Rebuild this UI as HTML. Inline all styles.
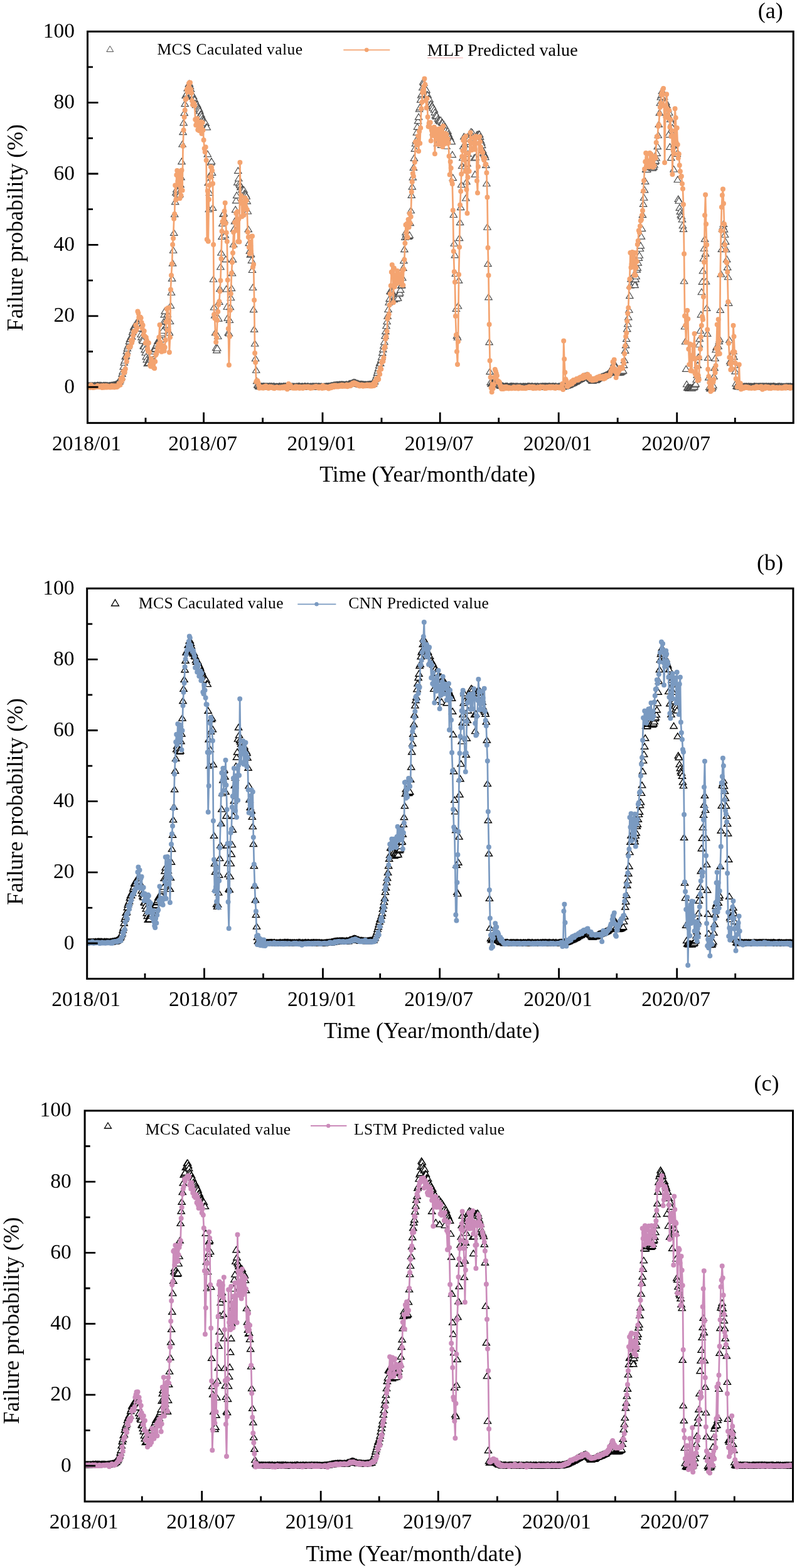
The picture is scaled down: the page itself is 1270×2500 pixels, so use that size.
<!DOCTYPE html>
<html><head><meta charset="utf-8"><title>Failure probability prediction</title>
<style>
html,body{margin:0;padding:0;background:#fff}
svg{display:block}
text{font-family:"Liberation Serif","Times New Roman",serif;fill:#000}
.tl{font-size:33.5px}
.at{font-size:35.8px}
.lg{font-size:25.5px}
.pl{font-size:36px}
</style></head><body>
<svg width="1270" height="2500" viewBox="0 0 1270 2500">
<rect width="1270" height="2500" fill="#fff"/>
<clipPath id="cpa"><rect x="139.5" y="50.25" width="1124.7" height="624.15"/></clipPath>
<g clip-path="url(#cpa)">
<marker id="ma" markerUnits="userSpaceOnUse" markerWidth="20" markerHeight="20" refX="10" refY="10" viewBox="0 0 20 20" overflow="visible"><path d="M10 4.8L15.7 14.2H4.3Z" fill="#fff" stroke="#484848" stroke-width="1.15"/></marker>
<polyline points="137.9,615.3 138.9,615.4 140,614.9 141,615.5 142,615 143.1,615.2 144.1,615.5 145.1,615 146.2,615.5 147.2,615.1 148.2,615.4 149.2,615.4 150.3,615.1 151.3,614.7 152.3,615.3 153.4,615.2 154.4,614.9 155.4,614.6 156.5,614.9 157.5,615 158.5,614.5 159.6,615.3 160.6,614.6 161.6,615.1 162.7,615.2 163.7,615.3 164.7,615.1 165.8,614.6 166.8,615.2 167.8,614.8 168.8,614.7 169.9,615 170.9,614.8 171.9,615.2 173,615.2 174,615.1 175,614.7 176.1,614.8 177.1,614.7 178.1,614.4 179.2,614.4 180.2,614.4 181.2,613.8 182.3,613.7 183.3,613.7 184.3,613.1 185.4,612.8 186.4,611.7 187.4,611.1 188.4,610.8 189.5,608.6 190.5,607.9 191.5,605.8 192.6,602.9 193.6,600.8 194.6,595.9 195.7,592.1 196.7,584.7 197.7,578.1 198.8,574.8 199.8,568.4 200.8,567 201.9,559.7 202.9,555.4 203.9,552.3 205,549.8 206,544.2 207,540.5 208,540.4 209.1,536.2 210.1,536.8 211.1,529.6 212.2,526.7 213.2,521.7 214.2,519.9 215.3,521 216.3,518.1 217.3,514.7 218.4,517 219.4,513.7 220.4,517.5 221.5,519.8 222.5,524.1 223.5,523.7 224.6,533 225.6,537.7 226.6,541.6 227.6,543.4 228.7,551.5 229.7,552.3 230.7,557.4 231.8,562.1 232.8,568.7 233.8,573.5 234.9,579.5 235.9,578.3 236.9,578.4 238,573.1 239,570.5 240,572.9 241.1,570.1 242.1,567.1 243.1,564.4 244.2,560.2 245.2,556.9 246.2,556.3 247.2,555.9 248.3,551.7 249.3,550.4 250.3,547.6 251.4,543.8 252.4,544 253.4,543.7 254.5,541.6 255.5,539.2 256.5,541 257.6,533.6 258.6,531 259.6,527 260.7,513.3 261.7,501.6 262.7,495.9 263.8,511.9 264.8,520 265.8,517.9 266.9,500.8 267.9,511.3 268.9,528.6 269.9,530.3 271,512.3 272,487.1 273,466.3 274.1,443.9 275.1,419.6 276.1,399 277.2,371.1 278.2,341.5 279.2,321.7 280.3,306.9 281.3,301.8 282.3,309 283.4,304.9 284.4,308.8 285.4,310.8 286.5,309.5 287.5,294.1 288.5,282.4 289.5,257.4 290.6,229.8 291.6,210.4 292.6,195.6 293.7,179.9 294.7,165.4 295.7,152.3 296.8,150.4 297.8,148.8 298.8,140.7 299.9,139.3 300.9,133.9 301.9,133.4 303,137.5 304,142 305,148.1 306.1,150.3 307.1,154.3 308.1,153.4 309.1,157.7 310.2,159 311.2,164.7 312.2,167.5 313.3,165.9 314.3,167 315.3,169.9 316.4,172.3 317.4,174.4 318.4,177 319.5,182.3 320.5,182.5 321.5,185.5 322.6,189.5 323.6,191.5 324.6,192.4 325.7,195 326.7,194.7 327.7,196.2 328.7,202.5 329.8,202.8 330.8,245.6 331.8,291.2 332.9,333.4 333.9,307.1 334.9,278.7 336,259 337,257.3 338,275.1 339.1,331.2 340.1,445 341.1,489.8 342.2,502.8 343.2,530.3 344.2,554.6 345.3,558.4 346.3,555.1 347.3,536.1 348.3,507.9 349.4,481.3 350.4,460.4 351.4,425.5 352.5,402.8 353.5,377.2 354.5,356.3 355.6,341.2 356.6,340 357.6,350.8 358.7,374.8 359.7,413.4 360.7,460.8 361.8,489 362.8,506.9 363.8,530.2 364.9,531.5 365.9,510.3 366.9,489.5 367.9,474.5 369,459.4 370,435.5 371,413.7 372.1,389.5 373.1,364.8 374.1,352.6 375.2,334.1 376.2,319.7 377.2,311.4 378.3,290.6 379.3,272.1 380.3,284.5 381.4,292.7 382.4,295.3 383.4,298.5 384.5,298.3 385.5,302.3 386.5,302.8 387.5,306.1 388.6,302.8 389.6,308.2 390.6,309.4 391.7,310.5 392.7,313 393.7,320.6 394.8,336.8 395.8,365.4 396.8,387.4 397.9,399.9 398.9,405.9 399.9,404.9 401,415.1 402,430.3 403,458.3 404.1,493.4 405.1,524.9 406.1,547.8 407.1,571.5 408.2,590.1 409.2,607.5 410.2,613.5 411.3,614.4 412.3,616.1 413.3,615.9 414.4,616.3 415.4,616.4 416.4,616.1 417.5,616.3 418.5,616.3 419.5,616.1 420.6,616 421.6,616.4 422.6,616.2 423.7,616.3 424.7,616.3 425.7,616.2 426.7,616.4 427.8,616.3 428.8,616.4 429.8,615.9 430.9,616.2 431.9,616 432.9,615.9 434,616.6 435,616.3 436,615.9 437.1,616 438.1,616.7 439.1,616.7 440.2,616.4 441.2,616.7 442.2,616.6 443.3,616.7 444.3,616.2 445.3,616.1 446.3,616 447.4,616.7 448.4,616.2 449.4,616.2 450.5,616.7 451.5,616 452.5,615.9 453.6,616.6 454.6,615.9 455.6,616.4 456.7,616.4 457.7,615.9 458.7,616 459.8,616.7 460.8,616.4 461.8,616.3 462.9,616.5 463.9,616.6 464.9,616.5 465.9,616.1 467,616.8 468,616.3 469,616.4 470.1,616.8 471.1,616.5 472.1,616.2 473.2,616.3 474.2,616.7 475.2,615.9 476.3,616.1 477.3,615.9 478.3,616.7 479.4,616.6 480.4,616.8 481.4,616.1 482.5,616.6 483.5,616.7 484.5,616.4 485.5,616 486.6,616.1 487.6,616.6 488.6,616.7 489.7,616 490.7,616.3 491.7,616.2 492.8,616.7 493.8,616.8 494.8,616.2 495.9,616.4 496.9,616.7 497.9,616 499,616.2 500,616.1 501,616.7 502.1,616 503.1,616.7 504.1,616 505.1,616.4 506.2,616.5 507.2,616.3 508.2,616 509.3,616.6 510.3,616.7 511.3,616.3 512.4,616.6 513.4,616.7 514.4,616.7 515.5,616.8 516.5,616.6 517.5,616.5 518.6,616.5 519.6,616.1 520.6,616.4 521.7,616.1 522.7,616.2 523.7,615.9 524.8,616.1 525.8,615.7 526.8,615.8 527.8,615 528.9,615 529.9,615.1 530.9,614.7 532,614.1 533,614.7 534,613.9 535.1,614 536.1,613.8 537.1,613.5 538.2,613.8 539.2,613.7 540.2,613.5 541.3,613.2 542.3,613.8 543.3,613.3 544.4,613.4 545.4,613.4 546.4,613.6 547.4,613.6 548.5,613.8 549.5,613.7 550.5,613.7 551.6,613.1 552.6,613.5 553.6,613.6 554.7,613.6 555.7,612.5 556.7,612.1 557.8,611.9 558.8,611.8 559.8,611.5 560.9,611 561.9,610.4 562.9,610.3 564,609.6 565,610.2 566,610 567,610.4 568.1,611.2 569.1,611.8 570.1,611.4 571.2,612.3 572.2,612.5 573.2,613.1 574.3,612.8 575.3,612.8 576.3,612.8 577.4,613.2 578.4,612.9 579.4,613.5 580.5,613.3 581.5,613.5 582.5,613.3 583.6,613.6 584.6,613.6 585.6,613.3 586.6,613.4 587.7,613 588.7,613 589.7,612.8 590.8,612.8 591.8,612.8 592.8,612.2 593.9,612.3 594.9,612 595.9,609.4 597,607.9 598,604.4 599,601.6 600.1,598.5 601.1,594.2 602.1,590.8 603.2,586.9 604.2,582.6 605.2,578.4 606.2,579.2 607.3,573.4 608.3,569 609.3,562.4 610.4,556.9 611.4,551.1 612.4,545 613.5,535.4 614.5,528.2 615.5,519.6 616.6,512.6 617.6,503.9 618.6,493.3 619.7,482 620.7,476.2 621.7,464.3 622.8,464.9 623.8,463.3 624.8,466.2 625.8,468.7 626.9,472.1 627.9,477.4 628.9,473 630,473.9 631,476 632,474.7 633.1,472.8 634.1,475.3 635.1,468.3 636.2,468.5 637.2,466.8 638.2,461.9 639.3,455.3 640.3,454.6 641.3,442.8 642.4,427.1 643.4,415.4 644.4,397.4 645.4,378.1 646.5,370.5 647.5,373.1 648.5,377.2 649.6,375.3 650.6,377.2 651.6,376.2 652.7,374.9 653.7,355.4 654.7,335.5 655.8,311.2 656.8,297.6 657.8,282.6 658.9,267.1 659.9,252.1 660.9,237.2 662,228.8 663,223.9 664,211.1 665,202.1 666.1,192.7 667.1,186.4 668.1,173.6 669.2,171.1 670.2,158.9 671.2,151.8 672.3,149.6 673.3,139.5 674.3,130.4 675.4,132.3 676.4,138.4 677.4,142.2 678.5,145.3 679.5,143.4 680.5,150.7 681.6,151.5 682.6,157.3 683.6,158.1 684.6,158.5 685.7,166.7 686.7,165.6 687.7,169.4 688.8,168.9 689.8,172 690.8,210.6 691.9,174.7 692.9,179.1 693.9,183.9 695,185.8 696,184.6 697,228.5 698.1,189.2 699.1,191.6 700.1,191.8 701.2,193.4 702.2,191.5 703.2,231.3 704.2,194.9 705.3,195.9 706.3,201.9 707.3,198.4 708.4,201.6 709.4,202.3 710.4,208 711.5,233 712.5,210.8 713.5,208.9 714.6,213.4 715.6,216.7 716.6,218.3 717.7,221.1 718.7,224.3 719.7,225.6 720.8,246.6 721.8,283.4 722.8,342.3 723.8,388 724.9,406.6 725.9,436.3 726.9,492.1 728,535.2 729,537.8 730,487.8 731.1,446.9 732.1,379.4 733.1,354.4 734.2,330.4 735.2,294.3 736.2,264.3 737.3,251.5 738.3,233 739.3,217.8 740.4,230.1 741.4,264.8 742.4,315.8 743.4,289.5 744.5,260.7 745.5,245.3 746.5,226.1 747.6,220.7 748.6,214.8 749.6,211.7 750.7,210 751.7,214.1 752.7,211.4 753.8,217.6 754.8,219.9 755.8,251.6 756.9,277.9 757.9,250.8 758.9,222.1 760,214.9 761,214.6 762,217.2 763,213.8 764.1,214.1 765.1,218.3 766.1,223.9 767.2,227.1 768.2,231.4 769.2,239.4 770.3,243.5 771.3,245 772.3,247.3 773.4,250.5 774.4,263.2 775.4,292.5 776.5,362 777.5,420.4 778.5,473.6 779.6,545.4 780.6,592.4 781.6,609.4 782.6,612 783.7,610.8 784.7,611 785.7,610.1 786.8,609.6 787.8,609 788.8,609.2 789.9,609.9 790.9,610.7 791.9,611.3 793,612 794,612.3 795,613.1 796.1,613.7 797.1,614.8 798.1,615.2 799.2,614.9 800.2,615 801.2,615.7 802.3,615.9 803.3,616.8 804.3,616.4 805.3,616 806.4,616.1 807.4,616 808.4,615.9 809.5,616.6 810.5,616.7 811.5,616.7 812.6,616.3 813.6,616.2 814.6,615.9 815.7,616.1 816.7,616.2 817.7,616.1 818.8,616.4 819.8,616.3 820.8,616.8 821.9,616.1 822.9,616.6 823.9,616 824.9,616.2 826,616.5 827,616.7 828,616.6 829.1,616.2 830.1,616.2 831.1,616.7 832.2,616.7 833.2,616.3 834.2,616.3 835.3,616.5 836.3,616.6 837.3,616.3 838.4,616.8 839.4,616.5 840.4,616.4 841.5,615.9 842.5,616.2 843.5,616 844.5,616.4 845.6,616.6 846.6,616.6 847.6,615.9 848.7,616.2 849.7,616.5 850.7,616.8 851.8,616.4 852.8,616.2 853.8,616.4 854.9,616.6 855.9,616.2 856.9,616 858,616.6 859,616.8 860,616.5 861.1,616.4 862.1,616.2 863.1,616.6 864.1,616.1 865.2,616.1 866.2,616.3 867.2,616.6 868.3,615.9 869.3,616.5 870.3,616.1 871.4,616.6 872.4,616.6 873.4,616.1 874.5,616.5 875.5,615.9 876.5,616.4 877.6,616.6 878.6,616.6 879.6,616.4 880.7,616.2 881.7,615.9 882.7,616.7 883.7,616.4 884.8,616.6 885.8,615.9 886.8,616.7 887.9,616.8 888.9,616.7 889.9,616.4 891,616 892,616 893,616.1 894.1,615.9 895.1,616 896.1,616.5 897.2,616.4 898.2,615.5 899.2,615.4 900.3,615.8 901.3,615 902.3,615 903.3,614.8 904.4,614.3 905.4,614 906.4,613.7 907.5,613 908.5,612.5 909.5,611.5 910.6,611.8 911.6,610.6 912.6,610.8 913.7,610.2 914.7,609.3 915.7,608.8 916.8,608.6 917.8,608.3 918.8,607.3 919.9,606.7 920.9,605.6 921.9,605.6 922.9,604.9 924,603.9 925,604.2 926,603.3 927.1,602.4 928.1,601.9 929.1,602 930.2,601.4 931.2,601.1 932.2,599.9 933.3,600.2 934.3,599.4 935.3,598.9 936.4,599 937.4,600.1 938.4,600.6 939.5,602 940.5,603.4 941.5,604.2 942.5,605.8 943.6,607 944.6,607.1 945.6,606.3 946.7,606 947.7,606.1 948.7,605.7 949.8,605.9 950.8,605.1 951.8,604.3 952.9,603.3 953.9,602.7 954.9,602.6 956,602.3 957,601.8 958,601.4 959.1,600.6 960.1,601 961.1,600 962.1,599.7 963.2,599.3 964.2,598.8 965.2,598.3 966.3,598 967.3,597.4 968.3,596.8 969.4,595.2 970.4,594.7 971.4,593.7 972.5,591.6 973.5,590.6 974.5,591.6 975.6,589.5 976.6,584 977.6,584.3 978.7,579.1 979.7,582.5 980.7,584.7 981.7,590.8 982.8,593.8 983.8,594.3 984.8,594.5 985.9,594 986.9,594 987.9,593.9 989,593.5 990,592.7 991,592.1 992.1,591.5 993.1,590.8 994.1,582.2 995.2,574.2 996.2,558.9 997.2,550.4 998.3,540.2 999.3,524.4 1000.3,516.5 1001.3,505.7 1002.4,494 1003.4,471.4 1004.4,454.9 1005.5,444.7 1006.5,443.8 1007.5,442.5 1008.6,444.9 1009.6,444 1010.6,449.9 1011.7,454.4 1012.7,445.2 1013.7,440.5 1014.8,429.9 1015.8,426.9 1016.8,418.9 1017.9,411.1 1018.9,407 1019.9,396.3 1020.9,391.6 1022,376.9 1023,364.4 1024,342.4 1025.1,325.1 1026.1,315 1027.1,302.7 1028.2,289.1 1029.2,269.6 1030.2,270.5 1031.3,270 1032.3,265.3 1033.3,262.9 1034.4,266.7 1035.4,262.2 1036.4,262.8 1037.5,266 1038.5,265.8 1039.5,267.9 1040.6,266.8 1041.6,265.7 1042.6,262.8 1043.6,257.9 1044.7,256.2 1045.7,251.7 1046.7,244.1 1047.8,233.4 1048.8,215.5 1049.8,198.2 1050.9,179.6 1051.9,164 1052.9,154.8 1054,151.6 1055,145.1 1056,147.2 1057.1,150.5 1058.1,154.2 1059.1,160.8 1060.2,163.4 1061.2,162.8 1062.2,167.2 1063.2,170.6 1064.3,173.3 1065.3,214.6 1066.3,179.5 1067.4,234.1 1068.4,190 1069.4,251.4 1070.5,196.5 1071.5,203.6 1072.5,215.5 1073.6,269.8 1074.6,230.2 1075.6,237.7 1076.7,243.2 1077.7,239.9 1078.7,245.2 1079.8,286.3 1080.8,317.3 1081.8,320 1082.8,331.1 1083.9,337.2 1084.9,342.4 1085.9,344.7 1087,349.8 1088,359.5 1089,365.2 1090.1,448 1091.1,520.5 1092.1,544.6 1093.2,588.2 1094.2,612.6 1095.2,618 1096.3,617.9 1097.3,619 1098.3,618.6 1099.4,618.3 1100.4,618.2 1101.4,618.9 1102.4,619 1103.5,617.8 1104.5,617.4 1105.5,617.5 1106.6,616 1107.6,613.3 1108.6,611.9 1109.7,605 1110.7,598 1111.7,582.3 1112.8,569.4 1113.8,549.1 1114.8,540.1 1115.9,527.1 1116.9,501.6 1117.9,465.5 1119,449.1 1120,431.8 1121,412 1122,396 1123.1,380.9 1124.1,404.1 1125.1,448.7 1126.2,491.1 1127.2,531.9 1128.2,570.2 1129.3,601.7 1130.3,617.2 1131.3,619.6 1132.4,618.9 1133.4,619.5 1134.4,619.1 1135.5,616.9 1136.5,614.5 1137.5,600.1 1138.6,586.5 1139.6,571.3 1140.6,557.6 1141.6,553.6 1142.7,552.3 1143.7,551 1144.7,552.1 1145.8,544.2 1146.8,540.7 1147.8,494.1 1148.9,437 1149.9,397.2 1150.9,364.6 1152,361.2 1153,357.1 1154,365.6 1155.1,374 1156.1,385.2 1157.1,397.5 1158.2,413.4 1159.2,426.1 1160.2,441.5 1161.2,483.1 1162.3,542.1 1163.3,576.1 1164.3,578.6 1165.4,574.6 1166.4,571.8 1167.4,564.2 1168.5,560.1 1169.5,569 1170.5,582 1171.6,591.9 1172.6,611.4 1173.6,615.6 1174.7,615.8 1175.7,616.6 1176.7,615.9 1177.8,616.4 1178.8,615.9 1179.8,616 1180.8,616.7 1181.9,616.1 1182.9,616 1183.9,616.7 1185,616.5 1186,616.1 1187,616.7 1188.1,616 1189.1,616.6 1190.1,616.1 1191.2,616.7 1192.2,616.3 1193.2,616 1194.3,616.6 1195.3,616.6 1196.3,616.3 1197.4,616.5 1198.4,616.8 1199.4,616.6 1200.4,616.7 1201.5,616 1202.5,616.2 1203.5,616 1204.6,616.7 1205.6,616.1 1206.6,616.7 1207.7,616.3 1208.7,616.2 1209.7,616.5 1210.8,616 1211.8,616.3 1212.8,616.3 1213.9,616 1214.9,616.7 1215.9,615.9 1217,616.2 1218,616.4 1219,616.1 1220,616.6 1221.1,615.9 1222.1,616.3 1223.1,616.5 1224.2,616.1 1225.2,616.4 1226.2,616.6 1227.3,616.1 1228.3,616.8 1229.3,616.1 1230.4,616.6 1231.4,616.2 1232.4,615.9 1233.5,616.3 1234.5,616.2 1235.5,616.5 1236.6,616.8 1237.6,616.8 1238.6,616.7 1239.6,616.2 1240.7,616.4 1241.7,616.3 1242.7,616 1243.8,616.7 1244.8,616.6 1245.8,616.2 1246.9,616.8 1247.9,616.8 1248.9,616.5 1250,616.7 1251,616.5 1252,616.6 1253.1,616.3 1254.1,616.3 1255.1,616.6 1256.2,616.2 1257.2,616.4 1258.2,616.7 1259.2,616 1260.3,616.6 1261.3,616.7 1262.3,616.7 1263.4,616.2 1264.4,616 1265.4,616.1 1266.5,616.4 1267.5,616.6 1268.5,616.8 1269.6,616.2 1270.6,616.3 1271.6,616.5" fill="none" stroke="none" marker-start="url(#ma)" marker-mid="url(#ma)" marker-end="url(#ma)"/>
<path d="M137.9 616.8L138.9 615.4L140 616.6L141 617.5L142 616.2L143.1 617.8L144.1 617.8L145.1 613.9L146.2 615.3L147.2 616.2L148.2 617.9L149.2 617.8L150.3 617.8L151.3 616.7L152.3 616.5L153.4 616.5L154.4 616.6L155.4 615.1L156.5 615.5L157.5 617L158.5 617.1L159.6 615.7L160.6 615.5L161.6 615.2L162.7 617.9L163.7 615.3L164.7 615.1L165.8 617.7L166.8 615.6L167.8 617.6L168.8 615.1L169.9 617.5L170.9 617.5L171.9 615.6L173 616.2L174 617.3L175 617.4L176.1 617.5L177.1 617.2L178.1 615L179.2 616.9L180.2 617.2L181.2 615.3L182.3 617.5L183.3 617.2L184.3 615.2L185.4 616.5L186.4 617.1L187.4 616.2L188.4 614.9L189.5 611.2L190.5 612.3L191.5 613.8L192.6 603.8L193.6 608.2L194.6 601.4L195.7 604.6L196.7 592.3L197.7 594.5L198.8 593.3L199.8 588.3L200.8 570.1L201.9 576.3L202.9 564.5L203.9 566.1L205 553.3L206 553.3L207 553.5L208 551.6L209.1 542.6L210.1 546.6L211.1 541.9L212.2 535.1L213.2 528.7L214.2 528.1L215.3 528.7L216.3 518.6L217.3 525.7L218.4 522.3L219.4 496.4L220.4 499.2L221.5 505.9L222.5 506.8L223.5 505.6L224.6 506.9L225.6 514.2L226.6 523.2L227.6 518.6L228.7 533.8L229.7 527.8L230.7 535.9L231.8 547.1L232.8 538L233.8 542.4L234.9 556L235.9 560.1L236.9 546.7L238 561.6L239 581.6L240 584L241.1 572.1L242.1 575L243.1 582.4L244.2 577.6L245.2 586.6L246.2 587.3L247.2 576.4L248.3 565.9L249.3 564.1L250.3 560.5L251.4 554.8L252.4 548.7L253.4 537.8L254.5 517.9L255.5 545.5L256.5 550.5L257.6 560.8L258.6 555.4L259.6 551L260.7 555.8L261.7 559.5L262.7 553.7L263.8 542.3L264.8 513.3L265.8 492.4L266.9 513.2L267.9 490.9L268.9 526.6L269.9 561.7L271 537.8L272 461.8L273 439.1L274.1 420.8L275.1 389.9L276.1 380.1L277.2 348.7L278.2 341.2L279.2 295.4L280.3 318.7L281.3 279.1L282.3 271.9L283.4 288.9L284.4 284.7L285.4 295L286.5 316.2L287.5 277.7L288.5 311.8L289.5 271.5L290.6 303.6L291.6 233.1L292.6 207.5L293.7 186.8L294.7 175.8L295.7 158.4L296.8 157.4L297.8 143L298.8 146.5L299.9 139.5L300.9 133.3L301.9 131.8L303 131.8L304 142.6L305 148.2L306.1 160.6L307.1 167L308.1 165.3L309.1 164.8L310.2 168.4L311.2 190.5L312.2 199.5L313.3 193.4L314.3 189L315.3 207.1L316.4 202.7L317.4 208.2L318.4 196.9L319.5 207.9L320.5 194.5L321.5 213L322.6 195.5L323.6 207.5L324.6 223.3L325.7 236.8L326.7 242.2L327.7 234.6L328.7 255.4L329.8 381.7L330.8 304.3L331.8 384.7L332.9 318.1L333.9 295.4L334.9 282.4L336 266.1L337 266.7L338 272.1L339.1 292.8L340.1 390L341.1 501.4L342.2 507.6L343.2 532.9L344.2 545.5L345.3 538.4L346.3 510.6L347.3 497L348.3 485.8L349.4 480.7L350.4 464.5L351.4 447.3L352.5 412.4L353.5 368.7L354.5 353.2L355.6 355.4L356.6 348.4L357.6 336.7L358.7 323.4L359.7 356.1L360.7 370.9L361.8 384.9L362.8 446.4L363.8 523.9L364.9 582L365.9 536.5L366.9 494.6L367.9 468.2L369 435.5L370 418.3L371 403.3L372.1 370.2L373.1 393.1L374.1 354.4L375.2 354.3L376.2 339.9L377.2 367.3L378.3 337.5L379.3 385.2L380.3 349.4L381.4 385.5L382.4 258.9L383.4 320.3L384.5 312.3L385.5 345.2L386.5 325L387.5 322.3L388.6 343L389.6 331.4L390.6 315.6L391.7 330.4L392.7 319.8L393.7 334.3L394.8 370L395.8 378.1L396.8 394.2L397.9 404.4L398.9 386.1L399.9 400.7L401 376.8L402 376.4L403 426.1L404.1 421.7L405.1 478.6L406.1 562.9L407.1 577.8L408.2 608.8L409.2 606.9L410.2 606.9L411.3 609.8L412.3 613.9L413.3 618.8L414.4 618.2L415.4 617.3L416.4 616.9L417.5 618.5L418.5 616.9L419.5 618.7L420.6 616.6L421.6 617.7L422.6 617.8L423.7 615.5L424.7 617.8L425.7 617L426.7 617.9L427.8 619.1L428.8 618.1L429.8 616.6L430.9 617.9L431.9 618L432.9 616.7L434 618.3L435 617.5L436 618.9L437.1 619.2L438.1 618.6L439.1 618.3L440.2 617.4L441.2 617.1L442.2 617.7L443.3 618.6L444.3 617.9L445.3 618L446.3 618.7L447.4 617.4L448.4 617.6L449.4 617.4L450.5 618.5L451.5 616.8L452.5 618.2L453.6 616.5L454.6 616.3L455.6 618.7L456.7 617L457.7 620.6L458.7 618.2L459.8 611.9L460.8 613.3L461.8 616.3L462.9 614.6L463.9 617.6L464.9 617.6L465.9 618.5L467 618.8L468 617.6L469 618.7L470.1 618.5L471.1 616.3L472.1 618.8L473.2 616.4L474.2 616.9L475.2 617.7L476.3 617.9L477.3 619L478.3 616.7L479.4 617.8L480.4 617.9L481.4 618.6L482.5 619L483.5 616.8L484.5 616.6L485.5 617.9L486.6 617.6L487.6 616.8L488.6 616.5L489.7 616.9L490.7 617.9L491.7 616.6L492.8 616.9L493.8 617.9L494.8 618.9L495.9 618.8L496.9 617.3L497.9 618.4L499 617.2L500 617.2L501 617.6L502.1 616.2L503.1 617.1L504.1 616L505.1 617L506.2 617.9L507.2 618.5L508.2 618.8L509.3 616.5L510.3 617.6L511.3 617.5L512.4 617.3L513.4 618.9L514.4 615L515.5 618.6L516.5 618.6L517.5 617.3L518.6 616.4L519.6 617.6L520.6 618L521.7 617L522.7 618L523.7 619.4L524.8 618.5L525.8 616.2L526.8 615.7L527.8 618.2L528.9 615.2L529.9 615.1L530.9 616.3L532 616.9L533 614.5L534 615.8L535.1 614.5L536.1 616.6L537.1 615.5L538.2 616.6L539.2 616.4L540.2 614.8L541.3 615.9L542.3 615.4L543.3 615.1L544.4 613.8L545.4 615.9L546.4 613.9L547.4 614.7L548.5 615.7L549.5 614.8L550.5 614.6L551.6 615.8L552.6 613.5L553.6 616.2L554.7 615.6L555.7 614L556.7 613.9L557.8 615.2L558.8 613L559.8 613.3L560.9 613.5L561.9 611L562.9 613L564 610.3L565 610.6L566 612.3L567 611.2L568.1 612.3L569.1 613.8L570.1 612.5L571.2 613.9L572.2 615.3L573.2 615.6L574.3 614.1L575.3 613.8L576.3 613.6L577.4 615.3L578.4 615.8L579.4 613.9L580.5 615.3L581.5 615.1L582.5 615.2L583.6 614.2L584.6 613.6L585.6 613.6L586.6 614L587.7 615.3L588.7 613.6L589.7 615.5L590.8 615.2L591.8 615.2L592.8 615.5L593.9 612.8L594.9 611.9L595.9 614.9L597 609L598 613L599 607.7L600.1 603.5L601.1 603.3L602.1 602.5L603.2 604.8L604.2 592.6L605.2 596.8L606.2 586.4L607.3 588.5L608.3 578L609.3 575.9L610.4 575.9L611.4 570.3L612.4 555.7L613.5 552.8L614.5 540.2L615.5 536.5L616.6 528.3L617.6 508.2L618.6 505.5L619.7 501.1L620.7 486.2L621.7 468.8L622.8 455.4L623.8 433.7L624.8 422.2L625.8 437.2L626.9 482.3L627.9 427.4L628.9 457.3L630 438.4L631 444.1L632 452.2L633.1 432L634.1 449.2L635.1 449.8L636.2 437L637.2 448.3L638.2 447.6L639.3 439.2L640.3 454.3L641.3 431.1L642.4 454.8L643.4 429.3L644.4 414L645.4 387.8L646.5 358.5L647.5 371.2L648.5 356.7L649.6 378.5L650.6 350L651.6 362.2L652.7 340.5L653.7 356L654.7 345.5L655.8 306L656.8 289.9L657.8 276.6L658.9 281L659.9 268.6L660.9 258.4L662 226.6L663 225.8L664 229.1L665 230.9L666.1 216.9L667.1 241.1L668.1 209.5L669.2 228.6L670.2 204L671.2 173.2L672.3 162.9L673.3 147.6L674.3 144.1L675.4 137.7L676.4 125.6L677.4 134.8L678.5 160.3L679.5 172L680.5 156.9L681.6 186.5L682.6 201.7L683.6 196.5L684.6 202.3L685.7 195.2L686.7 224.6L687.7 207.5L688.8 204.3L689.8 216.2L690.8 211.7L691.9 202.7L692.9 245.2L693.9 216.6L695 206.3L696 221.9L697 206.2L698.1 230.1L699.1 230.4L700.1 205.5L701.2 228.5L702.2 209.4L703.2 225L704.2 203.9L705.3 234L706.3 201.1L707.3 224.9L708.4 229.3L709.4 212.7L710.4 226L711.5 214.5L712.5 228.5L713.5 221.2L714.6 227.7L715.6 249L716.6 278.6L717.7 257.7L718.7 268.1L719.7 288.6L720.8 293.2L721.8 335.3L722.8 400.7L723.8 433.3L724.9 449.8L725.9 503.9L726.9 534.1L728 560.6L729 580.9L730 544.4L731.1 437.8L732.1 394.1L733.1 326.8L734.2 305L735.2 277.5L736.2 249.4L737.3 240.1L738.3 223.7L739.3 220.3L740.4 255.2L741.4 272.9L742.4 217.1L743.4 302.2L744.5 340L745.5 282.8L746.5 244.5L747.6 273L748.6 224.8L749.6 211.5L750.7 227.5L751.7 239.2L752.7 236.9L753.8 237.3L754.8 219.2L755.8 229L756.9 238.3L757.9 217.2L758.9 219.7L760 288.3L761 307.6L762 265.7L763 228.5L764.1 218.1L765.1 226.1L766.1 234.5L767.2 239.7L768.2 242.7L769.2 243.2L770.3 251.3L771.3 255.2L772.3 252.3L773.4 262.5L774.4 261.9L775.4 275.5L776.5 314.5L777.5 395.1L778.5 438.9L779.6 517.2L780.6 574.9L781.6 601.5L782.6 618.4L783.7 625.1L784.7 613.3L785.7 619.2L786.8 613.1L787.8 601.4L788.8 589.1L789.9 592.1L790.9 595.5L791.9 599L793 607.1L794 609.5L795 608.4L796.1 609.7L797.1 614.3L798.1 617.2L799.2 620.1L800.2 619.3L801.2 618L802.3 620L803.3 617.1L804.3 618.7L805.3 619.3L806.4 616.8L807.4 617.6L808.4 619.1L809.5 617.8L810.5 619.4L811.5 618L812.6 618.7L813.6 618.6L814.6 619.2L815.7 619.2L816.7 618L817.7 618L818.8 617L819.8 617.2L820.8 619.2L821.9 618.7L822.9 618.8L823.9 617.2L824.9 618L826 619.4L827 616.7L828 617.6L829.1 617.6L830.1 618.4L831.1 619L832.2 618.1L833.2 618.4L834.2 619L835.3 618.7L836.3 618.5L837.3 619.3L838.4 619L839.4 617.7L840.4 618.3L841.5 617.5L842.5 617.3L843.5 616.6L844.5 617L845.6 618.2L846.6 616.8L847.6 617.9L848.7 616.8L849.7 619.2L850.7 616.8L851.8 617.6L852.8 618.5L853.8 619.1L854.9 618.1L855.9 618.2L856.9 617.3L858 618.6L859 618.2L860 619.1L861.1 616.5L862.1 616.8L863.1 617L864.1 617.1L865.2 616.7L866.2 617L867.2 617.7L868.3 619.2L869.3 618.4L870.3 619.1L871.4 616.9L872.4 618.2L873.4 617.3L874.5 618.3L875.5 616.5L876.5 617.9L877.6 618.4L878.6 616.6L879.6 616.8L880.7 617.8L881.7 616.7L882.7 618.6L883.7 618.6L884.8 619L885.8 617.1L886.8 616.6L887.9 617.1L888.9 617.1L889.9 617.8L891 618.5L892 617.1L893 618.6L894.1 617.2L895.1 618.1L896.1 612L897.2 621.1L898.2 543.5L899.2 572.5L900.3 593.8L901.3 604.8L902.3 607.1L903.3 615.2L904.4 616.3L905.4 614.9L906.4 611.7L907.5 613.5L908.5 612.9L909.5 610.7L910.6 608.3L911.6 611.7L912.6 607.6L913.7 606.1L914.7 608.9L915.7 606.4L916.8 605.9L917.8 606L918.8 604.1L919.9 605L920.9 605.9L921.9 605.4L922.9 604.7L924 602.1L925 601.6L926 602.4L927.1 601.6L928.1 603.3L929.1 599.2L930.2 598.2L931.2 601.9L932.2 599.3L933.3 599.6L934.3 600L935.3 598L936.4 596.9L937.4 601.3L938.4 603L939.5 599.9L940.5 603.6L941.5 605.4L942.5 605.7L943.6 606.5L944.6 604L945.6 606.3L946.7 605.3L947.7 603.5L948.7 603.7L949.8 605.5L950.8 604.3L951.8 601.6L952.9 603.2L953.9 602.5L954.9 603.3L956 600.1L957 602.9L958 602L959.1 602.5L960.1 602.9L961.1 600.1L962.1 604.1L963.2 602.4L964.2 602.9L965.2 599.2L966.3 598.5L967.3 600.1L968.3 599.7L969.4 599.5L970.4 598.8L971.4 598L972.5 595.8L973.5 591.8L974.5 591.3L975.6 586.6L976.6 577L977.6 578.8L978.7 573.4L979.7 588.6L980.7 592.6L981.7 601.9L982.8 595.6L983.8 596.3L984.8 593.8L985.9 591.9L986.9 590L987.9 585.9L989 586L990 587.5L991 586.2L992.1 587.3L993.1 574.7L994.1 579.6L995.2 564L996.2 551.5L997.2 536.4L998.3 530.7L999.3 512.1L1000.3 499.8L1001.3 490.7L1002.4 458.5L1003.4 445.1L1004.4 403L1005.5 426.4L1006.5 421.2L1007.5 402L1008.6 424.8L1009.6 409.4L1010.6 438.8L1011.7 403.1L1012.7 438.9L1013.7 426.7L1014.8 416.8L1015.8 389.8L1016.8 383.9L1017.9 367.5L1018.9 370.7L1019.9 360.4L1020.9 351.9L1022 350.2L1023 343.2L1024 335.8L1025.1 304.5L1026.1 288L1027.1 269.6L1028.2 257.8L1029.2 244.1L1030.2 265.4L1031.3 245.3L1032.3 258.9L1033.3 256.7L1034.4 266L1035.4 244L1036.4 261.6L1037.5 246.1L1038.5 260.8L1039.5 248.9L1040.6 266.4L1041.6 252.2L1042.6 264L1043.6 249L1044.7 252.1L1045.7 227.2L1046.7 217.7L1047.8 218L1048.8 201.3L1049.8 199.1L1050.9 181.7L1051.9 170.9L1052.9 164.4L1054 151.1L1055 147.8L1056 143.2L1057.1 140.9L1058.1 168.6L1059.1 259.2L1060.2 186.5L1061.2 168.5L1062.2 150.3L1063.2 173.1L1064.3 183.8L1065.3 188.6L1066.3 175.9L1067.4 202.8L1068.4 190.7L1069.4 217.3L1070.5 208.2L1071.5 278L1072.5 238.7L1073.6 216.2L1074.6 245L1075.6 173.3L1076.7 187.7L1077.7 226.9L1078.7 203.9L1079.8 230.4L1080.8 251.9L1081.8 245.6L1082.8 263.6L1083.9 273.3L1084.9 282.1L1085.9 280.9L1087 293L1088 300.9L1089 326.1L1090.1 404.7L1091.1 503.7L1092.1 519.1L1093.2 545.7L1094.2 510.4L1095.2 495.1L1096.3 508.6L1097.3 556.5L1098.3 581.3L1099.4 548.4L1100.4 591.1L1101.4 566.7L1102.4 591.4L1103.5 550.3L1104.5 571.9L1105.5 550.9L1106.6 531.9L1107.6 595.7L1108.6 571.5L1109.7 600.1L1110.7 585.2L1111.7 606.7L1112.8 598.8L1113.8 605.2L1114.8 570.1L1115.9 556.5L1116.9 537.2L1117.9 519L1119 504.8L1120 509.6L1121 473.2L1122 418L1123.1 343.2L1124.1 310.5L1125.1 357.2L1126.2 390.3L1127.2 525.5L1128.2 588.8L1129.3 600.2L1130.3 609.9L1131.3 617.2L1132.4 623.9L1133.4 615.6L1134.4 606L1135.5 621.4L1136.5 609.2L1137.5 604.9L1138.6 589.1L1139.6 594.3L1140.6 583L1141.6 555.6L1142.7 517.5L1143.7 564.6L1144.7 509.3L1145.8 543.5L1146.8 564L1147.8 438.6L1148.9 368L1149.9 330.2L1150.9 311.3L1152 301.4L1153 324.4L1154 357.2L1155.1 390.3L1156.1 399.1L1157.1 417.5L1158.2 419L1159.2 433.7L1160.2 481.3L1161.2 547.2L1162.3 569.8L1163.3 579.4L1164.3 589.5L1165.4 572.7L1166.4 587.9L1167.4 561.7L1168.5 518.9L1169.5 536.6L1170.5 561.3L1171.6 578.7L1172.6 603.9L1173.6 604.4L1174.7 616.9L1175.7 609.5L1176.7 614.4L1177.8 581.2L1178.8 611.2L1179.8 611.3L1180.8 620.6L1181.9 620.1L1182.9 617L1183.9 618.7L1185 619L1186 617.7L1187 618.2L1188.1 616.7L1189.1 618L1190.1 616.9L1191.2 618L1192.2 617.6L1193.2 618.7L1194.3 618.8L1195.3 618.4L1196.3 618.8L1197.4 619.1L1198.4 618.7L1199.4 618.4L1200.4 617.8L1201.5 618.4L1202.5 619L1203.5 618.3L1204.6 618.6L1205.6 616.3L1206.6 616.7L1207.7 618L1208.7 618L1209.7 617.6L1210.8 617.4L1211.8 616.5L1212.8 616.3L1213.9 616.8L1214.9 620.7L1215.9 618.8L1217 618.2L1218 618.3L1219 619.2L1220 616.6L1221.1 616.9L1222.1 617.1L1223.1 616.9L1224.2 617L1225.2 618.9L1226.2 618.1L1227.3 618.5L1228.3 619.2L1229.3 618.6L1230.4 618.2L1231.4 616.9L1232.4 617.4L1233.5 618.4L1234.5 618.3L1235.5 618.3L1236.6 618.6L1237.6 617.7L1238.6 618.8L1239.6 618.9L1240.7 618.3L1241.7 618.1L1242.7 617.7L1243.8 618.7L1244.8 618.4L1245.8 619L1246.9 618.1L1247.9 618.7L1248.9 617.3L1250 618.5L1251 616.6L1252 618.8L1253.1 616.5L1254.1 617.5L1255.1 617.5L1256.2 617.6L1257.2 616.9L1258.2 617.9L1259.2 619L1260.3 617.4L1261.3 617.4L1262.3 618.2L1263.4 617.6L1264.4 617.5L1265.4 618.1L1266.5 617.6L1267.5 618.9L1268.5 616.5L1269.6 618.5L1270.6 616.5L1271.6 616.9" fill="none" stroke="#F4A470" stroke-width="2.7" stroke-linejoin="round"/>
<path d="M137.9 616.8h0M138.9 615.4h0M140 616.6h0M141 617.5h0M142 616.2h0M143.1 617.8h0M144.1 617.8h0M145.1 613.9h0M146.2 615.3h0M147.2 616.2h0M148.2 617.9h0M149.2 617.8h0M150.3 617.8h0M151.3 616.7h0M152.3 616.5h0M153.4 616.5h0M154.4 616.6h0M155.4 615.1h0M156.5 615.5h0M157.5 617h0M158.5 617.1h0M159.6 615.7h0M160.6 615.5h0M161.6 615.2h0M162.7 617.9h0M163.7 615.3h0M164.7 615.1h0M165.8 617.7h0M166.8 615.6h0M167.8 617.6h0M168.8 615.1h0M169.9 617.5h0M170.9 617.5h0M171.9 615.6h0M173 616.2h0M174 617.3h0M175 617.4h0M176.1 617.5h0M177.1 617.2h0M178.1 615h0M179.2 616.9h0M180.2 617.2h0M181.2 615.3h0M182.3 617.5h0M183.3 617.2h0M184.3 615.2h0M185.4 616.5h0M186.4 617.1h0M187.4 616.2h0M188.4 614.9h0M189.5 611.2h0M190.5 612.3h0M191.5 613.8h0M192.6 603.8h0M193.6 608.2h0M194.6 601.4h0M195.7 604.6h0M196.7 592.3h0M197.7 594.5h0M198.8 593.3h0M199.8 588.3h0M200.8 570.1h0M201.9 576.3h0M202.9 564.5h0M203.9 566.1h0M205 553.3h0M206 553.3h0M207 553.5h0M208 551.6h0M209.1 542.6h0M210.1 546.6h0M211.1 541.9h0M212.2 535.1h0M213.2 528.7h0M214.2 528.1h0M215.3 528.7h0M216.3 518.6h0M217.3 525.7h0M218.4 522.3h0M219.4 496.4h0M220.4 499.2h0M221.5 505.9h0M222.5 506.8h0M223.5 505.6h0M224.6 506.9h0M225.6 514.2h0M226.6 523.2h0M227.6 518.6h0M228.7 533.8h0M229.7 527.8h0M230.7 535.9h0M231.8 547.1h0M232.8 538h0M233.8 542.4h0M234.9 556h0M235.9 560.1h0M236.9 546.7h0M238 561.6h0M239 581.6h0M240 584h0M241.1 572.1h0M242.1 575h0M243.1 582.4h0M244.2 577.6h0M245.2 586.6h0M246.2 587.3h0M247.2 576.4h0M248.3 565.9h0M249.3 564.1h0M250.3 560.5h0M251.4 554.8h0M252.4 548.7h0M253.4 537.8h0M254.5 517.9h0M255.5 545.5h0M256.5 550.5h0M257.6 560.8h0M258.6 555.4h0M259.6 551h0M260.7 555.8h0M261.7 559.5h0M262.7 553.7h0M263.8 542.3h0M264.8 513.3h0M265.8 492.4h0M266.9 513.2h0M267.9 490.9h0M268.9 526.6h0M269.9 561.7h0M271 537.8h0M272 461.8h0M273 439.1h0M274.1 420.8h0M275.1 389.9h0M276.1 380.1h0M277.2 348.7h0M278.2 341.2h0M279.2 295.4h0M280.3 318.7h0M281.3 279.1h0M282.3 271.9h0M283.4 288.9h0M284.4 284.7h0M285.4 295h0M286.5 316.2h0M287.5 277.7h0M288.5 311.8h0M289.5 271.5h0M290.6 303.6h0M291.6 233.1h0M292.6 207.5h0M293.7 186.8h0M294.7 175.8h0M295.7 158.4h0M296.8 157.4h0M297.8 143h0M298.8 146.5h0M299.9 139.5h0M300.9 133.3h0M301.9 131.8h0M303 131.8h0M304 142.6h0M305 148.2h0M306.1 160.6h0M307.1 167h0M308.1 165.3h0M309.1 164.8h0M310.2 168.4h0M311.2 190.5h0M312.2 199.5h0M313.3 193.4h0M314.3 189h0M315.3 207.1h0M316.4 202.7h0M317.4 208.2h0M318.4 196.9h0M319.5 207.9h0M320.5 194.5h0M321.5 213h0M322.6 195.5h0M323.6 207.5h0M324.6 223.3h0M325.7 236.8h0M326.7 242.2h0M327.7 234.6h0M328.7 255.4h0M329.8 381.7h0M330.8 304.3h0M331.8 384.7h0M332.9 318.1h0M333.9 295.4h0M334.9 282.4h0M336 266.1h0M337 266.7h0M338 272.1h0M339.1 292.8h0M340.1 390h0M341.1 501.4h0M342.2 507.6h0M343.2 532.9h0M344.2 545.5h0M345.3 538.4h0M346.3 510.6h0M347.3 497h0M348.3 485.8h0M349.4 480.7h0M350.4 464.5h0M351.4 447.3h0M352.5 412.4h0M353.5 368.7h0M354.5 353.2h0M355.6 355.4h0M356.6 348.4h0M357.6 336.7h0M358.7 323.4h0M359.7 356.1h0M360.7 370.9h0M361.8 384.9h0M362.8 446.4h0M363.8 523.9h0M364.9 582h0M365.9 536.5h0M366.9 494.6h0M367.9 468.2h0M369 435.5h0M370 418.3h0M371 403.3h0M372.1 370.2h0M373.1 393.1h0M374.1 354.4h0M375.2 354.3h0M376.2 339.9h0M377.2 367.3h0M378.3 337.5h0M379.3 385.2h0M380.3 349.4h0M381.4 385.5h0M382.4 258.9h0M383.4 320.3h0M384.5 312.3h0M385.5 345.2h0M386.5 325h0M387.5 322.3h0M388.6 343h0M389.6 331.4h0M390.6 315.6h0M391.7 330.4h0M392.7 319.8h0M393.7 334.3h0M394.8 370h0M395.8 378.1h0M396.8 394.2h0M397.9 404.4h0M398.9 386.1h0M399.9 400.7h0M401 376.8h0M402 376.4h0M403 426.1h0M404.1 421.7h0M405.1 478.6h0M406.1 562.9h0M407.1 577.8h0M408.2 608.8h0M409.2 606.9h0M410.2 606.9h0M411.3 609.8h0M412.3 613.9h0M413.3 618.8h0M414.4 618.2h0M415.4 617.3h0M416.4 616.9h0M417.5 618.5h0M418.5 616.9h0M419.5 618.7h0M420.6 616.6h0M421.6 617.7h0M422.6 617.8h0M423.7 615.5h0M424.7 617.8h0M425.7 617h0M426.7 617.9h0M427.8 619.1h0M428.8 618.1h0M429.8 616.6h0M430.9 617.9h0M431.9 618h0M432.9 616.7h0M434 618.3h0M435 617.5h0M436 618.9h0M437.1 619.2h0M438.1 618.6h0M439.1 618.3h0M440.2 617.4h0M441.2 617.1h0M442.2 617.7h0M443.3 618.6h0M444.3 617.9h0M445.3 618h0M446.3 618.7h0M447.4 617.4h0M448.4 617.6h0M449.4 617.4h0M450.5 618.5h0M451.5 616.8h0M452.5 618.2h0M453.6 616.5h0M454.6 616.3h0M455.6 618.7h0M456.7 617h0M457.7 620.6h0M458.7 618.2h0M459.8 611.9h0M460.8 613.3h0M461.8 616.3h0M462.9 614.6h0M463.9 617.6h0M464.9 617.6h0M465.9 618.5h0M467 618.8h0M468 617.6h0M469 618.7h0M470.1 618.5h0M471.1 616.3h0M472.1 618.8h0M473.2 616.4h0M474.2 616.9h0M475.2 617.7h0M476.3 617.9h0M477.3 619h0M478.3 616.7h0M479.4 617.8h0M480.4 617.9h0M481.4 618.6h0M482.5 619h0M483.5 616.8h0M484.5 616.6h0M485.5 617.9h0M486.6 617.6h0M487.6 616.8h0M488.6 616.5h0M489.7 616.9h0M490.7 617.9h0M491.7 616.6h0M492.8 616.9h0M493.8 617.9h0M494.8 618.9h0M495.9 618.8h0M496.9 617.3h0M497.9 618.4h0M499 617.2h0M500 617.2h0M501 617.6h0M502.1 616.2h0M503.1 617.1h0M504.1 616h0M505.1 617h0M506.2 617.9h0M507.2 618.5h0M508.2 618.8h0M509.3 616.5h0M510.3 617.6h0M511.3 617.5h0M512.4 617.3h0M513.4 618.9h0M514.4 615h0M515.5 618.6h0M516.5 618.6h0M517.5 617.3h0M518.6 616.4h0M519.6 617.6h0M520.6 618h0M521.7 617h0M522.7 618h0M523.7 619.4h0M524.8 618.5h0M525.8 616.2h0M526.8 615.7h0M527.8 618.2h0M528.9 615.2h0M529.9 615.1h0M530.9 616.3h0M532 616.9h0M533 614.5h0M534 615.8h0M535.1 614.5h0M536.1 616.6h0M537.1 615.5h0M538.2 616.6h0M539.2 616.4h0M540.2 614.8h0M541.3 615.9h0M542.3 615.4h0M543.3 615.1h0M544.4 613.8h0M545.4 615.9h0M546.4 613.9h0M547.4 614.7h0M548.5 615.7h0M549.5 614.8h0M550.5 614.6h0M551.6 615.8h0M552.6 613.5h0M553.6 616.2h0M554.7 615.6h0M555.7 614h0M556.7 613.9h0M557.8 615.2h0M558.8 613h0M559.8 613.3h0M560.9 613.5h0M561.9 611h0M562.9 613h0M564 610.3h0M565 610.6h0M566 612.3h0M567 611.2h0M568.1 612.3h0M569.1 613.8h0M570.1 612.5h0M571.2 613.9h0M572.2 615.3h0M573.2 615.6h0M574.3 614.1h0M575.3 613.8h0M576.3 613.6h0M577.4 615.3h0M578.4 615.8h0M579.4 613.9h0M580.5 615.3h0M581.5 615.1h0M582.5 615.2h0M583.6 614.2h0M584.6 613.6h0M585.6 613.6h0M586.6 614h0M587.7 615.3h0M588.7 613.6h0M589.7 615.5h0M590.8 615.2h0M591.8 615.2h0M592.8 615.5h0M593.9 612.8h0M594.9 611.9h0M595.9 614.9h0M597 609h0M598 613h0M599 607.7h0M600.1 603.5h0M601.1 603.3h0M602.1 602.5h0M603.2 604.8h0M604.2 592.6h0M605.2 596.8h0M606.2 586.4h0M607.3 588.5h0M608.3 578h0M609.3 575.9h0M610.4 575.9h0M611.4 570.3h0M612.4 555.7h0M613.5 552.8h0M614.5 540.2h0M615.5 536.5h0M616.6 528.3h0M617.6 508.2h0M618.6 505.5h0M619.7 501.1h0M620.7 486.2h0M621.7 468.8h0M622.8 455.4h0M623.8 433.7h0M624.8 422.2h0M625.8 437.2h0M626.9 482.3h0M627.9 427.4h0M628.9 457.3h0M630 438.4h0M631 444.1h0M632 452.2h0M633.1 432h0M634.1 449.2h0M635.1 449.8h0M636.2 437h0M637.2 448.3h0M638.2 447.6h0M639.3 439.2h0M640.3 454.3h0M641.3 431.1h0M642.4 454.8h0M643.4 429.3h0M644.4 414h0M645.4 387.8h0M646.5 358.5h0M647.5 371.2h0M648.5 356.7h0M649.6 378.5h0M650.6 350h0M651.6 362.2h0M652.7 340.5h0M653.7 356h0M654.7 345.5h0M655.8 306h0M656.8 289.9h0M657.8 276.6h0M658.9 281h0M659.9 268.6h0M660.9 258.4h0M662 226.6h0M663 225.8h0M664 229.1h0M665 230.9h0M666.1 216.9h0M667.1 241.1h0M668.1 209.5h0M669.2 228.6h0M670.2 204h0M671.2 173.2h0M672.3 162.9h0M673.3 147.6h0M674.3 144.1h0M675.4 137.7h0M676.4 125.6h0M677.4 134.8h0M678.5 160.3h0M679.5 172h0M680.5 156.9h0M681.6 186.5h0M682.6 201.7h0M683.6 196.5h0M684.6 202.3h0M685.7 195.2h0M686.7 224.6h0M687.7 207.5h0M688.8 204.3h0M689.8 216.2h0M690.8 211.7h0M691.9 202.7h0M692.9 245.2h0M693.9 216.6h0M695 206.3h0M696 221.9h0M697 206.2h0M698.1 230.1h0M699.1 230.4h0M700.1 205.5h0M701.2 228.5h0M702.2 209.4h0M703.2 225h0M704.2 203.9h0M705.3 234h0M706.3 201.1h0M707.3 224.9h0M708.4 229.3h0M709.4 212.7h0M710.4 226h0M711.5 214.5h0M712.5 228.5h0M713.5 221.2h0M714.6 227.7h0M715.6 249h0M716.6 278.6h0M717.7 257.7h0M718.7 268.1h0M719.7 288.6h0M720.8 293.2h0M721.8 335.3h0M722.8 400.7h0M723.8 433.3h0M724.9 449.8h0M725.9 503.9h0M726.9 534.1h0M728 560.6h0M729 580.9h0M730 544.4h0M731.1 437.8h0M732.1 394.1h0M733.1 326.8h0M734.2 305h0M735.2 277.5h0M736.2 249.4h0M737.3 240.1h0M738.3 223.7h0M739.3 220.3h0M740.4 255.2h0M741.4 272.9h0M742.4 217.1h0M743.4 302.2h0M744.5 340h0M745.5 282.8h0M746.5 244.5h0M747.6 273h0M748.6 224.8h0M749.6 211.5h0M750.7 227.5h0M751.7 239.2h0M752.7 236.9h0M753.8 237.3h0M754.8 219.2h0M755.8 229h0M756.9 238.3h0M757.9 217.2h0M758.9 219.7h0M760 288.3h0M761 307.6h0M762 265.7h0M763 228.5h0M764.1 218.1h0M765.1 226.1h0M766.1 234.5h0M767.2 239.7h0M768.2 242.7h0M769.2 243.2h0M770.3 251.3h0M771.3 255.2h0M772.3 252.3h0M773.4 262.5h0M774.4 261.9h0M775.4 275.5h0M776.5 314.5h0M777.5 395.1h0M778.5 438.9h0M779.6 517.2h0M780.6 574.9h0M781.6 601.5h0M782.6 618.4h0M783.7 625.1h0M784.7 613.3h0M785.7 619.2h0M786.8 613.1h0M787.8 601.4h0M788.8 589.1h0M789.9 592.1h0M790.9 595.5h0M791.9 599h0M793 607.1h0M794 609.5h0M795 608.4h0M796.1 609.7h0M797.1 614.3h0M798.1 617.2h0M799.2 620.1h0M800.2 619.3h0M801.2 618h0M802.3 620h0M803.3 617.1h0M804.3 618.7h0M805.3 619.3h0M806.4 616.8h0M807.4 617.6h0M808.4 619.1h0M809.5 617.8h0M810.5 619.4h0M811.5 618h0M812.6 618.7h0M813.6 618.6h0M814.6 619.2h0M815.7 619.2h0M816.7 618h0M817.7 618h0M818.8 617h0M819.8 617.2h0M820.8 619.2h0M821.9 618.7h0M822.9 618.8h0M823.9 617.2h0M824.9 618h0M826 619.4h0M827 616.7h0M828 617.6h0M829.1 617.6h0M830.1 618.4h0M831.1 619h0M832.2 618.1h0M833.2 618.4h0M834.2 619h0M835.3 618.7h0M836.3 618.5h0M837.3 619.3h0M838.4 619h0M839.4 617.7h0M840.4 618.3h0M841.5 617.5h0M842.5 617.3h0M843.5 616.6h0M844.5 617h0M845.6 618.2h0M846.6 616.8h0M847.6 617.9h0M848.7 616.8h0M849.7 619.2h0M850.7 616.8h0M851.8 617.6h0M852.8 618.5h0M853.8 619.1h0M854.9 618.1h0M855.9 618.2h0M856.9 617.3h0M858 618.6h0M859 618.2h0M860 619.1h0M861.1 616.5h0M862.1 616.8h0M863.1 617h0M864.1 617.1h0M865.2 616.7h0M866.2 617h0M867.2 617.7h0M868.3 619.2h0M869.3 618.4h0M870.3 619.1h0M871.4 616.9h0M872.4 618.2h0M873.4 617.3h0M874.5 618.3h0M875.5 616.5h0M876.5 617.9h0M877.6 618.4h0M878.6 616.6h0M879.6 616.8h0M880.7 617.8h0M881.7 616.7h0M882.7 618.6h0M883.7 618.6h0M884.8 619h0M885.8 617.1h0M886.8 616.6h0M887.9 617.1h0M888.9 617.1h0M889.9 617.8h0M891 618.5h0M892 617.1h0M893 618.6h0M894.1 617.2h0M895.1 618.1h0M896.1 612h0M897.2 621.1h0M898.2 543.5h0M899.2 572.5h0M900.3 593.8h0M901.3 604.8h0M902.3 607.1h0M903.3 615.2h0M904.4 616.3h0M905.4 614.9h0M906.4 611.7h0M907.5 613.5h0M908.5 612.9h0M909.5 610.7h0M910.6 608.3h0M911.6 611.7h0M912.6 607.6h0M913.7 606.1h0M914.7 608.9h0M915.7 606.4h0M916.8 605.9h0M917.8 606h0M918.8 604.1h0M919.9 605h0M920.9 605.9h0M921.9 605.4h0M922.9 604.7h0M924 602.1h0M925 601.6h0M926 602.4h0M927.1 601.6h0M928.1 603.3h0M929.1 599.2h0M930.2 598.2h0M931.2 601.9h0M932.2 599.3h0M933.3 599.6h0M934.3 600h0M935.3 598h0M936.4 596.9h0M937.4 601.3h0M938.4 603h0M939.5 599.9h0M940.5 603.6h0M941.5 605.4h0M942.5 605.7h0M943.6 606.5h0M944.6 604h0M945.6 606.3h0M946.7 605.3h0M947.7 603.5h0M948.7 603.7h0M949.8 605.5h0M950.8 604.3h0M951.8 601.6h0M952.9 603.2h0M953.9 602.5h0M954.9 603.3h0M956 600.1h0M957 602.9h0M958 602h0M959.1 602.5h0M960.1 602.9h0M961.1 600.1h0M962.1 604.1h0M963.2 602.4h0M964.2 602.9h0M965.2 599.2h0M966.3 598.5h0M967.3 600.1h0M968.3 599.7h0M969.4 599.5h0M970.4 598.8h0M971.4 598h0M972.5 595.8h0M973.5 591.8h0M974.5 591.3h0M975.6 586.6h0M976.6 577h0M977.6 578.8h0M978.7 573.4h0M979.7 588.6h0M980.7 592.6h0M981.7 601.9h0M982.8 595.6h0M983.8 596.3h0M984.8 593.8h0M985.9 591.9h0M986.9 590h0M987.9 585.9h0M989 586h0M990 587.5h0M991 586.2h0M992.1 587.3h0M993.1 574.7h0M994.1 579.6h0M995.2 564h0M996.2 551.5h0M997.2 536.4h0M998.3 530.7h0M999.3 512.1h0M1000.3 499.8h0M1001.3 490.7h0M1002.4 458.5h0M1003.4 445.1h0M1004.4 403h0M1005.5 426.4h0M1006.5 421.2h0M1007.5 402h0M1008.6 424.8h0M1009.6 409.4h0M1010.6 438.8h0M1011.7 403.1h0M1012.7 438.9h0M1013.7 426.7h0M1014.8 416.8h0M1015.8 389.8h0M1016.8 383.9h0M1017.9 367.5h0M1018.9 370.7h0M1019.9 360.4h0M1020.9 351.9h0M1022 350.2h0M1023 343.2h0M1024 335.8h0M1025.1 304.5h0M1026.1 288h0M1027.1 269.6h0M1028.2 257.8h0M1029.2 244.1h0M1030.2 265.4h0M1031.3 245.3h0M1032.3 258.9h0M1033.3 256.7h0M1034.4 266h0M1035.4 244h0M1036.4 261.6h0M1037.5 246.1h0M1038.5 260.8h0M1039.5 248.9h0M1040.6 266.4h0M1041.6 252.2h0M1042.6 264h0M1043.6 249h0M1044.7 252.1h0M1045.7 227.2h0M1046.7 217.7h0M1047.8 218h0M1048.8 201.3h0M1049.8 199.1h0M1050.9 181.7h0M1051.9 170.9h0M1052.9 164.4h0M1054 151.1h0M1055 147.8h0M1056 143.2h0M1057.1 140.9h0M1058.1 168.6h0M1059.1 259.2h0M1060.2 186.5h0M1061.2 168.5h0M1062.2 150.3h0M1063.2 173.1h0M1064.3 183.8h0M1065.3 188.6h0M1066.3 175.9h0M1067.4 202.8h0M1068.4 190.7h0M1069.4 217.3h0M1070.5 208.2h0M1071.5 278h0M1072.5 238.7h0M1073.6 216.2h0M1074.6 245h0M1075.6 173.3h0M1076.7 187.7h0M1077.7 226.9h0M1078.7 203.9h0M1079.8 230.4h0M1080.8 251.9h0M1081.8 245.6h0M1082.8 263.6h0M1083.9 273.3h0M1084.9 282.1h0M1085.9 280.9h0M1087 293h0M1088 300.9h0M1089 326.1h0M1090.1 404.7h0M1091.1 503.7h0M1092.1 519.1h0M1093.2 545.7h0M1094.2 510.4h0M1095.2 495.1h0M1096.3 508.6h0M1097.3 556.5h0M1098.3 581.3h0M1099.4 548.4h0M1100.4 591.1h0M1101.4 566.7h0M1102.4 591.4h0M1103.5 550.3h0M1104.5 571.9h0M1105.5 550.9h0M1106.6 531.9h0M1107.6 595.7h0M1108.6 571.5h0M1109.7 600.1h0M1110.7 585.2h0M1111.7 606.7h0M1112.8 598.8h0M1113.8 605.2h0M1114.8 570.1h0M1115.9 556.5h0M1116.9 537.2h0M1117.9 519h0M1119 504.8h0M1120 509.6h0M1121 473.2h0M1122 418h0M1123.1 343.2h0M1124.1 310.5h0M1125.1 357.2h0M1126.2 390.3h0M1127.2 525.5h0M1128.2 588.8h0M1129.3 600.2h0M1130.3 609.9h0M1131.3 617.2h0M1132.4 623.9h0M1133.4 615.6h0M1134.4 606h0M1135.5 621.4h0M1136.5 609.2h0M1137.5 604.9h0M1138.6 589.1h0M1139.6 594.3h0M1140.6 583h0M1141.6 555.6h0M1142.7 517.5h0M1143.7 564.6h0M1144.7 509.3h0M1145.8 543.5h0M1146.8 564h0M1147.8 438.6h0M1148.9 368h0M1149.9 330.2h0M1150.9 311.3h0M1152 301.4h0M1153 324.4h0M1154 357.2h0M1155.1 390.3h0M1156.1 399.1h0M1157.1 417.5h0M1158.2 419h0M1159.2 433.7h0M1160.2 481.3h0M1161.2 547.2h0M1162.3 569.8h0M1163.3 579.4h0M1164.3 589.5h0M1165.4 572.7h0M1166.4 587.9h0M1167.4 561.7h0M1168.5 518.9h0M1169.5 536.6h0M1170.5 561.3h0M1171.6 578.7h0M1172.6 603.9h0M1173.6 604.4h0M1174.7 616.9h0M1175.7 609.5h0M1176.7 614.4h0M1177.8 581.2h0M1178.8 611.2h0M1179.8 611.3h0M1180.8 620.6h0M1181.9 620.1h0M1182.9 617h0M1183.9 618.7h0M1185 619h0M1186 617.7h0M1187 618.2h0M1188.1 616.7h0M1189.1 618h0M1190.1 616.9h0M1191.2 618h0M1192.2 617.6h0M1193.2 618.7h0M1194.3 618.8h0M1195.3 618.4h0M1196.3 618.8h0M1197.4 619.1h0M1198.4 618.7h0M1199.4 618.4h0M1200.4 617.8h0M1201.5 618.4h0M1202.5 619h0M1203.5 618.3h0M1204.6 618.6h0M1205.6 616.3h0M1206.6 616.7h0M1207.7 618h0M1208.7 618h0M1209.7 617.6h0M1210.8 617.4h0M1211.8 616.5h0M1212.8 616.3h0M1213.9 616.8h0M1214.9 620.7h0M1215.9 618.8h0M1217 618.2h0M1218 618.3h0M1219 619.2h0M1220 616.6h0M1221.1 616.9h0M1222.1 617.1h0M1223.1 616.9h0M1224.2 617h0M1225.2 618.9h0M1226.2 618.1h0M1227.3 618.5h0M1228.3 619.2h0M1229.3 618.6h0M1230.4 618.2h0M1231.4 616.9h0M1232.4 617.4h0M1233.5 618.4h0M1234.5 618.3h0M1235.5 618.3h0M1236.6 618.6h0M1237.6 617.7h0M1238.6 618.8h0M1239.6 618.9h0M1240.7 618.3h0M1241.7 618.1h0M1242.7 617.7h0M1243.8 618.7h0M1244.8 618.4h0M1245.8 619h0M1246.9 618.1h0M1247.9 618.7h0M1248.9 617.3h0M1250 618.5h0M1251 616.6h0M1252 618.8h0M1253.1 616.5h0M1254.1 617.5h0M1255.1 617.5h0M1256.2 617.6h0M1257.2 616.9h0M1258.2 617.9h0M1259.2 619h0M1260.3 617.4h0M1261.3 617.4h0M1262.3 618.2h0M1263.4 617.6h0M1264.4 617.5h0M1265.4 618.1h0M1266.5 617.6h0M1267.5 618.9h0M1268.5 616.5h0M1269.6 618.5h0M1270.6 616.5h0M1271.6 616.9h0" fill="none" stroke="#F4A470" stroke-width="8.0" stroke-linecap="round"/>
</g>
<rect x="139.5" y="50.25" width="1124.7" height="624.1" fill="none" stroke="#000" stroke-width="3"/>
<path d="M324.6 674.4v-17M514 674.4v-17M701.2 674.4v-17M890.2 674.4v-17M1078.7 674.4v-17M232 674.4v-8.5M418.6 674.4v-8.5M608 674.4v-8.5M794.7 674.4v-8.5M984.2 674.4v-8.5M1171.3 674.4v-8.5M139.5 617.2h17M139.5 560.5h8.5M139.5 503.8h17M139.5 447.1h8.5M139.5 390.4h17M139.5 333.7h8.5M139.5 277h17M139.5 220.3h8.5M139.5 163.6h17M139.5 106.9h8.5" fill="none" stroke="#000" stroke-width="2.8"/>
<text x="119" y="626.7" text-anchor="end" class="tl">0</text>
<text x="119" y="513.3" text-anchor="end" class="tl">20</text>
<text x="119" y="399.9" text-anchor="end" class="tl">40</text>
<text x="119" y="286.5" text-anchor="end" class="tl">60</text>
<text x="119" y="173.1" text-anchor="end" class="tl">80</text>
<text x="119" y="59.7" text-anchor="end" class="tl">100</text>
<text x="138" y="717.8" text-anchor="middle" class="tl">2018/01</text>
<text x="323.1" y="717.8" text-anchor="middle" class="tl">2018/07</text>
<text x="512.5" y="717.8" text-anchor="middle" class="tl">2019/01</text>
<text x="699.7" y="717.8" text-anchor="middle" class="tl">2019/07</text>
<text x="888.7" y="717.8" text-anchor="middle" class="tl">2020/01</text>
<text x="1077.2" y="717.8" text-anchor="middle" class="tl">2020/07</text>
<text x="681.2" y="767.6" text-anchor="middle" class="at">Time (Year/month/date)</text>
<text transform="translate(36.4 363) rotate(-90)" text-anchor="middle" class="at">Failure probability (%)</text>
<clipPath id="cpb"><rect x="138.7" y="938.2" width="1125.2" height="622.3"/></clipPath>
<g clip-path="url(#cpb)">
<marker id="mb" markerUnits="userSpaceOnUse" markerWidth="20" markerHeight="20" refX="10" refY="10" viewBox="0 0 20 20" overflow="visible"><path d="M10 5L15.6 14.1H4.4Z" fill="#fff" stroke="#000" stroke-width="1.4"/></marker>
<polyline points="139,1502.1 140,1502.2 141.1,1501.8 142.1,1502.3 143.1,1501.8 144.2,1502 145.2,1502.3 146.2,1501.8 147.2,1502.3 148.3,1501.9 149.3,1502.2 150.3,1502.2 151.4,1501.9 152.4,1501.5 153.4,1502.1 154.5,1502 155.5,1501.7 156.5,1501.4 157.5,1501.7 158.6,1501.9 159.6,1501.3 160.6,1502.2 161.7,1501.4 162.7,1501.9 163.7,1502 164.8,1502.1 165.8,1501.9 166.8,1501.4 167.9,1502 168.9,1501.6 169.9,1501.5 170.9,1501.8 172,1501.6 173,1502 174,1502 175.1,1501.9 176.1,1501.5 177.1,1501.6 178.2,1501.5 179.2,1501.2 180.2,1501.2 181.2,1501.2 182.3,1500.6 183.3,1500.5 184.3,1500.6 185.4,1499.9 186.4,1499.6 187.4,1498.5 188.5,1497.9 189.5,1497.6 190.5,1495.4 191.6,1494.7 192.6,1492.6 193.6,1489.7 194.6,1487.6 195.7,1482.7 196.7,1479 197.7,1471.6 198.8,1465 199.8,1461.7 200.8,1455.3 201.9,1453.9 202.9,1446.6 203.9,1442.3 204.9,1439.2 206,1436.8 207,1431.2 208,1427.5 209.1,1427.4 210.1,1423.2 211.1,1423.8 212.2,1416.6 213.2,1413.7 214.2,1408.7 215.2,1406.9 216.3,1408 217.3,1405.1 218.3,1401.7 219.4,1404 220.4,1400.7 221.4,1404.5 222.5,1406.8 223.5,1411.1 224.5,1410.7 225.6,1420 226.6,1424.7 227.6,1428.6 228.6,1430.4 229.7,1438.4 230.7,1439.2 231.7,1444.3 232.8,1449 233.8,1455.6 234.8,1460.4 235.9,1466.3 236.9,1465.2 237.9,1465.3 238.9,1460 240,1457.4 241,1459.8 242,1457 243.1,1454 244.1,1451.3 245.1,1447.1 246.2,1443.8 247.2,1443.2 248.2,1442.8 249.3,1438.6 250.3,1437.4 251.3,1434.6 252.3,1430.7 253.4,1431 254.4,1430.6 255.4,1428.6 256.5,1426.1 257.5,1427.9 258.5,1420.6 259.6,1418 260.6,1414 261.6,1400.3 262.6,1388.7 263.7,1383 264.7,1399 265.7,1407 266.8,1404.9 267.8,1387.9 268.8,1398.3 269.9,1415.6 270.9,1417.3 271.9,1399.3 273,1374.1 274,1353.4 275,1331.1 276,1306.8 277.1,1286.3 278.1,1258.4 279.1,1228.9 280.2,1209.1 281.2,1194.4 282.2,1189.2 283.3,1196.5 284.3,1192.3 285.3,1196.3 286.3,1198.2 287.4,1197 288.4,1181.6 289.4,1169.9 290.5,1144.9 291.5,1117.4 292.5,1098.1 293.6,1083.3 294.6,1067.6 295.6,1053.2 296.7,1040.1 297.7,1038.2 298.7,1036.6 299.7,1028.5 300.8,1027.1 301.8,1021.8 302.8,1021.2 303.9,1025.3 304.9,1029.8 305.9,1035.9 307,1038 308,1042.1 309,1041.2 310,1045.5 311.1,1046.8 312.1,1052.4 313.1,1055.2 314.2,1053.7 315.2,1054.7 316.2,1057.7 317.3,1060.1 318.3,1062.1 319.3,1064.7 320.4,1070 321.4,1070.2 322.4,1073.2 323.4,1077.2 324.5,1079.2 325.5,1080.1 326.5,1082.7 327.6,1082.4 328.6,1083.9 329.6,1090.2 330.7,1090.5 331.7,1133.2 332.7,1178.7 333.7,1220.8 334.8,1194.5 335.8,1166.2 336.8,1146.6 337.9,1144.9 338.9,1162.6 339.9,1218.6 341,1332.1 342,1376.8 343,1389.9 344,1417.3 345.1,1441.5 346.1,1445.3 347.1,1442 348.2,1423 349.2,1394.9 350.2,1368.3 351.3,1347.6 352.3,1312.7 353.3,1290 354.4,1264.5 355.4,1243.6 356.4,1228.5 357.4,1227.4 358.5,1238.1 359.5,1262.1 360.5,1300.7 361.6,1347.9 362.6,1376 363.6,1394 364.7,1417.2 365.7,1418.5 366.7,1397.3 367.7,1376.5 368.8,1361.6 369.8,1346.5 370.8,1322.6 371.9,1300.9 372.9,1276.7 373.9,1252.1 375,1240 376,1221.5 377,1207.1 378.1,1198.9 379.1,1178 380.1,1159.7 381.1,1172 382.2,1180.2 383.2,1182.8 384.2,1185.9 385.3,1185.8 386.3,1189.8 387.3,1190.3 388.4,1193.6 389.4,1190.3 390.4,1195.6 391.4,1196.8 392.5,1197.9 393.5,1200.5 394.5,1208 395.6,1224.2 396.6,1252.8 397.6,1274.7 398.7,1287.2 399.7,1293.1 400.7,1292.2 401.8,1302.3 402.8,1317.5 403.8,1345.4 404.8,1380.4 405.9,1411.9 406.9,1434.7 407.9,1458.4 409,1477 410,1494.3 411,1500.3 412.1,1501.2 413.1,1502.9 414.1,1502.7 415.1,1503.1 416.2,1503.2 417.2,1502.9 418.2,1503.1 419.3,1503.1 420.3,1502.9 421.3,1502.8 422.4,1503.2 423.4,1503 424.4,1503.1 425.5,1503.1 426.5,1503 427.5,1503.2 428.5,1503.1 429.6,1503.2 430.6,1502.8 431.6,1503 432.7,1502.8 433.7,1502.8 434.7,1503.4 435.8,1503.1 436.8,1502.8 437.8,1502.8 438.8,1503.5 439.9,1503.5 440.9,1503.2 441.9,1503.5 443,1503.4 444,1503.5 445,1503 446.1,1502.9 447.1,1502.8 448.1,1503.5 449.2,1503 450.2,1503 451.2,1503.5 452.2,1502.8 453.3,1502.7 454.3,1503.4 455.3,1502.7 456.4,1503.2 457.4,1503.2 458.4,1502.7 459.5,1502.9 460.5,1503.5 461.5,1503.2 462.5,1503.1 463.6,1503.3 464.6,1503.4 465.6,1503.3 466.7,1503 467.7,1503.6 468.7,1503.1 469.8,1503.2 470.8,1503.6 471.8,1503.3 472.8,1503 473.9,1503.1 474.9,1503.5 475.9,1502.7 477,1502.9 478,1502.7 479,1503.5 480.1,1503.4 481.1,1503.6 482.1,1502.9 483.2,1503.4 484.2,1503.5 485.2,1503.2 486.2,1502.8 487.3,1502.9 488.3,1503.4 489.3,1503.5 490.4,1502.8 491.4,1503.1 492.4,1503 493.5,1503.5 494.5,1503.6 495.5,1503 496.5,1503.2 497.6,1503.5 498.6,1502.8 499.6,1503 500.7,1502.9 501.7,1503.5 502.7,1502.8 503.8,1503.5 504.8,1502.8 505.8,1503.2 506.9,1503.3 507.9,1503.1 508.9,1502.8 509.9,1503.4 511,1503.5 512,1503.1 513,1503.4 514.1,1503.5 515.1,1503.5 516.1,1503.6 517.2,1503.4 518.2,1503.3 519.2,1503.3 520.2,1502.9 521.3,1503.2 522.3,1502.9 523.3,1503 524.4,1502.7 525.4,1502.9 526.4,1502.5 527.5,1502.6 528.5,1501.8 529.5,1501.8 530.6,1501.9 531.6,1501.5 532.6,1500.9 533.6,1501.5 534.7,1500.7 535.7,1500.8 536.7,1500.6 537.8,1500.3 538.8,1500.6 539.8,1500.5 540.9,1500.3 541.9,1500 542.9,1500.6 543.9,1500.1 545,1500.2 546,1500.2 547,1500.4 548.1,1500.4 549.1,1500.6 550.1,1500.5 551.2,1500.6 552.2,1499.9 553.2,1500.3 554.3,1500.4 555.3,1500.4 556.3,1499.3 557.3,1498.9 558.4,1498.7 559.4,1498.7 560.4,1498.3 561.5,1497.8 562.5,1497.2 563.5,1497.1 564.6,1496.4 565.6,1497 566.6,1496.8 567.6,1497.2 568.7,1498 569.7,1498.6 570.7,1498.2 571.8,1499.1 572.8,1499.3 573.8,1499.9 574.9,1499.6 575.9,1499.6 576.9,1499.6 578,1500 579,1499.8 580,1500.3 581,1500.1 582.1,1500.3 583.1,1500.1 584.1,1500.5 585.2,1500.4 586.2,1500.1 587.2,1500.2 588.3,1499.8 589.3,1499.8 590.3,1499.6 591.3,1499.6 592.4,1499.6 593.4,1499 594.4,1499.1 595.5,1498.8 596.5,1496.2 597.5,1494.7 598.6,1491.3 599.6,1488.5 600.6,1485.4 601.6,1481.1 602.7,1477.6 603.7,1473.8 604.7,1469.4 605.8,1465.3 606.8,1466.1 607.8,1460.3 608.9,1455.9 609.9,1449.3 610.9,1443.8 612,1438 613,1431.9 614,1422.3 615,1415.2 616.1,1406.6 617.1,1399.6 618.1,1390.9 619.2,1380.4 620.2,1369.1 621.2,1363.3 622.3,1351.4 623.3,1352 624.3,1350.4 625.3,1353.3 626.4,1355.8 627.4,1359.2 628.4,1364.5 629.5,1360.1 630.5,1361 631.5,1363.1 632.6,1361.8 633.6,1359.9 634.6,1362.4 635.7,1355.4 636.7,1355.6 637.7,1353.9 638.7,1349 639.8,1342.5 640.8,1341.8 641.8,1329.9 642.9,1314.3 643.9,1302.6 644.9,1284.6 646,1265.4 647,1257.9 648,1260.5 649,1264.5 650.1,1262.6 651.1,1264.5 652.1,1263.5 653.2,1262.2 654.2,1242.8 655.2,1222.9 656.3,1198.6 657.3,1185.1 658.3,1170.1 659.4,1154.6 660.4,1139.7 661.4,1124.8 662.4,1116.5 663.5,1111.5 664.5,1098.8 665.5,1089.8 666.6,1080.4 667.6,1074.1 668.6,1061.4 669.7,1058.9 670.7,1046.7 671.7,1039.6 672.7,1037.4 673.8,1027.3 674.8,1018.3 675.8,1020.2 676.9,1026.2 677.9,1030 678.9,1033.1 680,1031.2 681,1038.4 682,1039.3 683.1,1045.1 684.1,1045.8 685.1,1046.3 686.1,1054.5 687.2,1053.3 688.2,1057.2 689.2,1056.7 690.3,1059.7 691.3,1098.3 692.3,1062.5 693.4,1066.9 694.4,1071.6 695.4,1073.5 696.4,1072.3 697.5,1116.2 698.5,1076.9 699.5,1079.3 700.6,1079.5 701.6,1081.1 702.6,1079.2 703.7,1119 704.7,1082.6 705.7,1083.6 706.8,1089.6 707.8,1086 708.8,1089.3 709.8,1090 710.9,1095.7 711.9,1120.6 712.9,1098.4 714,1096.6 715,1101 716,1104.4 717.1,1105.9 718.1,1108.8 719.1,1111.9 720.1,1113.2 721.2,1134.1 722.2,1170.9 723.2,1229.7 724.3,1275.3 725.3,1293.8 726.3,1323.4 727.4,1379.2 728.4,1422.2 729.4,1424.8 730.4,1374.9 731.5,1334 732.5,1266.7 733.5,1241.7 734.6,1217.8 735.6,1181.8 736.6,1151.8 737.7,1139 738.7,1120.6 739.7,1105.4 740.8,1117.7 741.8,1152.3 742.8,1203.2 743.8,1176.9 744.9,1148.3 745.9,1132.9 746.9,1113.8 748,1108.3 749,1102.4 750,1099.4 751.1,1097.6 752.1,1101.8 753.1,1099 754.1,1105.2 755.2,1107.6 756.2,1139.2 757.2,1165.5 758.3,1138.3 759.3,1109.8 760.3,1102.6 761.4,1102.3 762.4,1104.9 763.4,1101.5 764.5,1101.7 765.5,1106 766.5,1111.5 767.5,1114.8 768.6,1119 769.6,1127 770.6,1131 771.7,1132.6 772.7,1134.9 773.7,1138.1 774.8,1150.8 775.8,1179.9 776.8,1249.4 777.8,1307.6 778.9,1360.7 779.9,1432.3 780.9,1479.3 782,1496.2 783,1498.8 784,1497.6 785.1,1497.8 786.1,1496.9 787.1,1496.4 788.2,1495.8 789.2,1496.1 790.2,1496.8 791.2,1497.5 792.3,1498.1 793.3,1498.8 794.3,1499.1 795.4,1499.9 796.4,1500.6 797.4,1501.6 798.5,1502 799.5,1501.7 800.5,1501.8 801.5,1502.5 802.6,1502.7 803.6,1503.6 804.6,1503.2 805.7,1502.8 806.7,1502.9 807.7,1502.8 808.8,1502.7 809.8,1503.4 810.8,1503.5 811.9,1503.5 812.9,1503.1 813.9,1503 814.9,1502.8 816,1503 817,1503 818,1502.9 819.1,1503.2 820.1,1503.1 821.1,1503.6 822.2,1502.9 823.2,1503.4 824.2,1502.8 825.2,1503 826.3,1503.3 827.3,1503.5 828.3,1503.4 829.4,1503 830.4,1503 831.4,1503.5 832.5,1503.5 833.5,1503.1 834.5,1503.1 835.6,1503.3 836.6,1503.4 837.6,1503.1 838.6,1503.6 839.7,1503.3 840.7,1503.2 841.7,1502.7 842.8,1503 843.8,1502.8 844.8,1503.2 845.9,1503.4 846.9,1503.4 847.9,1502.7 848.9,1503 850,1503.3 851,1503.6 852,1503.2 853.1,1503 854.1,1503.2 855.1,1503.4 856.2,1503 857.2,1502.8 858.2,1503.4 859.2,1503.6 860.3,1503.3 861.3,1503.2 862.3,1503 863.4,1503.4 864.4,1502.9 865.4,1502.9 866.5,1503.1 867.5,1503.4 868.5,1502.7 869.6,1503.3 870.6,1502.9 871.6,1503.4 872.6,1503.4 873.7,1502.9 874.7,1503.3 875.7,1502.7 876.8,1503.2 877.8,1503.4 878.8,1503.4 879.9,1503.2 880.9,1503 881.9,1502.7 882.9,1503.5 884,1503.2 885,1503.4 886,1502.7 887.1,1503.5 888.1,1503.6 889.1,1503.5 890.2,1503.2 891.2,1502.8 892.2,1502.8 893.3,1502.9 894.3,1502.7 895.3,1502.8 896.3,1503.3 897.4,1503.2 898.4,1502.3 899.4,1502.2 900.5,1502.6 901.5,1501.8 902.5,1501.8 903.6,1501.6 904.6,1501.2 905.6,1500.8 906.6,1500.5 907.7,1499.8 908.7,1499.3 909.7,1498.3 910.8,1498.6 911.8,1497.4 912.8,1497.6 913.9,1497.1 914.9,1496.1 915.9,1495.6 917,1495.4 918,1495.1 919,1494.1 920,1493.6 921.1,1492.4 922.1,1492.5 923.1,1491.8 924.2,1490.7 925.2,1491 926.2,1490.1 927.3,1489.2 928.3,1488.7 929.3,1488.8 930.3,1488.3 931.4,1487.9 932.4,1486.8 933.4,1487 934.5,1486.2 935.5,1485.7 936.5,1485.8 937.6,1487 938.6,1487.4 939.6,1488.8 940.7,1490.2 941.7,1491 942.7,1492.6 943.7,1493.8 944.8,1493.9 945.8,1493.1 946.8,1492.8 947.9,1492.9 948.9,1492.5 949.9,1492.7 951,1491.9 952,1491.1 953,1490.1 954,1489.5 955.1,1489.4 956.1,1489.2 957.1,1488.6 958.2,1488.2 959.2,1487.5 960.2,1487.8 961.3,1486.9 962.3,1486.6 963.3,1486.1 964.4,1485.6 965.4,1485.2 966.4,1484.8 967.4,1484.3 968.5,1483.7 969.5,1482.1 970.5,1481.6 971.6,1480.5 972.6,1478.5 973.6,1477.4 974.7,1478.4 975.7,1476.3 976.7,1470.9 977.7,1471.1 978.8,1465.9 979.8,1469.4 980.8,1471.5 981.9,1477.6 982.9,1480.6 983.9,1481.2 985,1481.4 986,1480.9 987,1480.9 988,1480.8 989.1,1480.3 990.1,1479.6 991.1,1478.9 992.2,1478.3 993.2,1477.7 994.2,1469 995.3,1461.1 996.3,1445.9 997.3,1437.4 998.4,1427.2 999.4,1411.4 1000.4,1403.5 1001.4,1392.7 1002.5,1381.1 1003.5,1358.5 1004.5,1342.1 1005.6,1331.9 1006.6,1330.9 1007.6,1329.7 1008.7,1332.1 1009.7,1331.2 1010.7,1337 1011.7,1341.6 1012.8,1332.3 1013.8,1327.6 1014.8,1317.1 1015.9,1314.1 1016.9,1306.1 1017.9,1298.3 1019,1294.2 1020,1283.6 1021,1278.8 1022.1,1264.3 1023.1,1251.8 1024.1,1229.8 1025.1,1212.5 1026.2,1202.5 1027.2,1190.1 1028.2,1176.6 1029.3,1157.1 1030.3,1158 1031.3,1157.5 1032.4,1152.9 1033.4,1150.4 1034.4,1154.2 1035.4,1149.8 1036.5,1150.3 1037.5,1153.5 1038.5,1153.3 1039.6,1155.4 1040.6,1154.3 1041.6,1153.2 1042.7,1150.3 1043.7,1145.5 1044.7,1143.7 1045.8,1139.3 1046.8,1131.6 1047.8,1121 1048.8,1103.1 1049.9,1085.9 1050.9,1067.4 1051.9,1051.8 1053,1042.6 1054,1039.4 1055,1032.9 1056.1,1035 1057.1,1038.3 1058.1,1042 1059.1,1048.5 1060.2,1051.2 1061.2,1050.5 1062.2,1054.9 1063.3,1058.4 1064.3,1061 1065.3,1102.3 1066.4,1067.2 1067.4,1121.7 1068.4,1077.7 1069.5,1139 1070.5,1084.2 1071.5,1091.3 1072.5,1103.1 1073.6,1157.4 1074.6,1117.8 1075.6,1125.3 1076.7,1130.8 1077.7,1127.5 1078.7,1132.7 1079.8,1173.8 1080.8,1204.7 1081.8,1207.4 1082.8,1218.5 1083.9,1224.6 1084.9,1229.8 1085.9,1232.1 1087,1237.2 1088,1246.8 1089,1252.5 1090.1,1335.2 1091.1,1407.5 1092.1,1431.5 1093.2,1475.1 1094.2,1499.4 1095.2,1504.8 1096.2,1504.7 1097.3,1505.8 1098.3,1505.4 1099.3,1505.1 1100.4,1505 1101.4,1505.7 1102.4,1505.8 1103.5,1504.6 1104.5,1504.2 1105.5,1504.3 1106.5,1502.8 1107.6,1500.1 1108.6,1498.7 1109.6,1491.8 1110.7,1484.9 1111.7,1469.2 1112.7,1456.3 1113.8,1436 1114.8,1427.1 1115.8,1414.1 1116.8,1388.7 1117.9,1352.6 1118.9,1336.2 1119.9,1319 1121,1299.2 1122,1283.2 1123,1268.2 1124.1,1291.3 1125.1,1335.8 1126.1,1378.1 1127.2,1418.9 1128.2,1457.1 1129.2,1488.5 1130.2,1504 1131.3,1506.4 1132.3,1505.7 1133.3,1506.3 1134.4,1505.9 1135.4,1503.7 1136.4,1501.3 1137.5,1487 1138.5,1473.4 1139.5,1458.2 1140.5,1444.5 1141.6,1440.5 1142.6,1439.3 1143.6,1437.9 1144.7,1439.1 1145.7,1431.1 1146.7,1427.7 1147.8,1381.2 1148.8,1324.1 1149.8,1284.4 1150.9,1251.9 1151.9,1248.6 1152.9,1244.5 1153.9,1253 1155,1261.3 1156,1272.5 1157,1284.7 1158.1,1300.7 1159.1,1313.3 1160.1,1328.6 1161.2,1370.2 1162.2,1429.1 1163.2,1462.9 1164.2,1465.5 1165.3,1461.5 1166.3,1458.7 1167.3,1451.1 1168.4,1447 1169.4,1455.9 1170.4,1468.9 1171.5,1478.8 1172.5,1498.2 1173.5,1502.4 1174.6,1502.6 1175.6,1503.4 1176.6,1502.7 1177.6,1503.2 1178.7,1502.7 1179.7,1502.8 1180.7,1503.5 1181.8,1502.9 1182.8,1502.8 1183.8,1503.5 1184.9,1503.3 1185.9,1502.9 1186.9,1503.5 1187.9,1502.8 1189,1503.4 1190,1502.9 1191,1503.5 1192.1,1503.1 1193.1,1502.8 1194.1,1503.4 1195.2,1503.4 1196.2,1503.1 1197.2,1503.3 1198.3,1503.6 1199.3,1503.4 1200.3,1503.5 1201.3,1502.8 1202.4,1503 1203.4,1502.8 1204.4,1503.5 1205.5,1502.9 1206.5,1503.5 1207.5,1503.1 1208.6,1503 1209.6,1503.3 1210.6,1502.8 1211.6,1503.1 1212.7,1503.1 1213.7,1502.8 1214.7,1503.5 1215.8,1502.7 1216.8,1503 1217.8,1503.2 1218.9,1502.9 1219.9,1503.4 1220.9,1502.7 1222,1503.1 1223,1503.3 1224,1502.9 1225,1503.2 1226.1,1503.4 1227.1,1502.9 1228.1,1503.6 1229.2,1502.9 1230.2,1503.4 1231.2,1503 1232.3,1502.7 1233.3,1503.1 1234.3,1503 1235.3,1503.3 1236.4,1503.6 1237.4,1503.6 1238.4,1503.5 1239.5,1503 1240.5,1503.2 1241.5,1503.1 1242.6,1502.8 1243.6,1503.5 1244.6,1503.4 1245.6,1503 1246.7,1503.6 1247.7,1503.6 1248.7,1503.3 1249.8,1503.5 1250.8,1503.3 1251.8,1503.4 1252.9,1503.1 1253.9,1503.1 1254.9,1503.4 1256,1503 1257,1503.2 1258,1503.5 1259,1502.8 1260.1,1503.4 1261.1,1503.5 1262.1,1503.5 1263.2,1503 1264.2,1502.8 1265.2,1502.9 1266.3,1503.2 1267.3,1503.4 1268.3,1503.6 1269.3,1503 1270.4,1503.1 1271.4,1503.3" fill="none" stroke="none" marker-start="url(#mb)" marker-mid="url(#mb)" marker-end="url(#mb)"/>
<path d="M139 1502.8L140 1504.1L141.1 1503.9L142.1 1503.2L143.1 1502.8L144.2 1502.7L145.2 1503.2L146.2 1503.1L147.2 1501.4L148.3 1503.2L149.3 1503.8L150.3 1503.2L151.4 1502.9L152.4 1503.2L153.4 1503.2L154.5 1502.6L155.5 1502.9L156.5 1503.1L157.5 1502.8L158.6 1503.9L159.6 1504L160.6 1503.3L161.7 1503.4L162.7 1502.6L163.7 1503.4L164.8 1503.6L165.8 1503.2L166.8 1503L167.9 1503.8L168.9 1503.4L169.9 1503.4L170.9 1502.5L172 1503.3L173 1502.6L174 1503.1L175.1 1503.4L176.1 1503.7L177.1 1502.6L178.2 1503.7L179.2 1503.8L180.2 1501.5L181.2 1502.1L182.3 1501.6L183.3 1501L184.3 1501.6L185.4 1501.5L186.4 1501.8L187.4 1500.3L188.5 1499.8L189.5 1499.6L190.5 1500.6L191.6 1498.9L192.6 1499.8L193.6 1494.7L194.6 1494.3L195.7 1486.9L196.7 1489.7L197.7 1484L198.8 1481.9L199.8 1470.3L200.8 1461.5L201.9 1458.4L202.9 1465.1L203.9 1455.5L204.9 1444.4L206 1449.6L207 1444.1L208 1437.7L209.1 1435.5L210.1 1429L211.1 1426.3L212.2 1425.7L213.2 1424.6L214.2 1421.5L215.2 1417.9L216.3 1416.7L217.3 1407.6L218.3 1412.8L219.4 1390.4L220.4 1382.4L221.4 1397.2L222.5 1387.3L223.5 1416.2L224.5 1400.4L225.6 1397.8L226.6 1416.7L227.6 1426.2L228.6 1415L229.7 1436.3L230.7 1425L231.7 1433.2L232.8 1429.3L233.8 1430.1L234.8 1454.7L235.9 1426.8L236.9 1428.2L237.9 1437.7L238.9 1448L240 1440.3L241 1455.2L242 1463.2L243.1 1455.5L244.1 1451.9L245.1 1469.3L246.2 1476.1L247.2 1479.1L248.2 1464.2L249.3 1471.8L250.3 1458.9L251.3 1452.4L252.3 1450.9L253.4 1435.8L254.4 1413.3L255.4 1441.2L256.5 1432L257.5 1437.1L258.5 1440.6L259.6 1442.7L260.6 1433.7L261.6 1432.1L262.6 1405.5L263.7 1366.4L264.7 1432.8L265.7 1395.2L266.8 1365.9L267.8 1393.8L268.8 1409.2L269.9 1373.1L270.9 1438.9L271.9 1400L273 1345.9L274 1329.4L275 1316.9L276 1289L277.1 1287.5L278.1 1234.3L279.1 1212.7L280.2 1182.9L281.2 1170.9L282.2 1187.6L283.3 1154.3L284.3 1182.4L285.3 1170L286.3 1155.4L287.4 1175.9L288.4 1158.7L289.4 1195.4L290.5 1164.8L291.5 1125.1L292.5 1103.8L293.6 1089L294.6 1063.3L295.6 1051.1L296.7 1044.1L297.7 1037.8L298.7 1035.6L299.7 1029.1L300.8 1022.8L301.8 1014.6L302.8 1016.9L303.9 1028.8L304.9 1035.7L305.9 1036L307 1039L308 1037.6L309 1041.8L310 1046.7L311.1 1064.4L312.1 1055.5L313.1 1054.1L314.2 1071.5L315.2 1062.7L316.2 1059.4L317.3 1078.1L318.3 1070.4L319.3 1069.8L320.4 1085.1L321.4 1073.5L322.4 1082.4L323.4 1103.6L324.5 1106.3L325.5 1092.3L326.5 1100.5L327.6 1112.4L328.6 1123.1L329.6 1123.3L330.7 1199.4L331.7 1294.7L332.7 1253.1L333.7 1199.7L334.8 1153.1L335.8 1143.7L336.8 1147.1L337.9 1166.3L338.9 1181.1L339.9 1308.7L341 1370.5L342 1420.8L343 1376.6L344 1414.3L345.1 1437.4L346.1 1383.4L347.1 1446L348.2 1446.9L349.2 1404.2L350.2 1351.7L351.3 1315L352.3 1267.1L353.3 1232.2L354.4 1244.6L355.4 1225L356.4 1260.4L357.4 1234.4L358.5 1250.7L359.5 1212.1L360.5 1251.8L361.6 1290.8L362.6 1344.9L363.6 1437.9L364.7 1480.2L365.7 1421.5L366.7 1344.8L367.7 1327.8L368.8 1322.1L369.8 1287.1L370.8 1269.5L371.9 1240.8L372.9 1224.9L373.9 1268.1L375 1292.7L376 1236.9L377 1303L378.1 1225.2L379.1 1276L380.1 1220.5L381.1 1236.2L382.2 1114.2L383.2 1192L384.2 1215.9L385.3 1198.8L386.3 1201.7L387.3 1181.5L388.4 1218.6L389.4 1184.7L390.4 1212.7L391.4 1184L392.5 1201.6L393.5 1222.4L394.5 1207.8L395.6 1259.3L396.6 1295.8L397.6 1276.8L398.7 1284.4L399.7 1268.7L400.7 1259.6L401.8 1299.2L402.8 1262.6L403.8 1334.9L404.8 1377.9L405.9 1411.6L406.9 1437.5L407.9 1453.1L409 1492.5L410 1505.9L411 1491.3L412.1 1506.3L413.1 1495.7L414.1 1506.3L415.1 1507.3L416.2 1497.9L417.2 1503.7L418.2 1501.8L419.3 1507.8L420.3 1498.6L421.3 1506.1L422.4 1507.9L423.4 1504.8L424.4 1505.7L425.5 1504.4L426.5 1503.9L427.5 1504.4L428.5 1504.2L429.6 1505L430.6 1503.8L431.6 1504.6L432.7 1504.3L433.7 1504.6L434.7 1504.3L435.8 1504.9L436.8 1502.9L437.8 1504.7L438.8 1504.5L439.9 1505.2L440.9 1504.8L441.9 1504L443 1504.7L444 1504.1L445 1505.1L446.1 1504.9L447.1 1504.6L448.1 1503.9L449.2 1503.9L450.2 1505.2L451.2 1504L452.2 1503.9L453.3 1505.2L454.3 1504.7L455.3 1504L456.4 1504.7L457.4 1504.9L458.4 1504.6L459.5 1504.2L460.5 1503.9L461.5 1504.6L462.5 1504.7L463.6 1505L464.6 1504.8L465.6 1504.7L466.7 1504.8L467.7 1504.7L468.7 1503.8L469.8 1504.9L470.8 1504.8L471.8 1503.8L472.8 1505.1L473.9 1504.3L474.9 1504.6L475.9 1505.2L477 1504.2L478 1504.5L479 1504.4L480.1 1504.4L481.1 1506.7L482.1 1505.1L483.2 1504.8L484.2 1504.4L485.2 1505L486.2 1504.2L487.3 1504.4L488.3 1505.2L489.3 1504L490.4 1505L491.4 1504L492.4 1505L493.5 1503.9L494.5 1504.8L495.5 1505L496.5 1504.3L497.6 1503.9L498.6 1504.8L499.6 1505L500.7 1504.1L501.7 1504.8L502.7 1504.1L503.8 1504L504.8 1504.1L505.8 1504.1L506.9 1503.7L507.9 1504.8L508.9 1505.1L509.9 1504L511 1504.4L512 1505.1L513 1504.5L514.1 1504.2L515.1 1504L516.1 1504.2L517.2 1503.7L518.2 1504.3L519.2 1504.6L520.2 1504.7L521.3 1503.9L522.3 1503.8L523.3 1503.7L524.4 1503.4L525.4 1502.6L526.4 1504L527.5 1502.8L528.5 1503.4L529.5 1503.8L530.6 1503.5L531.6 1503.7L532.6 1503.4L533.6 1501.5L534.7 1502.2L535.7 1501.6L536.7 1502.6L537.8 1501.3L538.8 1501.3L539.8 1501.1L540.9 1501.2L541.9 1501.3L542.9 1501.7L543.9 1501.3L545 1501.5L546 1502.1L547 1501.1L548.1 1501.8L549.1 1501.7L550.1 1501.9L551.2 1501.9L552.2 1501.2L553.2 1501.2L554.3 1501.1L555.3 1501.5L556.3 1500.4L557.3 1501.6L558.4 1499.8L559.4 1499.9L560.4 1500.5L561.5 1498.3L562.5 1498.5L563.5 1498L564.6 1499.5L565.6 1497.3L566.6 1497.3L567.6 1498.7L568.7 1499.2L569.7 1500L570.7 1499L571.8 1500.5L572.8 1501.3L573.8 1500.2L574.9 1500.5L575.9 1501.2L576.9 1500.2L578 1501.5L579 1500.8L580 1500.8L581 1500.4L582.1 1499.1L583.1 1501.9L584.1 1501.2L585.2 1501.8L586.2 1501.7L587.2 1501L588.3 1501.4L589.3 1501.3L590.3 1500.8L591.3 1501.9L592.4 1502.1L593.4 1501.2L594.4 1500.7L595.5 1501.6L596.5 1500.2L597.5 1500.4L598.6 1497.2L599.6 1497.3L600.6 1493L601.6 1490.9L602.7 1486.2L603.7 1490.4L604.7 1477.1L605.8 1477.5L606.8 1466.3L607.8 1463.1L608.9 1468.3L609.9 1453.4L610.9 1444.8L612 1447.9L613 1435.1L614 1418.1L615 1411.7L616.1 1402.8L617.1 1403.1L618.1 1394.3L619.2 1379.2L620.2 1368.2L621.2 1345.9L622.3 1353.3L623.3 1344.8L624.3 1337.8L625.3 1352.2L626.4 1338.7L627.4 1346.7L628.4 1337.8L629.5 1337.9L630.5 1344.1L631.5 1350.9L632.6 1334.1L633.6 1318L634.6 1337.6L635.7 1322.5L636.7 1339.4L637.7 1323.5L638.7 1327.1L639.8 1322.8L640.8 1335.8L641.8 1353.5L642.9 1327.8L643.9 1311.9L644.9 1247.5L646 1247L647 1272.6L648 1267.2L649 1270.8L650.1 1257.8L651.1 1241.1L652.1 1252.4L653.2 1253.8L654.2 1244.2L655.2 1190.6L656.3 1177.7L657.3 1166.5L658.3 1161L659.4 1159.4L660.4 1144L661.4 1134.3L662.4 1111.5L663.5 1109.7L664.5 1116.2L665.5 1093.8L666.6 1105.6L667.6 1097.2L668.6 1095.8L669.7 1060.3L670.7 1060.1L671.7 1053L672.7 1040.3L673.8 1021.9L674.8 1015.1L675.8 992L676.9 1034.8L677.9 1027.3L678.9 1046.4L680 1027.7L681 1046.9L682 1032L683.1 1059.4L684.1 1032.1L685.1 1059.6L686.1 1056.4L687.2 1080.8L688.2 1060.6L689.2 1090.1L690.3 1072.4L691.3 1092.4L692.3 1120.4L693.4 1083.4L694.4 1095.2L695.4 1101.7L696.4 1078.9L697.5 1095.1L698.5 1068.9L699.5 1098.9L700.6 1130L701.6 1093.9L702.6 1108.4L703.7 1102.8L704.7 1086.9L705.7 1078.8L706.8 1106.3L707.8 1093.7L708.8 1096.6L709.8 1097.6L710.9 1091L711.9 1115.9L712.9 1092.3L714 1109.9L715 1089.9L716 1163.8L717.1 1100.6L718.1 1113.4L719.1 1148L720.1 1200.1L721.2 1228.7L722.2 1290.5L723.2 1318.8L724.3 1323.4L725.3 1382L726.3 1458.4L727.4 1467.8L728.4 1406.9L729.4 1362.7L730.4 1325.9L731.5 1244.3L732.5 1200.9L733.5 1174.1L734.6 1160.2L735.6 1133.2L736.6 1106.3L737.7 1100.8L738.7 1135.1L739.7 1177.4L740.8 1201.4L741.8 1230.6L742.8 1200.5L743.8 1150.2L744.9 1120.6L745.9 1111L746.9 1118L748 1106.9L749 1113.3L750 1131.1L751.1 1109.5L752.1 1106.7L753.1 1130.2L754.1 1105.9L755.2 1098.2L756.2 1113.5L757.2 1153.2L758.3 1172.4L759.3 1171.3L760.3 1141.9L761.4 1116.8L762.4 1083L763.4 1103.3L764.5 1131.6L765.5 1122L766.5 1130.1L767.5 1102.1L768.6 1115.4L769.6 1112.8L770.6 1131.8L771.7 1097.8L772.7 1134.1L773.7 1148.7L774.8 1157.2L775.8 1187.9L776.8 1213.3L777.8 1294L778.9 1350.4L779.9 1419L780.9 1464L782 1491.1L783 1511.7L784 1509.5L785.1 1509.6L786.1 1495.5L787.1 1488.4L788.2 1481.3L789.2 1472.2L790.2 1478L791.2 1477.9L792.3 1486.1L793.3 1486.9L794.3 1489.4L795.4 1493.3L796.4 1497.1L797.4 1494.6L798.5 1500.1L799.5 1497.6L800.5 1500.4L801.5 1502L802.6 1504L803.6 1504.1L804.6 1505.2L805.7 1504.6L806.7 1505.1L807.7 1505L808.8 1502.9L809.8 1503.9L810.8 1504.3L811.9 1503.8L812.9 1504.1L813.9 1504.7L814.9 1504.3L816 1504.5L817 1505.1L818 1503.8L819.1 1505.1L820.1 1504L821.1 1505.1L822.2 1504.2L823.2 1504L824.2 1504L825.2 1504.7L826.3 1504.2L827.3 1503.8L828.3 1505.2L829.4 1504.2L830.4 1504.7L831.4 1504.3L832.5 1504.4L833.5 1503.9L834.5 1503.9L835.6 1505L836.6 1504L837.6 1503.9L838.6 1504.6L839.7 1504.2L840.7 1504L841.7 1504.1L842.8 1504.1L843.8 1504L844.8 1504.2L845.9 1504.7L846.9 1504.8L847.9 1504.7L848.9 1503.9L850 1505.2L851 1504.3L852 1504.1L853.1 1504.8L854.1 1505L855.1 1504.7L856.2 1503.8L857.2 1504.4L858.2 1504.2L859.2 1505L860.3 1503.8L861.3 1505L862.3 1505L863.4 1504.6L864.4 1505.2L865.4 1503.8L866.5 1504.6L867.5 1504.8L868.5 1504.9L869.6 1503.8L870.6 1503.9L871.6 1504.3L872.6 1504.6L873.7 1504.3L874.7 1504.7L875.7 1504.4L876.8 1504.8L877.8 1503.7L878.8 1503.9L879.9 1505L880.9 1504.1L881.9 1504.4L882.9 1504.3L884 1505.1L885 1505.1L886 1505.1L887.1 1504.2L888.1 1504.1L889.1 1504L890.2 1503.9L891.2 1504.6L892.2 1504.2L893.3 1503.9L894.3 1502.5L895.3 1506.4L896.3 1509L897.4 1503.5L898.4 1452.7L899.4 1441.8L900.5 1471.1L901.5 1505.3L902.5 1508.5L903.6 1498.9L904.6 1501.4L905.6 1499.3L906.6 1500.4L907.7 1499.4L908.7 1496.1L909.7 1498.9L910.8 1495.4L911.8 1493.5L912.8 1495L913.9 1492.5L914.9 1494.8L915.9 1493.2L917 1491.1L918 1491.7L919 1490.9L920 1489.9L921.1 1489.6L922.1 1488.3L923.1 1490.1L924.2 1488.2L925.2 1485.9L926.2 1488.4L927.3 1488.5L928.3 1484.6L929.3 1484.2L930.3 1482.9L931.4 1485L932.4 1483.7L933.4 1482.5L934.5 1483.6L935.5 1481.1L936.5 1480.4L937.6 1484.1L938.6 1485.7L939.6 1486.2L940.7 1486.2L941.7 1485.9L942.7 1490.8L943.7 1489.3L944.8 1489.6L945.8 1490.3L946.8 1490.3L947.9 1490.7L948.9 1491.4L949.9 1490.9L951 1489.9L952 1489.7L953 1490.7L954 1489.9L955.1 1489.9L956.1 1489.6L957.1 1491.4L958.2 1489.5L959.2 1501.2L960.2 1490L961.3 1484.1L962.3 1488.9L963.3 1484.8L964.4 1486.8L965.4 1488.4L966.4 1486.7L967.4 1483.9L968.5 1483.9L969.5 1482.6L970.5 1481.3L971.6 1479.9L972.6 1476.2L973.6 1473.2L974.7 1472.9L975.7 1466L976.7 1460.6L977.7 1459.3L978.8 1455.5L979.8 1473.1L980.8 1491L981.9 1492.8L982.9 1480.1L983.9 1483L985 1477.8L986 1476.5L987 1473.3L988 1468.3L989.1 1471.1L990.1 1464.9L991.1 1464.2L992.2 1464.4L993.2 1460L994.2 1459.6L995.3 1437L996.3 1427.3L997.3 1427.4L998.4 1409.4L999.4 1410.9L1000.4 1391.9L1001.4 1364.8L1002.5 1353.7L1003.5 1303.2L1004.5 1318.7L1005.6 1297.2L1006.6 1340.4L1007.6 1306.1L1008.7 1330.2L1009.7 1304.9L1010.7 1331.7L1011.7 1298.1L1012.8 1349.5L1013.8 1314.2L1014.8 1313.5L1015.9 1306.6L1016.9 1282.3L1017.9 1279.8L1019 1263.6L1020 1262.3L1021 1237L1022.1 1218.6L1023.1 1208L1024.1 1180.2L1025.1 1144.4L1026.2 1145.2L1027.2 1133.6L1028.2 1152.5L1029.3 1134.3L1030.3 1152.8L1031.3 1135.7L1032.4 1142L1033.4 1130.5L1034.4 1145.6L1035.4 1129.9L1036.5 1135.9L1037.5 1120.8L1038.5 1140.3L1039.6 1146L1040.6 1134.3L1041.6 1141.7L1042.7 1119.5L1043.7 1109.3L1044.7 1098.9L1045.8 1098.2L1046.8 1084L1047.8 1089.8L1048.8 1085.2L1049.9 1074.9L1050.9 1055.2L1051.9 1040.5L1053 1039.9L1054 1023.6L1055 1034.4L1056.1 1026.3L1057.1 1056.3L1058.1 1092.3L1059.1 1063L1060.2 1043.9L1061.2 1037.4L1062.2 1042.8L1063.3 1054.8L1064.3 1058.3L1065.3 1079.5L1066.4 1111.6L1067.4 1137.4L1068.4 1145.2L1069.5 1078.8L1070.5 1111.7L1071.5 1074.1L1072.5 1114.2L1073.6 1080.5L1074.6 1089.6L1075.6 1083.1L1076.7 1080.8L1077.7 1121.1L1078.7 1071.7L1079.8 1113.5L1080.8 1095.2L1081.8 1139.1L1082.8 1090.8L1083.9 1079.7L1084.9 1151.6L1085.9 1168.3L1087 1179L1088 1195.1L1089 1199L1090.1 1298.8L1091.1 1406.3L1092.1 1421.4L1093.2 1449.9L1094.2 1475.2L1095.2 1430.5L1096.2 1539.1L1097.3 1479.9L1098.3 1448.1L1099.3 1491.9L1100.4 1442.8L1101.4 1471.9L1102.4 1437L1103.5 1469.3L1104.5 1437.4L1105.5 1460.5L1106.5 1484.5L1107.6 1469.4L1108.6 1495.4L1109.6 1469.8L1110.7 1500.7L1111.7 1480.8L1112.7 1493.5L1113.8 1475.1L1114.8 1445.8L1115.8 1425.9L1116.8 1404.4L1117.9 1390.3L1118.9 1397.1L1119.9 1390.2L1121 1306.9L1122 1255L1123 1213.7L1124.1 1288.2L1125.1 1364.3L1126.1 1472.3L1127.2 1508L1128.2 1497.7L1129.2 1511.2L1130.2 1503.1L1131.3 1523.9L1132.3 1506.6L1133.3 1497.3L1134.4 1505.6L1135.4 1492.9L1136.4 1480.7L1137.5 1475.9L1138.5 1452.6L1139.5 1464.4L1140.5 1439L1141.6 1407.6L1142.6 1390.7L1143.6 1454L1144.7 1407.6L1145.7 1447.7L1146.7 1420.6L1147.8 1381.9L1148.8 1349.7L1149.8 1248.3L1150.9 1237.9L1151.9 1208.7L1152.9 1220.9L1153.9 1261.9L1155 1275.5L1156 1292.4L1157 1298.1L1158.1 1310.5L1159.1 1392.3L1160.1 1454.6L1161.2 1492.8L1162.2 1479.5L1163.2 1498.7L1164.2 1480.9L1165.3 1495.4L1166.3 1462.9L1167.3 1446L1168.4 1436.4L1169.4 1464.2L1170.4 1481.1L1171.5 1495.1L1172.5 1515.7L1173.5 1501.4L1174.6 1490L1175.6 1476.7L1176.6 1471.6L1177.6 1460.7L1178.7 1484.5L1179.7 1504.5L1180.7 1505.3L1181.8 1503.5L1182.8 1504.6L1183.8 1506.5L1184.9 1504.5L1185.9 1504.3L1186.9 1504.1L1187.9 1504.5L1189 1503.8L1190 1504L1191 1505L1192.1 1503.9L1193.1 1504.4L1194.1 1505.1L1195.2 1504.1L1196.2 1503.9L1197.2 1504L1198.3 1504.5L1199.3 1504.9L1200.3 1502L1201.3 1504.9L1202.4 1504.4L1203.4 1504.9L1204.4 1504L1205.5 1504.7L1206.5 1505.2L1207.5 1504.5L1208.6 1504.1L1209.6 1504.9L1210.6 1504.6L1211.6 1503.7L1212.7 1504.5L1213.7 1504.2L1214.7 1505.1L1215.8 1505L1216.8 1504.6L1217.8 1502.6L1218.9 1504.2L1219.9 1502.9L1220.9 1503.9L1222 1503.9L1223 1504.9L1224 1505.1L1225 1503.8L1226.1 1504.6L1227.1 1505.1L1228.1 1504.9L1229.2 1504.2L1230.2 1505L1231.2 1504.6L1232.3 1504.3L1233.3 1504.2L1234.3 1504.2L1235.3 1505.1L1236.4 1504.2L1237.4 1503.7L1238.4 1504L1239.5 1504.3L1240.5 1505.1L1241.5 1504.2L1242.6 1504L1243.6 1504.4L1244.6 1504.6L1245.6 1504L1246.7 1505.1L1247.7 1504L1248.7 1504.2L1249.8 1503.9L1250.8 1504.9L1251.8 1504L1252.9 1505.1L1253.9 1505L1254.9 1503.8L1256 1503.9L1257 1503.9L1258 1504.7L1259 1504.1L1260.1 1507.1L1261.1 1504.8L1262.1 1504.9L1263.2 1504.2L1264.2 1504.3L1265.2 1504.8L1266.3 1504.2L1267.3 1504.2L1268.3 1503.9L1269.3 1504.3L1270.4 1504L1271.4 1504" fill="none" stroke="#7A9AC1" stroke-width="2.7" stroke-linejoin="round"/>
<path d="M139 1502.8h0M140 1504.1h0M141.1 1503.9h0M142.1 1503.2h0M143.1 1502.8h0M144.2 1502.7h0M145.2 1503.2h0M146.2 1503.1h0M147.2 1501.4h0M148.3 1503.2h0M149.3 1503.8h0M150.3 1503.2h0M151.4 1502.9h0M152.4 1503.2h0M153.4 1503.2h0M154.5 1502.6h0M155.5 1502.9h0M156.5 1503.1h0M157.5 1502.8h0M158.6 1503.9h0M159.6 1504h0M160.6 1503.3h0M161.7 1503.4h0M162.7 1502.6h0M163.7 1503.4h0M164.8 1503.6h0M165.8 1503.2h0M166.8 1503h0M167.9 1503.8h0M168.9 1503.4h0M169.9 1503.4h0M170.9 1502.5h0M172 1503.3h0M173 1502.6h0M174 1503.1h0M175.1 1503.4h0M176.1 1503.7h0M177.1 1502.6h0M178.2 1503.7h0M179.2 1503.8h0M180.2 1501.5h0M181.2 1502.1h0M182.3 1501.6h0M183.3 1501h0M184.3 1501.6h0M185.4 1501.5h0M186.4 1501.8h0M187.4 1500.3h0M188.5 1499.8h0M189.5 1499.6h0M190.5 1500.6h0M191.6 1498.9h0M192.6 1499.8h0M193.6 1494.7h0M194.6 1494.3h0M195.7 1486.9h0M196.7 1489.7h0M197.7 1484h0M198.8 1481.9h0M199.8 1470.3h0M200.8 1461.5h0M201.9 1458.4h0M202.9 1465.1h0M203.9 1455.5h0M204.9 1444.4h0M206 1449.6h0M207 1444.1h0M208 1437.7h0M209.1 1435.5h0M210.1 1429h0M211.1 1426.3h0M212.2 1425.7h0M213.2 1424.6h0M214.2 1421.5h0M215.2 1417.9h0M216.3 1416.7h0M217.3 1407.6h0M218.3 1412.8h0M219.4 1390.4h0M220.4 1382.4h0M221.4 1397.2h0M222.5 1387.3h0M223.5 1416.2h0M224.5 1400.4h0M225.6 1397.8h0M226.6 1416.7h0M227.6 1426.2h0M228.6 1415h0M229.7 1436.3h0M230.7 1425h0M231.7 1433.2h0M232.8 1429.3h0M233.8 1430.1h0M234.8 1454.7h0M235.9 1426.8h0M236.9 1428.2h0M237.9 1437.7h0M238.9 1448h0M240 1440.3h0M241 1455.2h0M242 1463.2h0M243.1 1455.5h0M244.1 1451.9h0M245.1 1469.3h0M246.2 1476.1h0M247.2 1479.1h0M248.2 1464.2h0M249.3 1471.8h0M250.3 1458.9h0M251.3 1452.4h0M252.3 1450.9h0M253.4 1435.8h0M254.4 1413.3h0M255.4 1441.2h0M256.5 1432h0M257.5 1437.1h0M258.5 1440.6h0M259.6 1442.7h0M260.6 1433.7h0M261.6 1432.1h0M262.6 1405.5h0M263.7 1366.4h0M264.7 1432.8h0M265.7 1395.2h0M266.8 1365.9h0M267.8 1393.8h0M268.8 1409.2h0M269.9 1373.1h0M270.9 1438.9h0M271.9 1400h0M273 1345.9h0M274 1329.4h0M275 1316.9h0M276 1289h0M277.1 1287.5h0M278.1 1234.3h0M279.1 1212.7h0M280.2 1182.9h0M281.2 1170.9h0M282.2 1187.6h0M283.3 1154.3h0M284.3 1182.4h0M285.3 1170h0M286.3 1155.4h0M287.4 1175.9h0M288.4 1158.7h0M289.4 1195.4h0M290.5 1164.8h0M291.5 1125.1h0M292.5 1103.8h0M293.6 1089h0M294.6 1063.3h0M295.6 1051.1h0M296.7 1044.1h0M297.7 1037.8h0M298.7 1035.6h0M299.7 1029.1h0M300.8 1022.8h0M301.8 1014.6h0M302.8 1016.9h0M303.9 1028.8h0M304.9 1035.7h0M305.9 1036h0M307 1039h0M308 1037.6h0M309 1041.8h0M310 1046.7h0M311.1 1064.4h0M312.1 1055.5h0M313.1 1054.1h0M314.2 1071.5h0M315.2 1062.7h0M316.2 1059.4h0M317.3 1078.1h0M318.3 1070.4h0M319.3 1069.8h0M320.4 1085.1h0M321.4 1073.5h0M322.4 1082.4h0M323.4 1103.6h0M324.5 1106.3h0M325.5 1092.3h0M326.5 1100.5h0M327.6 1112.4h0M328.6 1123.1h0M329.6 1123.3h0M330.7 1199.4h0M331.7 1294.7h0M332.7 1253.1h0M333.7 1199.7h0M334.8 1153.1h0M335.8 1143.7h0M336.8 1147.1h0M337.9 1166.3h0M338.9 1181.1h0M339.9 1308.7h0M341 1370.5h0M342 1420.8h0M343 1376.6h0M344 1414.3h0M345.1 1437.4h0M346.1 1383.4h0M347.1 1446h0M348.2 1446.9h0M349.2 1404.2h0M350.2 1351.7h0M351.3 1315h0M352.3 1267.1h0M353.3 1232.2h0M354.4 1244.6h0M355.4 1225h0M356.4 1260.4h0M357.4 1234.4h0M358.5 1250.7h0M359.5 1212.1h0M360.5 1251.8h0M361.6 1290.8h0M362.6 1344.9h0M363.6 1437.9h0M364.7 1480.2h0M365.7 1421.5h0M366.7 1344.8h0M367.7 1327.8h0M368.8 1322.1h0M369.8 1287.1h0M370.8 1269.5h0M371.9 1240.8h0M372.9 1224.9h0M373.9 1268.1h0M375 1292.7h0M376 1236.9h0M377 1303h0M378.1 1225.2h0M379.1 1276h0M380.1 1220.5h0M381.1 1236.2h0M382.2 1114.2h0M383.2 1192h0M384.2 1215.9h0M385.3 1198.8h0M386.3 1201.7h0M387.3 1181.5h0M388.4 1218.6h0M389.4 1184.7h0M390.4 1212.7h0M391.4 1184h0M392.5 1201.6h0M393.5 1222.4h0M394.5 1207.8h0M395.6 1259.3h0M396.6 1295.8h0M397.6 1276.8h0M398.7 1284.4h0M399.7 1268.7h0M400.7 1259.6h0M401.8 1299.2h0M402.8 1262.6h0M403.8 1334.9h0M404.8 1377.9h0M405.9 1411.6h0M406.9 1437.5h0M407.9 1453.1h0M409 1492.5h0M410 1505.9h0M411 1491.3h0M412.1 1506.3h0M413.1 1495.7h0M414.1 1506.3h0M415.1 1507.3h0M416.2 1497.9h0M417.2 1503.7h0M418.2 1501.8h0M419.3 1507.8h0M420.3 1498.6h0M421.3 1506.1h0M422.4 1507.9h0M423.4 1504.8h0M424.4 1505.7h0M425.5 1504.4h0M426.5 1503.9h0M427.5 1504.4h0M428.5 1504.2h0M429.6 1505h0M430.6 1503.8h0M431.6 1504.6h0M432.7 1504.3h0M433.7 1504.6h0M434.7 1504.3h0M435.8 1504.9h0M436.8 1502.9h0M437.8 1504.7h0M438.8 1504.5h0M439.9 1505.2h0M440.9 1504.8h0M441.9 1504h0M443 1504.7h0M444 1504.1h0M445 1505.1h0M446.1 1504.9h0M447.1 1504.6h0M448.1 1503.9h0M449.2 1503.9h0M450.2 1505.2h0M451.2 1504h0M452.2 1503.9h0M453.3 1505.2h0M454.3 1504.7h0M455.3 1504h0M456.4 1504.7h0M457.4 1504.9h0M458.4 1504.6h0M459.5 1504.2h0M460.5 1503.9h0M461.5 1504.6h0M462.5 1504.7h0M463.6 1505h0M464.6 1504.8h0M465.6 1504.7h0M466.7 1504.8h0M467.7 1504.7h0M468.7 1503.8h0M469.8 1504.9h0M470.8 1504.8h0M471.8 1503.8h0M472.8 1505.1h0M473.9 1504.3h0M474.9 1504.6h0M475.9 1505.2h0M477 1504.2h0M478 1504.5h0M479 1504.4h0M480.1 1504.4h0M481.1 1506.7h0M482.1 1505.1h0M483.2 1504.8h0M484.2 1504.4h0M485.2 1505h0M486.2 1504.2h0M487.3 1504.4h0M488.3 1505.2h0M489.3 1504h0M490.4 1505h0M491.4 1504h0M492.4 1505h0M493.5 1503.9h0M494.5 1504.8h0M495.5 1505h0M496.5 1504.3h0M497.6 1503.9h0M498.6 1504.8h0M499.6 1505h0M500.7 1504.1h0M501.7 1504.8h0M502.7 1504.1h0M503.8 1504h0M504.8 1504.1h0M505.8 1504.1h0M506.9 1503.7h0M507.9 1504.8h0M508.9 1505.1h0M509.9 1504h0M511 1504.4h0M512 1505.1h0M513 1504.5h0M514.1 1504.2h0M515.1 1504h0M516.1 1504.2h0M517.2 1503.7h0M518.2 1504.3h0M519.2 1504.6h0M520.2 1504.7h0M521.3 1503.9h0M522.3 1503.8h0M523.3 1503.7h0M524.4 1503.4h0M525.4 1502.6h0M526.4 1504h0M527.5 1502.8h0M528.5 1503.4h0M529.5 1503.8h0M530.6 1503.5h0M531.6 1503.7h0M532.6 1503.4h0M533.6 1501.5h0M534.7 1502.2h0M535.7 1501.6h0M536.7 1502.6h0M537.8 1501.3h0M538.8 1501.3h0M539.8 1501.1h0M540.9 1501.2h0M541.9 1501.3h0M542.9 1501.7h0M543.9 1501.3h0M545 1501.5h0M546 1502.1h0M547 1501.1h0M548.1 1501.8h0M549.1 1501.7h0M550.1 1501.9h0M551.2 1501.9h0M552.2 1501.2h0M553.2 1501.2h0M554.3 1501.1h0M555.3 1501.5h0M556.3 1500.4h0M557.3 1501.6h0M558.4 1499.8h0M559.4 1499.9h0M560.4 1500.5h0M561.5 1498.3h0M562.5 1498.5h0M563.5 1498h0M564.6 1499.5h0M565.6 1497.3h0M566.6 1497.3h0M567.6 1498.7h0M568.7 1499.2h0M569.7 1500h0M570.7 1499h0M571.8 1500.5h0M572.8 1501.3h0M573.8 1500.2h0M574.9 1500.5h0M575.9 1501.2h0M576.9 1500.2h0M578 1501.5h0M579 1500.8h0M580 1500.8h0M581 1500.4h0M582.1 1499.1h0M583.1 1501.9h0M584.1 1501.2h0M585.2 1501.8h0M586.2 1501.7h0M587.2 1501h0M588.3 1501.4h0M589.3 1501.3h0M590.3 1500.8h0M591.3 1501.9h0M592.4 1502.1h0M593.4 1501.2h0M594.4 1500.7h0M595.5 1501.6h0M596.5 1500.2h0M597.5 1500.4h0M598.6 1497.2h0M599.6 1497.3h0M600.6 1493h0M601.6 1490.9h0M602.7 1486.2h0M603.7 1490.4h0M604.7 1477.1h0M605.8 1477.5h0M606.8 1466.3h0M607.8 1463.1h0M608.9 1468.3h0M609.9 1453.4h0M610.9 1444.8h0M612 1447.9h0M613 1435.1h0M614 1418.1h0M615 1411.7h0M616.1 1402.8h0M617.1 1403.1h0M618.1 1394.3h0M619.2 1379.2h0M620.2 1368.2h0M621.2 1345.9h0M622.3 1353.3h0M623.3 1344.8h0M624.3 1337.8h0M625.3 1352.2h0M626.4 1338.7h0M627.4 1346.7h0M628.4 1337.8h0M629.5 1337.9h0M630.5 1344.1h0M631.5 1350.9h0M632.6 1334.1h0M633.6 1318h0M634.6 1337.6h0M635.7 1322.5h0M636.7 1339.4h0M637.7 1323.5h0M638.7 1327.1h0M639.8 1322.8h0M640.8 1335.8h0M641.8 1353.5h0M642.9 1327.8h0M643.9 1311.9h0M644.9 1247.5h0M646 1247h0M647 1272.6h0M648 1267.2h0M649 1270.8h0M650.1 1257.8h0M651.1 1241.1h0M652.1 1252.4h0M653.2 1253.8h0M654.2 1244.2h0M655.2 1190.6h0M656.3 1177.7h0M657.3 1166.5h0M658.3 1161h0M659.4 1159.4h0M660.4 1144h0M661.4 1134.3h0M662.4 1111.5h0M663.5 1109.7h0M664.5 1116.2h0M665.5 1093.8h0M666.6 1105.6h0M667.6 1097.2h0M668.6 1095.8h0M669.7 1060.3h0M670.7 1060.1h0M671.7 1053h0M672.7 1040.3h0M673.8 1021.9h0M674.8 1015.1h0M675.8 992h0M676.9 1034.8h0M677.9 1027.3h0M678.9 1046.4h0M680 1027.7h0M681 1046.9h0M682 1032h0M683.1 1059.4h0M684.1 1032.1h0M685.1 1059.6h0M686.1 1056.4h0M687.2 1080.8h0M688.2 1060.6h0M689.2 1090.1h0M690.3 1072.4h0M691.3 1092.4h0M692.3 1120.4h0M693.4 1083.4h0M694.4 1095.2h0M695.4 1101.7h0M696.4 1078.9h0M697.5 1095.1h0M698.5 1068.9h0M699.5 1098.9h0M700.6 1130h0M701.6 1093.9h0M702.6 1108.4h0M703.7 1102.8h0M704.7 1086.9h0M705.7 1078.8h0M706.8 1106.3h0M707.8 1093.7h0M708.8 1096.6h0M709.8 1097.6h0M710.9 1091h0M711.9 1115.9h0M712.9 1092.3h0M714 1109.9h0M715 1089.9h0M716 1163.8h0M717.1 1100.6h0M718.1 1113.4h0M719.1 1148h0M720.1 1200.1h0M721.2 1228.7h0M722.2 1290.5h0M723.2 1318.8h0M724.3 1323.4h0M725.3 1382h0M726.3 1458.4h0M727.4 1467.8h0M728.4 1406.9h0M729.4 1362.7h0M730.4 1325.9h0M731.5 1244.3h0M732.5 1200.9h0M733.5 1174.1h0M734.6 1160.2h0M735.6 1133.2h0M736.6 1106.3h0M737.7 1100.8h0M738.7 1135.1h0M739.7 1177.4h0M740.8 1201.4h0M741.8 1230.6h0M742.8 1200.5h0M743.8 1150.2h0M744.9 1120.6h0M745.9 1111h0M746.9 1118h0M748 1106.9h0M749 1113.3h0M750 1131.1h0M751.1 1109.5h0M752.1 1106.7h0M753.1 1130.2h0M754.1 1105.9h0M755.2 1098.2h0M756.2 1113.5h0M757.2 1153.2h0M758.3 1172.4h0M759.3 1171.3h0M760.3 1141.9h0M761.4 1116.8h0M762.4 1083h0M763.4 1103.3h0M764.5 1131.6h0M765.5 1122h0M766.5 1130.1h0M767.5 1102.1h0M768.6 1115.4h0M769.6 1112.8h0M770.6 1131.8h0M771.7 1097.8h0M772.7 1134.1h0M773.7 1148.7h0M774.8 1157.2h0M775.8 1187.9h0M776.8 1213.3h0M777.8 1294h0M778.9 1350.4h0M779.9 1419h0M780.9 1464h0M782 1491.1h0M783 1511.7h0M784 1509.5h0M785.1 1509.6h0M786.1 1495.5h0M787.1 1488.4h0M788.2 1481.3h0M789.2 1472.2h0M790.2 1478h0M791.2 1477.9h0M792.3 1486.1h0M793.3 1486.9h0M794.3 1489.4h0M795.4 1493.3h0M796.4 1497.1h0M797.4 1494.6h0M798.5 1500.1h0M799.5 1497.6h0M800.5 1500.4h0M801.5 1502h0M802.6 1504h0M803.6 1504.1h0M804.6 1505.2h0M805.7 1504.6h0M806.7 1505.1h0M807.7 1505h0M808.8 1502.9h0M809.8 1503.9h0M810.8 1504.3h0M811.9 1503.8h0M812.9 1504.1h0M813.9 1504.7h0M814.9 1504.3h0M816 1504.5h0M817 1505.1h0M818 1503.8h0M819.1 1505.1h0M820.1 1504h0M821.1 1505.1h0M822.2 1504.2h0M823.2 1504h0M824.2 1504h0M825.2 1504.7h0M826.3 1504.2h0M827.3 1503.8h0M828.3 1505.2h0M829.4 1504.2h0M830.4 1504.7h0M831.4 1504.3h0M832.5 1504.4h0M833.5 1503.9h0M834.5 1503.9h0M835.6 1505h0M836.6 1504h0M837.6 1503.9h0M838.6 1504.6h0M839.7 1504.2h0M840.7 1504h0M841.7 1504.1h0M842.8 1504.1h0M843.8 1504h0M844.8 1504.2h0M845.9 1504.7h0M846.9 1504.8h0M847.9 1504.7h0M848.9 1503.9h0M850 1505.2h0M851 1504.3h0M852 1504.1h0M853.1 1504.8h0M854.1 1505h0M855.1 1504.7h0M856.2 1503.8h0M857.2 1504.4h0M858.2 1504.2h0M859.2 1505h0M860.3 1503.8h0M861.3 1505h0M862.3 1505h0M863.4 1504.6h0M864.4 1505.2h0M865.4 1503.8h0M866.5 1504.6h0M867.5 1504.8h0M868.5 1504.9h0M869.6 1503.8h0M870.6 1503.9h0M871.6 1504.3h0M872.6 1504.6h0M873.7 1504.3h0M874.7 1504.7h0M875.7 1504.4h0M876.8 1504.8h0M877.8 1503.7h0M878.8 1503.9h0M879.9 1505h0M880.9 1504.1h0M881.9 1504.4h0M882.9 1504.3h0M884 1505.1h0M885 1505.1h0M886 1505.1h0M887.1 1504.2h0M888.1 1504.1h0M889.1 1504h0M890.2 1503.9h0M891.2 1504.6h0M892.2 1504.2h0M893.3 1503.9h0M894.3 1502.5h0M895.3 1506.4h0M896.3 1509h0M897.4 1503.5h0M898.4 1452.7h0M899.4 1441.8h0M900.5 1471.1h0M901.5 1505.3h0M902.5 1508.5h0M903.6 1498.9h0M904.6 1501.4h0M905.6 1499.3h0M906.6 1500.4h0M907.7 1499.4h0M908.7 1496.1h0M909.7 1498.9h0M910.8 1495.4h0M911.8 1493.5h0M912.8 1495h0M913.9 1492.5h0M914.9 1494.8h0M915.9 1493.2h0M917 1491.1h0M918 1491.7h0M919 1490.9h0M920 1489.9h0M921.1 1489.6h0M922.1 1488.3h0M923.1 1490.1h0M924.2 1488.2h0M925.2 1485.9h0M926.2 1488.4h0M927.3 1488.5h0M928.3 1484.6h0M929.3 1484.2h0M930.3 1482.9h0M931.4 1485h0M932.4 1483.7h0M933.4 1482.5h0M934.5 1483.6h0M935.5 1481.1h0M936.5 1480.4h0M937.6 1484.1h0M938.6 1485.7h0M939.6 1486.2h0M940.7 1486.2h0M941.7 1485.9h0M942.7 1490.8h0M943.7 1489.3h0M944.8 1489.6h0M945.8 1490.3h0M946.8 1490.3h0M947.9 1490.7h0M948.9 1491.4h0M949.9 1490.9h0M951 1489.9h0M952 1489.7h0M953 1490.7h0M954 1489.9h0M955.1 1489.9h0M956.1 1489.6h0M957.1 1491.4h0M958.2 1489.5h0M959.2 1501.2h0M960.2 1490h0M961.3 1484.1h0M962.3 1488.9h0M963.3 1484.8h0M964.4 1486.8h0M965.4 1488.4h0M966.4 1486.7h0M967.4 1483.9h0M968.5 1483.9h0M969.5 1482.6h0M970.5 1481.3h0M971.6 1479.9h0M972.6 1476.2h0M973.6 1473.2h0M974.7 1472.9h0M975.7 1466h0M976.7 1460.6h0M977.7 1459.3h0M978.8 1455.5h0M979.8 1473.1h0M980.8 1491h0M981.9 1492.8h0M982.9 1480.1h0M983.9 1483h0M985 1477.8h0M986 1476.5h0M987 1473.3h0M988 1468.3h0M989.1 1471.1h0M990.1 1464.9h0M991.1 1464.2h0M992.2 1464.4h0M993.2 1460h0M994.2 1459.6h0M995.3 1437h0M996.3 1427.3h0M997.3 1427.4h0M998.4 1409.4h0M999.4 1410.9h0M1000.4 1391.9h0M1001.4 1364.8h0M1002.5 1353.7h0M1003.5 1303.2h0M1004.5 1318.7h0M1005.6 1297.2h0M1006.6 1340.4h0M1007.6 1306.1h0M1008.7 1330.2h0M1009.7 1304.9h0M1010.7 1331.7h0M1011.7 1298.1h0M1012.8 1349.5h0M1013.8 1314.2h0M1014.8 1313.5h0M1015.9 1306.6h0M1016.9 1282.3h0M1017.9 1279.8h0M1019 1263.6h0M1020 1262.3h0M1021 1237h0M1022.1 1218.6h0M1023.1 1208h0M1024.1 1180.2h0M1025.1 1144.4h0M1026.2 1145.2h0M1027.2 1133.6h0M1028.2 1152.5h0M1029.3 1134.3h0M1030.3 1152.8h0M1031.3 1135.7h0M1032.4 1142h0M1033.4 1130.5h0M1034.4 1145.6h0M1035.4 1129.9h0M1036.5 1135.9h0M1037.5 1120.8h0M1038.5 1140.3h0M1039.6 1146h0M1040.6 1134.3h0M1041.6 1141.7h0M1042.7 1119.5h0M1043.7 1109.3h0M1044.7 1098.9h0M1045.8 1098.2h0M1046.8 1084h0M1047.8 1089.8h0M1048.8 1085.2h0M1049.9 1074.9h0M1050.9 1055.2h0M1051.9 1040.5h0M1053 1039.9h0M1054 1023.6h0M1055 1034.4h0M1056.1 1026.3h0M1057.1 1056.3h0M1058.1 1092.3h0M1059.1 1063h0M1060.2 1043.9h0M1061.2 1037.4h0M1062.2 1042.8h0M1063.3 1054.8h0M1064.3 1058.3h0M1065.3 1079.5h0M1066.4 1111.6h0M1067.4 1137.4h0M1068.4 1145.2h0M1069.5 1078.8h0M1070.5 1111.7h0M1071.5 1074.1h0M1072.5 1114.2h0M1073.6 1080.5h0M1074.6 1089.6h0M1075.6 1083.1h0M1076.7 1080.8h0M1077.7 1121.1h0M1078.7 1071.7h0M1079.8 1113.5h0M1080.8 1095.2h0M1081.8 1139.1h0M1082.8 1090.8h0M1083.9 1079.7h0M1084.9 1151.6h0M1085.9 1168.3h0M1087 1179h0M1088 1195.1h0M1089 1199h0M1090.1 1298.8h0M1091.1 1406.3h0M1092.1 1421.4h0M1093.2 1449.9h0M1094.2 1475.2h0M1095.2 1430.5h0M1096.2 1539.1h0M1097.3 1479.9h0M1098.3 1448.1h0M1099.3 1491.9h0M1100.4 1442.8h0M1101.4 1471.9h0M1102.4 1437h0M1103.5 1469.3h0M1104.5 1437.4h0M1105.5 1460.5h0M1106.5 1484.5h0M1107.6 1469.4h0M1108.6 1495.4h0M1109.6 1469.8h0M1110.7 1500.7h0M1111.7 1480.8h0M1112.7 1493.5h0M1113.8 1475.1h0M1114.8 1445.8h0M1115.8 1425.9h0M1116.8 1404.4h0M1117.9 1390.3h0M1118.9 1397.1h0M1119.9 1390.2h0M1121 1306.9h0M1122 1255h0M1123 1213.7h0M1124.1 1288.2h0M1125.1 1364.3h0M1126.1 1472.3h0M1127.2 1508h0M1128.2 1497.7h0M1129.2 1511.2h0M1130.2 1503.1h0M1131.3 1523.9h0M1132.3 1506.6h0M1133.3 1497.3h0M1134.4 1505.6h0M1135.4 1492.9h0M1136.4 1480.7h0M1137.5 1475.9h0M1138.5 1452.6h0M1139.5 1464.4h0M1140.5 1439h0M1141.6 1407.6h0M1142.6 1390.7h0M1143.6 1454h0M1144.7 1407.6h0M1145.7 1447.7h0M1146.7 1420.6h0M1147.8 1381.9h0M1148.8 1349.7h0M1149.8 1248.3h0M1150.9 1237.9h0M1151.9 1208.7h0M1152.9 1220.9h0M1153.9 1261.9h0M1155 1275.5h0M1156 1292.4h0M1157 1298.1h0M1158.1 1310.5h0M1159.1 1392.3h0M1160.1 1454.6h0M1161.2 1492.8h0M1162.2 1479.5h0M1163.2 1498.7h0M1164.2 1480.9h0M1165.3 1495.4h0M1166.3 1462.9h0M1167.3 1446h0M1168.4 1436.4h0M1169.4 1464.2h0M1170.4 1481.1h0M1171.5 1495.1h0M1172.5 1515.7h0M1173.5 1501.4h0M1174.6 1490h0M1175.6 1476.7h0M1176.6 1471.6h0M1177.6 1460.7h0M1178.7 1484.5h0M1179.7 1504.5h0M1180.7 1505.3h0M1181.8 1503.5h0M1182.8 1504.6h0M1183.8 1506.5h0M1184.9 1504.5h0M1185.9 1504.3h0M1186.9 1504.1h0M1187.9 1504.5h0M1189 1503.8h0M1190 1504h0M1191 1505h0M1192.1 1503.9h0M1193.1 1504.4h0M1194.1 1505.1h0M1195.2 1504.1h0M1196.2 1503.9h0M1197.2 1504h0M1198.3 1504.5h0M1199.3 1504.9h0M1200.3 1502h0M1201.3 1504.9h0M1202.4 1504.4h0M1203.4 1504.9h0M1204.4 1504h0M1205.5 1504.7h0M1206.5 1505.2h0M1207.5 1504.5h0M1208.6 1504.1h0M1209.6 1504.9h0M1210.6 1504.6h0M1211.6 1503.7h0M1212.7 1504.5h0M1213.7 1504.2h0M1214.7 1505.1h0M1215.8 1505h0M1216.8 1504.6h0M1217.8 1502.6h0M1218.9 1504.2h0M1219.9 1502.9h0M1220.9 1503.9h0M1222 1503.9h0M1223 1504.9h0M1224 1505.1h0M1225 1503.8h0M1226.1 1504.6h0M1227.1 1505.1h0M1228.1 1504.9h0M1229.2 1504.2h0M1230.2 1505h0M1231.2 1504.6h0M1232.3 1504.3h0M1233.3 1504.2h0M1234.3 1504.2h0M1235.3 1505.1h0M1236.4 1504.2h0M1237.4 1503.7h0M1238.4 1504h0M1239.5 1504.3h0M1240.5 1505.1h0M1241.5 1504.2h0M1242.6 1504h0M1243.6 1504.4h0M1244.6 1504.6h0M1245.6 1504h0M1246.7 1505.1h0M1247.7 1504h0M1248.7 1504.2h0M1249.8 1503.9h0M1250.8 1504.9h0M1251.8 1504h0M1252.9 1505.1h0M1253.9 1505h0M1254.9 1503.8h0M1256 1503.9h0M1257 1503.9h0M1258 1504.7h0M1259 1504.1h0M1260.1 1507.1h0M1261.1 1504.8h0M1262.1 1504.9h0M1263.2 1504.2h0M1264.2 1504.3h0M1265.2 1504.8h0M1266.3 1504.2h0M1267.3 1504.2h0M1268.3 1503.9h0M1269.3 1504.3h0M1270.4 1504h0M1271.4 1504h0" fill="none" stroke="#7A9AC1" stroke-width="8.0" stroke-linecap="round"/>
</g>
<rect x="138.7" y="938.2" width="1125.2" height="622.3" fill="none" stroke="#000" stroke-width="3"/>
<path d="M325.5 1560.5v-17M514.5 1560.5v-17M700.7 1560.5v-17M890.6 1560.5v-17M1078.7 1560.5v-17M231 1560.5v-8.5M419.5 1560.5v-8.5M605.7 1560.5v-8.5M794.3 1560.5v-8.5M982.8 1560.5v-8.5M1171.7 1560.5v-8.5M138.7 1504h17M138.7 1447.4h8.5M138.7 1390.8h17M138.7 1334.3h8.5M138.7 1277.7h17M138.7 1221.1h8.5M138.7 1164.5h17M138.7 1107.9h8.5M138.7 1051.4h17M138.7 994.8h8.5" fill="none" stroke="#000" stroke-width="2.8"/>
<text x="118.6" y="1513.5" text-anchor="end" class="tl">0</text>
<text x="118.6" y="1400.3" text-anchor="end" class="tl">20</text>
<text x="118.6" y="1287.2" text-anchor="end" class="tl">40</text>
<text x="118.6" y="1174" text-anchor="end" class="tl">60</text>
<text x="118.6" y="1060.9" text-anchor="end" class="tl">80</text>
<text x="118.6" y="947.7" text-anchor="end" class="tl">100</text>
<text x="137.2" y="1603.7" text-anchor="middle" class="tl">2018/01</text>
<text x="324" y="1603.7" text-anchor="middle" class="tl">2018/07</text>
<text x="513" y="1603.7" text-anchor="middle" class="tl">2019/01</text>
<text x="699.2" y="1603.7" text-anchor="middle" class="tl">2019/07</text>
<text x="889.1" y="1603.7" text-anchor="middle" class="tl">2020/01</text>
<text x="1077.2" y="1603.7" text-anchor="middle" class="tl">2020/07</text>
<text x="687.9" y="1654.8" text-anchor="middle" class="at">Time (Year/month/date)</text>
<text transform="translate(36.4 1278) rotate(-90)" text-anchor="middle" class="at">Failure probability (%)</text>
<clipPath id="cpc"><rect x="135.1" y="1770.9" width="1128.4" height="623.0999999999999"/></clipPath>
<g clip-path="url(#cpc)">
<marker id="mc" markerUnits="userSpaceOnUse" markerWidth="20" markerHeight="20" refX="10" refY="10" viewBox="0 0 20 20" overflow="visible"><path d="M10 5L15.6 14.1H4.4Z" fill="#fff" stroke="#000" stroke-width="1.4"/></marker>
<polyline points="134.9,2335.3 135.9,2335.4 137,2335 138,2335.5 139,2335 140.1,2335.2 141.1,2335.5 142.1,2335 143.2,2335.5 144.2,2335.1 145.2,2335.4 146.3,2335.4 147.3,2335.1 148.3,2334.7 149.4,2335.3 150.4,2335.2 151.4,2334.9 152.4,2334.6 153.5,2334.9 154.5,2335 155.5,2334.5 156.6,2335.4 157.6,2334.6 158.6,2335.1 159.7,2335.2 160.7,2335.3 161.7,2335.1 162.8,2334.6 163.8,2335.2 164.8,2334.8 165.9,2334.7 166.9,2335 167.9,2334.8 169,2335.2 170,2335.2 171,2335.1 172.1,2334.7 173.1,2334.8 174.1,2334.7 175.2,2334.4 176.2,2334.4 177.2,2334.4 178.3,2333.8 179.3,2333.7 180.3,2333.8 181.4,2333.1 182.4,2332.8 183.4,2331.7 184.5,2331.1 185.5,2330.8 186.5,2328.6 187.5,2327.9 188.6,2325.8 189.6,2322.9 190.6,2320.8 191.7,2315.9 192.7,2312.1 193.7,2304.7 194.8,2298.2 195.8,2294.8 196.8,2288.4 197.9,2287 198.9,2279.7 199.9,2275.5 201,2272.3 202,2269.9 203,2264.3 204.1,2260.6 205.1,2260.5 206.1,2256.3 207.2,2256.9 208.2,2249.7 209.2,2246.8 210.3,2241.8 211.3,2240.1 212.3,2241.1 213.4,2238.2 214.4,2234.8 215.4,2237.1 216.5,2233.8 217.5,2237.6 218.5,2239.9 219.5,2244.2 220.6,2243.8 221.6,2253.1 222.6,2257.8 223.7,2261.7 224.7,2263.5 225.7,2271.6 226.8,2272.4 227.8,2277.4 228.8,2282.1 229.9,2288.8 230.9,2293.6 231.9,2299.5 233,2298.4 234,2298.4 235,2293.2 236.1,2290.6 237.1,2292.9 238.1,2290.1 239.2,2287.1 240.2,2284.5 241.2,2280.3 242.3,2277 243.3,2276.4 244.3,2276 245.4,2271.8 246.4,2270.5 247.4,2267.7 248.5,2263.9 249.5,2264.1 250.5,2263.8 251.5,2261.7 252.6,2259.3 253.6,2261.1 254.6,2253.7 255.7,2251.1 256.7,2247.1 257.7,2233.4 258.8,2221.8 259.8,2216.1 260.8,2232.1 261.9,2240.1 262.9,2238 263.9,2221 265,2231.4 266,2248.7 267,2250.4 268.1,2232.4 269.1,2207.2 270.1,2186.5 271.2,2164.1 272.2,2139.8 273.2,2119.3 274.3,2091.4 275.3,2061.8 276.3,2042.1 277.4,2027.3 278.4,2022.2 279.4,2029.4 280.5,2025.3 281.5,2029.2 282.5,2031.2 283.6,2029.9 284.6,2014.5 285.6,2002.8 286.6,1977.8 287.7,1950.3 288.7,1930.9 289.7,1916.1 290.8,1900.4 291.8,1886 292.8,1872.9 293.9,1871 294.9,1869.4 295.9,1861.2 297,1859.9 298,1854.5 299,1854 300.1,1858.1 301.1,1862.6 302.1,1868.7 303.2,1870.8 304.2,1874.9 305.2,1874 306.3,1878.3 307.3,1879.6 308.3,1885.2 309.4,1888 310.4,1886.5 311.4,1887.5 312.5,1890.5 313.5,1892.9 314.5,1894.9 315.6,1897.5 316.6,1902.9 317.6,1903 318.6,1906 319.7,1910 320.7,1912 321.7,1912.9 322.8,1915.5 323.8,1915.2 324.8,1916.7 325.9,1923 326.9,1923.3 327.9,1966.1 329,2011.6 330,2053.8 331,2027.5 332.1,1999.1 333.1,1979.5 334.1,1977.7 335.2,1995.5 336.2,2051.6 337.2,2165.2 338.3,2209.9 339.3,2223 340.3,2250.4 341.4,2274.7 342.4,2278.4 343.4,2275.2 344.5,2256.2 345.5,2228 346.5,2201.4 347.6,2180.6 348.6,2145.7 349.6,2123 350.7,2097.5 351.7,2076.6 352.7,2061.5 353.7,2060.3 354.8,2071.1 355.8,2095.1 356.8,2133.7 357.9,2181 358.9,2209.1 359.9,2227.1 361,2250.3 362,2251.6 363,2230.4 364.1,2209.6 365.1,2194.6 366.1,2179.6 367.2,2155.7 368.2,2133.9 369.2,2109.7 370.3,2085.1 371.3,2072.9 372.3,2054.5 373.4,2040 374.4,2031.8 375.4,2011 376.5,1992.6 377.5,2004.9 378.5,2013.1 379.6,2015.7 380.6,2018.9 381.6,2018.7 382.7,2022.7 383.7,2023.2 384.7,2026.5 385.7,2023.2 386.8,2028.5 387.8,2029.8 388.8,2030.9 389.9,2033.4 390.9,2041 391.9,2057.1 393,2085.8 394,2107.7 395,2120.2 396.1,2126.1 397.1,2125.2 398.1,2135.3 399.2,2150.6 400.2,2178.5 401.2,2213.5 402.3,2245.1 403.3,2267.8 404.3,2291.5 405.4,2310.2 406.4,2327.5 407.4,2333.5 408.5,2334.4 409.5,2336.1 410.5,2335.9 411.6,2336.3 412.6,2336.4 413.6,2336.1 414.7,2336.3 415.7,2336.3 416.7,2336.1 417.8,2336 418.8,2336.4 419.8,2336.2 420.8,2336.3 421.9,2336.3 422.9,2336.2 423.9,2336.4 425,2336.3 426,2336.4 427,2336 428.1,2336.2 429.1,2336 430.1,2335.9 431.2,2336.6 432.2,2336.3 433.2,2335.9 434.3,2336 435.3,2336.7 436.3,2336.7 437.4,2336.4 438.4,2336.7 439.4,2336.6 440.5,2336.7 441.5,2336.2 442.5,2336.1 443.6,2336 444.6,2336.7 445.6,2336.2 446.7,2336.2 447.7,2336.7 448.7,2336 449.8,2335.9 450.8,2336.6 451.8,2335.9 452.8,2336.4 453.9,2336.4 454.9,2335.9 455.9,2336 457,2336.7 458,2336.4 459,2336.3 460.1,2336.5 461.1,2336.6 462.1,2336.5 463.2,2336.1 464.2,2336.8 465.2,2336.3 466.3,2336.4 467.3,2336.8 468.3,2336.5 469.4,2336.2 470.4,2336.3 471.4,2336.7 472.5,2335.9 473.5,2336.1 474.5,2335.9 475.6,2336.7 476.6,2336.6 477.6,2336.8 478.7,2336.1 479.7,2336.6 480.7,2336.7 481.8,2336.4 482.8,2336 483.8,2336.1 484.8,2336.6 485.9,2336.7 486.9,2336 487.9,2336.3 489,2336.2 490,2336.7 491,2336.8 492.1,2336.2 493.1,2336.4 494.1,2336.7 495.2,2336 496.2,2336.2 497.2,2336.1 498.3,2336.7 499.3,2336 500.3,2336.7 501.4,2336 502.4,2336.4 503.4,2336.5 504.5,2336.3 505.5,2336 506.5,2336.6 507.6,2336.7 508.6,2336.3 509.6,2336.6 510.7,2336.7 511.7,2336.7 512.7,2336.8 513.8,2336.6 514.8,2336.5 515.8,2336.5 516.9,2336.1 517.9,2336.4 518.9,2336.1 519.9,2336.2 521,2335.9 522,2336.1 523,2335.7 524.1,2335.8 525.1,2335 526.1,2335 527.2,2335.1 528.2,2334.7 529.2,2334.1 530.3,2334.7 531.3,2333.9 532.3,2334 533.4,2333.8 534.4,2333.5 535.4,2333.8 536.5,2333.7 537.5,2333.5 538.5,2333.2 539.6,2333.8 540.6,2333.3 541.6,2333.4 542.7,2333.4 543.7,2333.6 544.7,2333.6 545.8,2333.8 546.8,2333.7 547.8,2333.8 548.9,2333.1 549.9,2333.5 550.9,2333.6 551.9,2333.6 553,2332.5 554,2332.1 555,2331.9 556.1,2331.8 557.1,2331.5 558.1,2331 559.2,2330.4 560.2,2330.3 561.2,2329.6 562.3,2330.2 563.3,2330 564.3,2330.4 565.4,2331.2 566.4,2331.8 567.4,2331.4 568.5,2332.3 569.5,2332.5 570.5,2333.1 571.6,2332.8 572.6,2332.8 573.6,2332.8 574.7,2333.2 575.7,2332.9 576.7,2333.5 577.8,2333.3 578.8,2333.5 579.8,2333.3 580.9,2333.7 581.9,2333.6 582.9,2333.3 584,2333.4 585,2333 586,2333 587,2332.8 588.1,2332.8 589.1,2332.8 590.1,2332.2 591.2,2332.3 592.2,2332 593.2,2329.4 594.3,2327.9 595.3,2324.5 596.3,2321.6 597.4,2318.6 598.4,2314.2 599.4,2310.8 600.5,2307 601.5,2302.6 602.5,2298.4 603.6,2299.2 604.6,2293.4 605.6,2289 606.7,2282.4 607.7,2277 608.7,2271.2 609.8,2265 610.8,2255.5 611.8,2248.3 612.9,2239.7 613.9,2232.7 614.9,2224 616,2213.5 617,2202.2 618,2196.4 619,2184.5 620.1,2185.1 621.1,2183.5 622.1,2186.3 623.2,2188.8 624.2,2192.3 625.2,2197.6 626.3,2193.2 627.3,2194.1 628.3,2196.2 629.4,2194.8 630.4,2192.9 631.4,2195.5 632.5,2188.5 633.5,2188.7 634.5,2186.9 635.6,2182.1 636.6,2175.5 637.6,2174.8 638.7,2163 639.7,2147.4 640.7,2135.6 641.8,2117.6 642.8,2098.4 643.8,2090.8 644.9,2093.4 645.9,2097.5 646.9,2095.6 648,2097.5 649,2096.5 650,2095.2 651,2075.8 652.1,2055.8 653.1,2031.5 654.1,2018 655.2,2003 656.2,1987.5 657.2,1972.6 658.3,1957.7 659.3,1949.3 660.3,1944.4 661.4,1931.6 662.4,1922.6 663.4,1913.3 664.5,1906.9 665.5,1894.2 666.5,1891.7 667.6,1879.5 668.6,1872.4 669.6,1870.2 670.7,1860.1 671.7,1851 672.7,1852.9 673.8,1859 674.8,1862.8 675.8,1865.9 676.9,1864 677.9,1871.2 678.9,1872 680,1877.9 681,1878.6 682,1879.1 683.1,1887.3 684.1,1886.1 685.1,1890 686.1,1889.5 687.2,1892.5 688.2,1931.1 689.2,1895.3 690.3,1899.7 691.3,1904.4 692.3,1906.4 693.4,1905.2 694.4,1949 695.4,1909.7 696.5,1912.2 697.5,1912.3 698.5,1913.9 699.6,1912.1 700.6,1951.8 701.6,1915.4 702.7,1916.4 703.7,1922.4 704.7,1918.9 705.8,1922.1 706.8,1922.8 707.8,1928.5 708.9,1953.5 709.9,1931.3 710.9,1929.4 712,1933.9 713,1937.2 714,1938.7 715.1,1941.6 716.1,1944.7 717.1,1946.1 718.1,1967 719.2,2003.9 720.2,2062.7 721.2,2108.3 722.3,2126.9 723.3,2156.5 724.3,2212.3 725.4,2255.3 726.4,2257.9 727.4,2208 728.5,2167.1 729.5,2099.7 730.5,2074.7 731.6,2050.7 732.6,2014.7 733.6,1984.7 734.7,1971.9 735.7,1953.5 736.7,1938.3 737.8,1950.5 738.8,1985.2 739.8,2036.1 740.9,2009.9 741.9,1981.2 742.9,1965.8 744,1946.6 745,1941.2 746,1935.3 747.1,1932.2 748.1,1930.5 749.1,1934.6 750.2,1931.9 751.2,1938.1 752.2,1940.4 753.2,1972 754.3,1998.4 755.3,1971.2 756.3,1942.6 757.4,1935.4 758.4,1935.1 759.4,1937.7 760.5,1934.3 761.5,1934.6 762.5,1938.8 763.6,1944.4 764.6,1947.6 765.6,1951.8 766.7,1959.9 767.7,1963.9 768.7,1965.4 769.8,1967.8 770.8,1970.9 771.8,1983.7 772.9,2012.9 773.9,2082.3 774.9,2140.7 776,2193.8 777,2265.5 778,2312.4 779.1,2329.4 780.1,2332 781.1,2330.8 782.2,2331 783.2,2330.1 784.2,2329.6 785.2,2329 786.3,2329.2 787.3,2330 788.3,2330.7 789.4,2331.3 790.4,2332 791.4,2332.3 792.5,2333.1 793.5,2333.7 794.5,2334.8 795.6,2335.2 796.6,2334.9 797.6,2335 798.7,2335.7 799.7,2335.9 800.7,2336.8 801.8,2336.4 802.8,2336 803.8,2336.1 804.9,2336 805.9,2335.9 806.9,2336.6 808,2336.7 809,2336.7 810,2336.3 811.1,2336.2 812.1,2336 813.1,2336.1 814.2,2336.2 815.2,2336.1 816.2,2336.4 817.3,2336.3 818.3,2336.8 819.3,2336.1 820.3,2336.6 821.4,2336 822.4,2336.2 823.4,2336.5 824.5,2336.7 825.5,2336.6 826.5,2336.2 827.6,2336.2 828.6,2336.7 829.6,2336.7 830.7,2336.3 831.7,2336.3 832.7,2336.5 833.8,2336.6 834.8,2336.3 835.8,2336.8 836.9,2336.5 837.9,2336.4 838.9,2335.9 840,2336.2 841,2336 842,2336.4 843.1,2336.6 844.1,2336.6 845.1,2335.9 846.2,2336.2 847.2,2336.5 848.2,2336.8 849.3,2336.4 850.3,2336.2 851.3,2336.4 852.3,2336.6 853.4,2336.2 854.4,2336 855.4,2336.6 856.5,2336.8 857.5,2336.5 858.5,2336.4 859.6,2336.2 860.6,2336.6 861.6,2336.1 862.7,2336.1 863.7,2336.3 864.7,2336.6 865.8,2335.9 866.8,2336.5 867.8,2336.1 868.9,2336.6 869.9,2336.6 870.9,2336.1 872,2336.5 873,2335.9 874,2336.4 875.1,2336.6 876.1,2336.6 877.1,2336.4 878.2,2336.2 879.2,2335.9 880.2,2336.7 881.3,2336.4 882.3,2336.6 883.3,2335.9 884.3,2336.7 885.4,2336.8 886.4,2336.7 887.4,2336.4 888.5,2336 889.5,2336 890.5,2336.1 891.6,2335.9 892.6,2336 893.6,2336.5 894.7,2336.4 895.7,2335.5 896.7,2335.4 897.8,2335.8 898.8,2335 899.8,2335 900.9,2334.8 901.9,2334.4 902.9,2334 904,2333.7 905,2333 906,2332.5 907.1,2331.5 908.1,2331.8 909.1,2330.6 910.2,2330.8 911.2,2330.3 912.2,2329.3 913.3,2328.8 914.3,2328.6 915.3,2328.3 916.4,2327.3 917.4,2326.8 918.4,2325.6 919.4,2325.7 920.5,2325 921.5,2323.9 922.5,2324.2 923.6,2323.3 924.6,2322.4 925.6,2321.9 926.7,2322 927.7,2321.5 928.7,2321.1 929.8,2319.9 930.8,2320.2 931.8,2319.4 932.9,2318.9 933.9,2319 934.9,2320.2 936,2320.6 937,2322 938,2323.4 939.1,2324.2 940.1,2325.8 941.1,2327 942.2,2327.1 943.2,2326.3 944.2,2326 945.3,2326.1 946.3,2325.7 947.3,2325.9 948.4,2325.1 949.4,2324.3 950.4,2323.3 951.4,2322.7 952.5,2322.6 953.5,2322.4 954.5,2321.8 955.6,2321.4 956.6,2320.7 957.6,2321 958.7,2320.1 959.7,2319.7 960.7,2319.3 961.8,2318.8 962.8,2318.3 963.8,2318 964.9,2317.5 965.9,2316.8 966.9,2315.3 968,2314.7 969,2313.7 970,2311.7 971.1,2310.6 972.1,2311.6 973.1,2309.5 974.2,2304 975.2,2304.3 976.2,2299.1 977.3,2302.5 978.3,2304.7 979.3,2310.8 980.4,2313.8 981.4,2314.3 982.4,2314.5 983.5,2314.1 984.5,2314 985.5,2313.9 986.5,2313.5 987.6,2312.7 988.6,2312.1 989.6,2311.5 990.7,2310.8 991.7,2302.2 992.7,2294.3 993.8,2279 994.8,2270.5 995.8,2260.3 996.9,2244.6 997.9,2236.6 998.9,2225.8 1000,2214.2 1001,2191.5 1002,2175.1 1003.1,2164.9 1004.1,2164 1005.1,2162.7 1006.2,2165.1 1007.2,2164.2 1008.2,2170.1 1009.3,2174.6 1010.3,2165.4 1011.3,2160.7 1012.4,2150.1 1013.4,2147.1 1014.4,2139.2 1015.5,2131.3 1016.5,2127.2 1017.5,2116.6 1018.5,2111.8 1019.6,2097.2 1020.6,2084.7 1021.6,2062.8 1022.7,2045.4 1023.7,2035.4 1024.7,2023.1 1025.8,2009.5 1026.8,1990 1027.8,1990.9 1028.9,1990.4 1029.9,1985.8 1030.9,1983.3 1032,1987.1 1033,1982.7 1034,1983.2 1035.1,1986.4 1036.1,1986.2 1037.1,1988.3 1038.2,1987.2 1039.2,1986.1 1040.2,1983.2 1041.3,1978.4 1042.3,1976.6 1043.3,1972.1 1044.4,1964.5 1045.4,1953.8 1046.4,1936 1047.5,1918.7 1048.5,1900.2 1049.5,1884.6 1050.6,1875.4 1051.6,1872.2 1052.6,1865.7 1053.6,1867.8 1054.7,1871.1 1055.7,1874.8 1056.7,1881.3 1057.8,1884 1058.8,1883.3 1059.8,1887.7 1060.9,1891.2 1061.9,1893.9 1062.9,1935.1 1064,1900.1 1065,1954.5 1066,1910.5 1067.1,1971.9 1068.1,1917 1069.1,1924.1 1070.2,1936 1071.2,1990.2 1072.2,1950.7 1073.3,1958.2 1074.3,1963.7 1075.3,1960.4 1076.4,1965.6 1077.4,2006.8 1078.4,2037.6 1079.5,2040.3 1080.5,2051.5 1081.5,2057.6 1082.6,2062.7 1083.6,2065.1 1084.6,2070.2 1085.6,2079.8 1086.7,2085.5 1087.7,2168.2 1088.7,2240.6 1089.8,2264.7 1090.8,2308.3 1091.8,2332.6 1092.9,2338 1093.9,2337.9 1094.9,2339 1096,2338.6 1097,2338.3 1098,2338.2 1099.1,2338.9 1100.1,2339 1101.1,2337.8 1102.2,2337.4 1103.2,2337.5 1104.2,2336 1105.3,2333.3 1106.3,2331.9 1107.3,2325 1108.4,2318 1109.4,2302.3 1110.4,2289.5 1111.5,2269.2 1112.5,2260.2 1113.5,2247.2 1114.6,2221.8 1115.6,2185.6 1116.6,2169.3 1117.6,2152.1 1118.7,2132.3 1119.7,2116.2 1120.7,2101.2 1121.8,2124.4 1122.8,2168.9 1123.8,2211.2 1124.9,2252 1125.9,2290.2 1126.9,2321.7 1128,2337.2 1129,2339.6 1130,2338.9 1131.1,2339.5 1132.1,2339.1 1133.1,2336.9 1134.2,2334.5 1135.2,2320.1 1136.2,2306.6 1137.3,2291.4 1138.3,2277.6 1139.3,2273.6 1140.4,2272.4 1141.4,2271 1142.4,2272.2 1143.5,2264.3 1144.5,2260.8 1145.5,2214.3 1146.6,2157.2 1147.6,2117.4 1148.6,2084.9 1149.7,2081.5 1150.7,2077.4 1151.7,2085.9 1152.7,2094.3 1153.8,2105.4 1154.8,2117.8 1155.8,2133.7 1156.9,2146.3 1157.9,2161.7 1158.9,2203.3 1160,2262.2 1161,2296.1 1162,2298.7 1163.1,2294.7 1164.1,2291.8 1165.1,2284.2 1166.2,2280.2 1167.2,2289.1 1168.2,2302.1 1169.3,2312 1170.3,2331.4 1171.3,2335.6 1172.4,2335.8 1173.4,2336.6 1174.4,2335.9 1175.5,2336.4 1176.5,2335.9 1177.5,2336 1178.6,2336.7 1179.6,2336.1 1180.6,2336 1181.7,2336.7 1182.7,2336.5 1183.7,2336.1 1184.7,2336.7 1185.8,2336 1186.8,2336.6 1187.8,2336.1 1188.9,2336.7 1189.9,2336.3 1190.9,2336 1192,2336.6 1193,2336.6 1194,2336.3 1195.1,2336.5 1196.1,2336.8 1197.1,2336.6 1198.2,2336.7 1199.2,2336 1200.2,2336.2 1201.3,2336 1202.3,2336.7 1203.3,2336.1 1204.4,2336.7 1205.4,2336.3 1206.4,2336.2 1207.5,2336.5 1208.5,2336 1209.5,2336.3 1210.6,2336.3 1211.6,2336 1212.6,2336.7 1213.7,2335.9 1214.7,2336.2 1215.7,2336.4 1216.8,2336.1 1217.8,2336.6 1218.8,2335.9 1219.8,2336.3 1220.9,2336.5 1221.9,2336.1 1222.9,2336.4 1224,2336.6 1225,2336.1 1226,2336.8 1227.1,2336.1 1228.1,2336.6 1229.1,2336.2 1230.2,2335.9 1231.2,2336.3 1232.2,2336.2 1233.3,2336.5 1234.3,2336.8 1235.3,2336.8 1236.4,2336.7 1237.4,2336.2 1238.4,2336.4 1239.5,2336.3 1240.5,2336 1241.5,2336.7 1242.6,2336.6 1243.6,2336.2 1244.6,2336.8 1245.7,2336.8 1246.7,2336.5 1247.7,2336.7 1248.8,2336.5 1249.8,2336.6 1250.8,2336.3 1251.8,2336.3 1252.9,2336.6 1253.9,2336.2 1254.9,2336.4 1256,2336.7 1257,2336 1258,2336.6 1259.1,2336.7 1260.1,2336.7 1261.1,2336.2 1262.2,2336 1263.2,2336.1 1264.2,2336.4 1265.3,2336.6 1266.3,2336.8 1267.3,2336.2 1268.4,2336.3 1269.4,2336.5" fill="none" stroke="none" marker-start="url(#mc)" marker-mid="url(#mc)" marker-end="url(#mc)"/>
<path d="M134.9 2336.2L135.9 2335.9L137 2336.1L138 2335.7L139 2336.1L140.1 2336.3L141.1 2336.3L142.1 2335.6L143.2 2336.6L144.2 2336.3L145.2 2336.1L146.3 2336.4L147.3 2335.6L148.3 2336L149.4 2336.9L150.4 2336.6L151.4 2335.6L152.4 2336.8L153.5 2336.6L154.5 2336.9L155.5 2336.5L156.6 2336.7L157.6 2336.9L158.6 2335.8L159.7 2336.7L160.7 2336.7L161.7 2336.8L162.8 2336.6L163.8 2335.9L164.8 2336.2L165.9 2336.1L166.9 2336.4L167.9 2336.1L169 2335.7L170 2335.6L171 2336.2L172.1 2335.5L173.1 2336.7L174.1 2338.2L175.2 2335.5L176.2 2335.5L177.2 2335L178.3 2334.1L179.3 2335.2L180.3 2335.2L181.4 2336.3L182.4 2334.7L183.4 2335.4L184.5 2333.8L185.5 2332.7L186.5 2331.8L187.5 2330.2L188.6 2330.2L189.6 2324.9L190.6 2324.2L191.7 2326.9L192.7 2320.5L193.7 2321L194.8 2307L195.8 2313.8L196.8 2295.2L197.9 2293.1L198.9 2291.5L199.9 2280.6L201 2280.3L202 2283.7L203 2269.7L204.1 2272.2L205.1 2264.1L206.1 2262.1L207.2 2265.5L208.2 2263.5L209.2 2260.5L210.3 2249.9L211.3 2246.7L212.3 2249L213.4 2248.6L214.4 2243.5L215.4 2228L216.5 2223.7L217.5 2219.4L218.5 2225.2L219.5 2219.3L220.6 2235.4L221.6 2228L222.6 2234.2L223.7 2256.1L224.7 2240.9L225.7 2252.8L226.8 2261.3L227.8 2271.1L228.8 2257.5L229.9 2280.1L230.9 2264.9L231.9 2296.5L233 2282.6L234 2286.5L235 2307L236.1 2305.1L237.1 2301.1L238.1 2295.7L239.2 2303.2L240.2 2288.7L241.2 2299.7L242.3 2277.4L243.3 2289.6L244.3 2288.5L245.4 2293.7L246.4 2278.5L247.4 2278.7L248.5 2284.3L249.5 2270.9L250.5 2289.2L251.5 2267.6L252.6 2266.4L253.6 2262.9L254.6 2273.7L255.7 2260.6L256.7 2282.5L257.7 2270.3L258.8 2211.8L259.8 2245.1L260.8 2196L261.9 2257.7L262.9 2209.1L263.9 2242.4L265 2223.8L266 2204L267 2250.3L268.1 2196.3L269.1 2205.2L270.1 2169.2L271.2 2147.8L272.2 2106.4L273.2 2073.9L274.3 2048.5L275.3 2043.3L276.3 1995L277.4 1993.5L278.4 2017L279.4 1985.4L280.5 1986L281.5 2011.5L282.5 1993.2L283.6 2010.5L284.6 2000.7L285.6 1988.7L286.6 1983.9L287.7 1978L288.7 1942.6L289.7 1925L290.8 1903.7L291.8 1895.8L292.8 1891.8L293.9 1880.1L294.9 1883.5L295.9 1880.1L297 1878.1L298 1876.6L299 1875.1L300.1 1874.6L301.1 1876.4L302.1 1889.4L303.2 1886.9L304.2 1895.5L305.2 1885.4L306.3 1891.5L307.3 1901.9L308.3 1896.7L309.4 1907.3L310.4 1905.2L311.4 1909.4L312.5 1904.7L313.5 1917.6L314.5 1908.6L315.6 1920.9L316.6 1926.3L317.6 1913.9L318.6 1926.2L319.7 1918.7L320.7 1920.9L321.7 1933.8L322.8 1926.9L323.8 1937.2L324.8 1958.1L325.9 2026.3L326.9 2127.2L327.9 2085.2L329 2029.4L330 2014.5L331 1992.1L332.1 1986.2L333.1 1964.3L334.1 1974.1L335.2 2048.5L336.2 2117.5L337.2 2201.8L338.3 2312.3L339.3 2280.2L340.3 2225.6L341.4 2263.5L342.4 2269.1L343.4 2208.9L344.5 2250.9L345.5 2207.5L346.5 2144.2L347.6 2098.7L348.6 2048.1L349.6 2043.6L350.7 2065.5L351.7 2046.1L352.7 2065.8L353.7 2046.8L354.8 2049.3L355.8 2069.4L356.8 2036.6L357.9 2120L358.9 2201.3L359.9 2270.7L361 2321.9L362 2258.7L363 2199.1L364.1 2056.3L365.1 2108.4L366.1 2102.4L367.2 2120.1L368.2 2051L369.2 2115.2L370.3 2077.8L371.3 2117L372.3 2066.8L373.4 2101.4L374.4 2045.4L375.4 2107.3L376.5 2065.7L377.5 2108.7L378.5 1968.5L379.6 2026.7L380.6 2058.8L381.6 2042.4L382.7 2065.8L383.7 2031.6L384.7 2070.6L385.7 2023.4L386.8 2064.4L387.8 2034.6L388.8 2035.6L389.9 2059.7L390.9 2038.5L391.9 2055.1L393 2115.2L394 2089.4L395 2122.1L396.1 2093.9L397.1 2120.5L398.1 2113L399.2 2132.5L400.2 2176.9L401.2 2221.6L402.3 2259.8L403.3 2284.9L404.3 2300.2L405.4 2317.7L406.4 2333L407.4 2338.7L408.5 2333.4L409.5 2338.1L410.5 2336.6L411.6 2337.5L412.6 2337.5L413.6 2337.9L414.7 2338L415.7 2337L416.7 2337L417.8 2337.5L418.8 2337.2L419.8 2337.1L420.8 2336.7L421.9 2336.8L422.9 2337.5L423.9 2337.6L425 2336.8L426 2336.8L427 2337.4L428.1 2337.2L429.1 2337.6L430.1 2337L431.2 2337.8L432.2 2337.9L433.2 2336.9L434.3 2338.7L435.3 2337.3L436.3 2337.4L437.4 2337.6L438.4 2339.1L439.4 2337.6L440.5 2337.8L441.5 2336.6L442.5 2337.5L443.6 2337.1L444.6 2337.3L445.6 2338L446.7 2337.5L447.7 2337.6L448.7 2337.8L449.8 2337.6L450.8 2338.1L451.8 2337.4L452.8 2337.8L453.9 2336.7L454.9 2337.5L455.9 2337.4L457 2337.5L458 2337L459 2336.7L460.1 2337.1L461.1 2336.7L462.1 2336.8L463.2 2337.5L464.2 2337.9L465.2 2337.6L466.3 2337.8L467.3 2337.7L468.3 2336.9L469.4 2337.8L470.4 2338L471.4 2337.9L472.5 2337.3L473.5 2337.1L474.5 2336.8L475.6 2337.8L476.6 2336.8L477.6 2337.2L478.7 2336.9L479.7 2337.8L480.7 2336.8L481.8 2338.7L482.8 2336.8L483.8 2336.9L484.8 2337.8L485.9 2337.5L486.9 2337L487.9 2336.8L489 2336.8L490 2337.3L491 2337.9L492.1 2336.6L493.1 2337L494.1 2337.7L495.2 2337L496.2 2336.6L497.2 2336.2L498.3 2337.2L499.3 2338L500.3 2336.9L501.4 2337.9L502.4 2337.4L503.4 2336.6L504.5 2338.1L505.5 2337.9L506.5 2337.3L507.6 2336.8L508.6 2337.9L509.6 2337L510.7 2337L511.7 2337.5L512.7 2337.6L513.8 2337.5L514.8 2338L515.8 2337.2L516.9 2336.7L517.9 2336.4L518.9 2337.3L519.9 2337.2L521 2337.7L522 2339.3L523 2336.8L524.1 2335.7L525.1 2335.5L526.1 2336.4L527.2 2335.2L528.2 2336.5L529.2 2335.2L530.3 2336.1L531.3 2335.5L532.3 2334.7L533.4 2335.4L534.4 2334.6L535.4 2334L536.5 2335.3L537.5 2334.3L538.5 2335.4L539.6 2334.4L540.6 2334.2L541.6 2335.3L542.7 2333.8L543.7 2334.1L544.7 2334.6L545.8 2334.3L546.8 2334.5L547.8 2333.7L548.9 2333.7L549.9 2334.2L550.9 2334.5L551.9 2334.7L553 2334.1L554 2334.1L555 2333.8L556.1 2332.8L557.1 2332.8L558.1 2331.1L559.2 2332.4L560.2 2331.6L561.2 2331L562.3 2331.3L563.3 2330.7L564.3 2332.3L565.4 2332.1L566.4 2332.1L567.4 2332.5L568.5 2333.8L569.5 2333.5L570.5 2333.4L571.6 2334.5L572.6 2332.5L573.6 2334.3L574.7 2334.7L575.7 2334L576.7 2333.5L577.8 2333.4L578.8 2333.4L579.8 2333.9L580.9 2334L581.9 2334.9L582.9 2334.9L584 2333.8L585 2333.9L586 2333.5L587 2333.7L588.1 2334.8L589.1 2334.4L590.1 2333.2L591.2 2331.9L592.2 2331.8L593.2 2331L594.3 2331.1L595.3 2331.3L596.3 2329.9L597.4 2328.3L598.4 2327.7L599.4 2322.4L600.5 2321.5L601.5 2309.2L602.5 2311L603.6 2303.8L604.6 2298.3L605.6 2304.4L606.7 2293.7L607.7 2287.7L608.7 2288.2L609.8 2271.8L610.8 2266.2L611.8 2263.1L612.9 2254.6L613.9 2241.7L614.9 2243.2L616 2221.2L617 2216.5L618 2209.8L619 2202L620.1 2189.4L621.1 2163.3L622.1 2180L623.2 2194.9L624.2 2169.8L625.2 2164.5L626.3 2181.7L627.3 2194.5L628.3 2190.1L629.4 2166.4L630.4 2179L631.4 2175.3L632.5 2180L633.5 2179.2L634.5 2179.1L635.6 2186.8L636.6 2187.5L637.6 2195L638.7 2175.5L639.7 2178.4L640.7 2148.2L641.8 2108.1L642.8 2118.9L643.8 2096L644.9 2119.1L645.9 2080.4L646.9 2084.4L648 2075.8L649 2094.9L650 2090.6L651 2089.3L652.1 2054.1L653.1 2029L654.1 2007.7L655.2 1992.9L656.2 1986.8L657.2 1965.7L658.3 1962.6L659.3 1964.7L660.3 1938.7L661.4 1940L662.4 1927.9L663.4 1915.9L664.5 1903.8L665.5 1907.4L666.5 1898.5L667.6 1891L668.6 1885.3L669.6 1885.4L670.7 1882L671.7 1878.7L672.7 1882.3L673.8 1879.2L674.8 1877.9L675.8 1893.9L676.9 1884.5L677.9 1882.8L678.9 1888.2L680 1887.7L681 1901.7L682 1904.8L683.1 1892.8L684.1 1905.2L685.1 1898.9L686.1 1895.3L687.2 1901.4L688.2 1913.7L689.2 1907.4L690.3 1954.9L691.3 1907.9L692.3 1920.9L693.4 1922.1L694.4 1907.9L695.4 1924.7L696.5 1920.8L697.5 1914.4L698.5 1924.5L699.6 1917.5L700.6 1923.9L701.6 1935.4L702.7 1920.9L703.7 1937.5L704.7 1935.4L705.8 1936.2L706.8 1933.9L707.8 1945.9L708.9 1933.3L709.9 1946.4L710.9 1946.2L712 1962L713 1992.5L714 1965.7L715.1 1948.8L716.1 1989.3L717.1 2048L718.1 2063.7L719.2 2141.7L720.2 2151.3L721.2 2180.4L722.3 2227.7L723.3 2231.9L724.3 2265.8L725.4 2293L726.4 2237.7L727.4 2158.9L728.5 2104.1L729.5 2077.7L730.5 2035.9L731.6 2007L732.6 1990.8L733.6 1977.4L734.7 1959.8L735.7 1950.9L736.7 1931.5L737.8 1961.5L738.8 1990.4L739.8 2011.1L740.9 2076.2L741.9 2024.9L742.9 1980.2L744 1955.8L745 1948.6L746 1944.9L747.1 1933.7L748.1 1959L749.1 1937L750.2 1955.4L751.2 1935.4L752.2 1958.5L753.2 1930.6L754.3 1967.2L755.3 1947.9L756.3 1950.3L757.4 1985.5L758.4 2022.2L759.4 1984.8L760.5 1954.2L761.5 1948.9L762.5 1937L763.6 1941.2L764.6 1949.6L765.6 1953.5L766.7 1955.3L767.7 1954.3L768.7 1964.1L769.8 1969.2L770.8 1973.8L771.8 1980.4L772.9 1994.4L773.9 2010.3L774.9 2047.6L776 2103.6L777 2150.5L778 2185.6L779.1 2278.2L780.1 2330.9L781.1 2331.3L782.2 2330.4L783.2 2328.7L784.2 2327.5L785.2 2326.8L786.3 2325.9L787.3 2326.5L788.3 2328.9L789.4 2328.3L790.4 2327.7L791.4 2332.4L792.5 2333.3L793.5 2335L794.5 2332.6L795.6 2336.3L796.6 2335.7L797.6 2336.9L798.7 2335.4L799.7 2337.5L800.7 2336.5L801.8 2336.3L802.8 2337L803.8 2337.4L804.9 2337.3L805.9 2336.5L806.9 2336.4L808 2336.6L809 2336.5L810 2336.9L811.1 2338.3L812.1 2337.2L813.1 2336.3L814.2 2336.2L815.2 2336.9L816.2 2337.1L817.3 2337.5L818.3 2336.3L819.3 2337.4L820.3 2334.8L821.4 2337.5L822.4 2336.5L823.4 2337L824.5 2336.8L825.5 2337.4L826.5 2336.6L827.6 2336.5L828.6 2336.5L829.6 2335.2L830.7 2337.5L831.7 2337.5L832.7 2336.4L833.8 2336.6L834.8 2337.1L835.8 2337.1L836.9 2336.6L837.9 2336.2L838.9 2339.1L840 2336.1L841 2337L842 2337.4L843.1 2336.3L844.1 2337.5L845.1 2336.2L846.2 2336.5L847.2 2336.4L848.2 2336.7L849.3 2336.5L850.3 2337.4L851.3 2336.7L852.3 2337.1L853.4 2336.7L854.4 2337.3L855.4 2337.1L856.5 2336.9L857.5 2337.1L858.5 2336.1L859.6 2336.4L860.6 2336.9L861.6 2336.9L862.7 2337L863.7 2336.5L864.7 2336.9L865.8 2336.9L866.8 2336.6L867.8 2336.7L868.9 2337.3L869.9 2336.4L870.9 2337.5L872 2336.4L873 2336.1L874 2337.3L875.1 2337.5L876.1 2336.9L877.1 2336.8L878.2 2337L879.2 2336.3L880.2 2336.7L881.3 2336.7L882.3 2337.3L883.3 2336.3L884.3 2337L885.4 2336.6L886.4 2336.4L887.4 2336.5L888.5 2337.3L889.5 2336.9L890.5 2336.9L891.6 2336.4L892.6 2336.5L893.6 2337.2L894.7 2337.3L895.7 2335.9L896.7 2336.6L897.8 2335L898.8 2335.9L899.8 2335.6L900.9 2334.4L901.9 2333.3L902.9 2333.2L904 2333.9L905 2333.3L906 2332.7L907.1 2330.9L908.1 2329.5L909.1 2327.9L910.2 2328.7L911.2 2327.9L912.2 2328.3L913.3 2326.7L914.3 2326.6L915.3 2326.2L916.4 2325.4L917.4 2326.2L918.4 2324.6L919.4 2325.1L920.5 2324.1L921.5 2322.4L922.5 2323.4L923.6 2323.2L924.6 2322.5L925.6 2322.1L926.7 2322.4L927.7 2318.9L928.7 2319.7L929.8 2318.9L930.8 2320.2L931.8 2318.9L932.9 2319.2L933.9 2317.7L934.9 2320.1L936 2318.9L937 2321.4L938 2323.1L939.1 2323.5L940.1 2323.1L941.1 2325L942.2 2325.6L943.2 2325.3L944.2 2325.1L945.3 2324.8L946.3 2324.4L947.3 2324.6L948.4 2324L949.4 2323.1L950.4 2322L951.4 2322.2L952.5 2321.3L953.5 2322.7L954.5 2320.1L955.6 2322.2L956.6 2321.3L957.6 2319.3L958.7 2319.2L959.7 2318.6L960.7 2319.4L961.8 2317.8L962.8 2318.1L963.8 2316.5L964.9 2315.5L965.9 2317.6L966.9 2316.1L968 2315.5L969 2311.9L970 2313.1L971.1 2306.4L972.1 2310.1L973.1 2307L974.2 2304.6L975.2 2299.1L976.2 2297.1L977.3 2300.5L978.3 2306.5L979.3 2303.8L980.4 2306.2L981.4 2308.8L982.4 2307.1L983.5 2307.6L984.5 2308.4L985.5 2308L986.5 2308.7L987.6 2308.3L988.6 2308.2L989.6 2306.1L990.7 2306.8L991.7 2304.9L992.7 2294.3L993.8 2295L994.8 2285.9L995.8 2275L996.9 2244.7L997.9 2237.9L998.9 2223.9L1000 2207.6L1001 2185.5L1002 2147.2L1003.1 2131.5L1004.1 2152.3L1005.1 2128L1006.2 2125.4L1007.2 2147.1L1008.2 2144.7L1009.3 2138.6L1010.3 2158.5L1011.3 2156.8L1012.4 2126.8L1013.4 2160.7L1014.4 2128.1L1015.5 2148.6L1016.5 2112.7L1017.5 2099.1L1018.5 2092.7L1019.6 2087L1020.6 2073.1L1021.6 2048.3L1022.7 2024.6L1023.7 1958.5L1024.7 1974.8L1025.8 1965.4L1026.8 1984.6L1027.8 1954.3L1028.9 1969.5L1029.9 1961.3L1030.9 1977L1032 1982.3L1033 1976L1034 1954.7L1035.1 1970.5L1036.1 1963.3L1037.1 1982.7L1038.2 1954.2L1039.2 1962.1L1040.2 1962.6L1041.3 1985.9L1042.3 1961L1043.3 1972.7L1044.4 1953.5L1045.4 1946.6L1046.4 1929.8L1047.5 1897.4L1048.5 1891.9L1049.5 1887.6L1050.6 1889.8L1051.6 1887.1L1052.6 1880.6L1053.6 1881.9L1054.7 1874.5L1055.7 1889.4L1056.7 1922.3L1057.8 1912.9L1058.8 1906.6L1059.8 1891.7L1060.9 1895.6L1061.9 1900.3L1062.9 1905L1064 1907.6L1065 1910.7L1066 1921.2L1067.1 1976.1L1068.1 1941.1L1069.1 1938.4L1070.2 1934.4L1071.2 1942.5L1072.2 1947.8L1073.3 2017.1L1074.3 1907.5L1075.3 1928.6L1076.4 1948.8L1077.4 1950.4L1078.4 1968.8L1079.5 2062.1L1080.5 2012L1081.5 1990.5L1082.6 1992.6L1083.6 2013.7L1084.6 2081.5L1085.6 2003.1L1086.7 2025.3L1087.7 2049.5L1088.7 2152.1L1089.8 2280.4L1090.8 2292.5L1091.8 2325.8L1092.9 2334.7L1093.9 2326.7L1094.9 2304.9L1096 2330.7L1097 2343L1098 2323.1L1099.1 2293.5L1100.1 2325.4L1101.1 2340.1L1102.2 2322.1L1103.2 2276.3L1104.2 2347.1L1105.3 2322L1106.3 2338.9L1107.3 2334.9L1108.4 2317.1L1109.4 2316.7L1110.4 2308.8L1111.5 2297.1L1112.5 2290.8L1113.5 2264.6L1114.6 2246.9L1115.6 2229.4L1116.6 2220.4L1117.6 2227.3L1118.7 2171.6L1119.7 2083.5L1120.7 2054.7L1121.8 2026.3L1122.8 2106.1L1123.8 2196.4L1124.9 2275L1125.9 2313.5L1126.9 2329L1128 2318L1129 2346.3L1130 2336.3L1131.1 2348.5L1132.1 2332.4L1133.1 2320.1L1134.2 2335.6L1135.2 2323.4L1136.2 2336.5L1137.3 2313.2L1138.3 2326L1139.3 2289.8L1140.4 2308.1L1141.4 2261.9L1142.4 2211.2L1143.5 2258.5L1144.5 2206.6L1145.5 2192.5L1146.6 2146.4L1147.6 2104.3L1148.6 2051.7L1149.7 2040.9L1150.7 2018.4L1151.7 2037.6L1152.7 2065.1L1153.8 2095.4L1154.8 2124.1L1155.8 2130.4L1156.9 2143.7L1157.9 2162.9L1158.9 2221.9L1160 2281.9L1161 2308L1162 2322.2L1163.1 2305.7L1164.1 2316.3L1165.1 2285.3L1166.2 2257.6L1167.2 2273.9L1168.2 2286.8L1169.3 2310.8L1170.3 2313.1L1171.3 2327.5L1172.4 2334.9L1173.4 2332.7L1174.4 2338.8L1175.5 2336.8L1176.5 2337.5L1177.5 2337.2L1178.6 2336.5L1179.6 2336.4L1180.6 2337.6L1181.7 2337L1182.7 2336.8L1183.7 2336.8L1184.7 2337.5L1185.8 2336.8L1186.8 2337L1187.8 2335.4L1188.9 2337L1189.9 2337.7L1190.9 2336.6L1192 2336.6L1193 2336.8L1194 2337.5L1195.1 2337.1L1196.1 2336.4L1197.1 2337.5L1198.2 2337.1L1199.2 2337.5L1200.2 2336.8L1201.3 2337.1L1202.3 2336.9L1203.3 2337.4L1204.4 2337.3L1205.4 2336.8L1206.4 2336.5L1207.5 2337.4L1208.5 2337.8L1209.5 2337.6L1210.6 2336.6L1211.6 2336.6L1212.6 2337.1L1213.7 2337.8L1214.7 2337.4L1215.7 2336.5L1216.8 2337.7L1217.8 2337.4L1218.8 2336.4L1219.8 2336.9L1220.9 2337.1L1221.9 2337.2L1222.9 2338.1L1224 2336.9L1225 2337L1226 2337.5L1227.1 2337.7L1228.1 2336.6L1229.1 2336.9L1230.2 2337.7L1231.2 2337.6L1232.2 2337L1233.3 2337.3L1234.3 2337L1235.3 2337.3L1236.4 2336.9L1237.4 2337L1238.4 2337.7L1239.5 2336.7L1240.5 2337.4L1241.5 2337.5L1242.6 2337.4L1243.6 2337.2L1244.6 2336.7L1245.7 2337.8L1246.7 2337.7L1247.7 2337.2L1248.8 2337.3L1249.8 2337.4L1250.8 2337L1251.8 2337.5L1252.9 2336.8L1253.9 2336.6L1254.9 2337.1L1256 2336.7L1257 2337.2L1258 2336.7L1259.1 2335.9L1260.1 2336.5L1261.1 2336.4L1262.2 2336.5L1263.2 2337.4L1264.2 2337.3L1265.3 2337.4L1266.3 2336.4L1267.3 2337.1L1268.4 2335.3L1269.4 2337.4" fill="none" stroke="#CB8BBA" stroke-width="2.7" stroke-linejoin="round"/>
<path d="M134.9 2336.2h0M135.9 2335.9h0M137 2336.1h0M138 2335.7h0M139 2336.1h0M140.1 2336.3h0M141.1 2336.3h0M142.1 2335.6h0M143.2 2336.6h0M144.2 2336.3h0M145.2 2336.1h0M146.3 2336.4h0M147.3 2335.6h0M148.3 2336h0M149.4 2336.9h0M150.4 2336.6h0M151.4 2335.6h0M152.4 2336.8h0M153.5 2336.6h0M154.5 2336.9h0M155.5 2336.5h0M156.6 2336.7h0M157.6 2336.9h0M158.6 2335.8h0M159.7 2336.7h0M160.7 2336.7h0M161.7 2336.8h0M162.8 2336.6h0M163.8 2335.9h0M164.8 2336.2h0M165.9 2336.1h0M166.9 2336.4h0M167.9 2336.1h0M169 2335.7h0M170 2335.6h0M171 2336.2h0M172.1 2335.5h0M173.1 2336.7h0M174.1 2338.2h0M175.2 2335.5h0M176.2 2335.5h0M177.2 2335h0M178.3 2334.1h0M179.3 2335.2h0M180.3 2335.2h0M181.4 2336.3h0M182.4 2334.7h0M183.4 2335.4h0M184.5 2333.8h0M185.5 2332.7h0M186.5 2331.8h0M187.5 2330.2h0M188.6 2330.2h0M189.6 2324.9h0M190.6 2324.2h0M191.7 2326.9h0M192.7 2320.5h0M193.7 2321h0M194.8 2307h0M195.8 2313.8h0M196.8 2295.2h0M197.9 2293.1h0M198.9 2291.5h0M199.9 2280.6h0M201 2280.3h0M202 2283.7h0M203 2269.7h0M204.1 2272.2h0M205.1 2264.1h0M206.1 2262.1h0M207.2 2265.5h0M208.2 2263.5h0M209.2 2260.5h0M210.3 2249.9h0M211.3 2246.7h0M212.3 2249h0M213.4 2248.6h0M214.4 2243.5h0M215.4 2228h0M216.5 2223.7h0M217.5 2219.4h0M218.5 2225.2h0M219.5 2219.3h0M220.6 2235.4h0M221.6 2228h0M222.6 2234.2h0M223.7 2256.1h0M224.7 2240.9h0M225.7 2252.8h0M226.8 2261.3h0M227.8 2271.1h0M228.8 2257.5h0M229.9 2280.1h0M230.9 2264.9h0M231.9 2296.5h0M233 2282.6h0M234 2286.5h0M235 2307h0M236.1 2305.1h0M237.1 2301.1h0M238.1 2295.7h0M239.2 2303.2h0M240.2 2288.7h0M241.2 2299.7h0M242.3 2277.4h0M243.3 2289.6h0M244.3 2288.5h0M245.4 2293.7h0M246.4 2278.5h0M247.4 2278.7h0M248.5 2284.3h0M249.5 2270.9h0M250.5 2289.2h0M251.5 2267.6h0M252.6 2266.4h0M253.6 2262.9h0M254.6 2273.7h0M255.7 2260.6h0M256.7 2282.5h0M257.7 2270.3h0M258.8 2211.8h0M259.8 2245.1h0M260.8 2196h0M261.9 2257.7h0M262.9 2209.1h0M263.9 2242.4h0M265 2223.8h0M266 2204h0M267 2250.3h0M268.1 2196.3h0M269.1 2205.2h0M270.1 2169.2h0M271.2 2147.8h0M272.2 2106.4h0M273.2 2073.9h0M274.3 2048.5h0M275.3 2043.3h0M276.3 1995h0M277.4 1993.5h0M278.4 2017h0M279.4 1985.4h0M280.5 1986h0M281.5 2011.5h0M282.5 1993.2h0M283.6 2010.5h0M284.6 2000.7h0M285.6 1988.7h0M286.6 1983.9h0M287.7 1978h0M288.7 1942.6h0M289.7 1925h0M290.8 1903.7h0M291.8 1895.8h0M292.8 1891.8h0M293.9 1880.1h0M294.9 1883.5h0M295.9 1880.1h0M297 1878.1h0M298 1876.6h0M299 1875.1h0M300.1 1874.6h0M301.1 1876.4h0M302.1 1889.4h0M303.2 1886.9h0M304.2 1895.5h0M305.2 1885.4h0M306.3 1891.5h0M307.3 1901.9h0M308.3 1896.7h0M309.4 1907.3h0M310.4 1905.2h0M311.4 1909.4h0M312.5 1904.7h0M313.5 1917.6h0M314.5 1908.6h0M315.6 1920.9h0M316.6 1926.3h0M317.6 1913.9h0M318.6 1926.2h0M319.7 1918.7h0M320.7 1920.9h0M321.7 1933.8h0M322.8 1926.9h0M323.8 1937.2h0M324.8 1958.1h0M325.9 2026.3h0M326.9 2127.2h0M327.9 2085.2h0M329 2029.4h0M330 2014.5h0M331 1992.1h0M332.1 1986.2h0M333.1 1964.3h0M334.1 1974.1h0M335.2 2048.5h0M336.2 2117.5h0M337.2 2201.8h0M338.3 2312.3h0M339.3 2280.2h0M340.3 2225.6h0M341.4 2263.5h0M342.4 2269.1h0M343.4 2208.9h0M344.5 2250.9h0M345.5 2207.5h0M346.5 2144.2h0M347.6 2098.7h0M348.6 2048.1h0M349.6 2043.6h0M350.7 2065.5h0M351.7 2046.1h0M352.7 2065.8h0M353.7 2046.8h0M354.8 2049.3h0M355.8 2069.4h0M356.8 2036.6h0M357.9 2120h0M358.9 2201.3h0M359.9 2270.7h0M361 2321.9h0M362 2258.7h0M363 2199.1h0M364.1 2056.3h0M365.1 2108.4h0M366.1 2102.4h0M367.2 2120.1h0M368.2 2051h0M369.2 2115.2h0M370.3 2077.8h0M371.3 2117h0M372.3 2066.8h0M373.4 2101.4h0M374.4 2045.4h0M375.4 2107.3h0M376.5 2065.7h0M377.5 2108.7h0M378.5 1968.5h0M379.6 2026.7h0M380.6 2058.8h0M381.6 2042.4h0M382.7 2065.8h0M383.7 2031.6h0M384.7 2070.6h0M385.7 2023.4h0M386.8 2064.4h0M387.8 2034.6h0M388.8 2035.6h0M389.9 2059.7h0M390.9 2038.5h0M391.9 2055.1h0M393 2115.2h0M394 2089.4h0M395 2122.1h0M396.1 2093.9h0M397.1 2120.5h0M398.1 2113h0M399.2 2132.5h0M400.2 2176.9h0M401.2 2221.6h0M402.3 2259.8h0M403.3 2284.9h0M404.3 2300.2h0M405.4 2317.7h0M406.4 2333h0M407.4 2338.7h0M408.5 2333.4h0M409.5 2338.1h0M410.5 2336.6h0M411.6 2337.5h0M412.6 2337.5h0M413.6 2337.9h0M414.7 2338h0M415.7 2337h0M416.7 2337h0M417.8 2337.5h0M418.8 2337.2h0M419.8 2337.1h0M420.8 2336.7h0M421.9 2336.8h0M422.9 2337.5h0M423.9 2337.6h0M425 2336.8h0M426 2336.8h0M427 2337.4h0M428.1 2337.2h0M429.1 2337.6h0M430.1 2337h0M431.2 2337.8h0M432.2 2337.9h0M433.2 2336.9h0M434.3 2338.7h0M435.3 2337.3h0M436.3 2337.4h0M437.4 2337.6h0M438.4 2339.1h0M439.4 2337.6h0M440.5 2337.8h0M441.5 2336.6h0M442.5 2337.5h0M443.6 2337.1h0M444.6 2337.3h0M445.6 2338h0M446.7 2337.5h0M447.7 2337.6h0M448.7 2337.8h0M449.8 2337.6h0M450.8 2338.1h0M451.8 2337.4h0M452.8 2337.8h0M453.9 2336.7h0M454.9 2337.5h0M455.9 2337.4h0M457 2337.5h0M458 2337h0M459 2336.7h0M460.1 2337.1h0M461.1 2336.7h0M462.1 2336.8h0M463.2 2337.5h0M464.2 2337.9h0M465.2 2337.6h0M466.3 2337.8h0M467.3 2337.7h0M468.3 2336.9h0M469.4 2337.8h0M470.4 2338h0M471.4 2337.9h0M472.5 2337.3h0M473.5 2337.1h0M474.5 2336.8h0M475.6 2337.8h0M476.6 2336.8h0M477.6 2337.2h0M478.7 2336.9h0M479.7 2337.8h0M480.7 2336.8h0M481.8 2338.7h0M482.8 2336.8h0M483.8 2336.9h0M484.8 2337.8h0M485.9 2337.5h0M486.9 2337h0M487.9 2336.8h0M489 2336.8h0M490 2337.3h0M491 2337.9h0M492.1 2336.6h0M493.1 2337h0M494.1 2337.7h0M495.2 2337h0M496.2 2336.6h0M497.2 2336.2h0M498.3 2337.2h0M499.3 2338h0M500.3 2336.9h0M501.4 2337.9h0M502.4 2337.4h0M503.4 2336.6h0M504.5 2338.1h0M505.5 2337.9h0M506.5 2337.3h0M507.6 2336.8h0M508.6 2337.9h0M509.6 2337h0M510.7 2337h0M511.7 2337.5h0M512.7 2337.6h0M513.8 2337.5h0M514.8 2338h0M515.8 2337.2h0M516.9 2336.7h0M517.9 2336.4h0M518.9 2337.3h0M519.9 2337.2h0M521 2337.7h0M522 2339.3h0M523 2336.8h0M524.1 2335.7h0M525.1 2335.5h0M526.1 2336.4h0M527.2 2335.2h0M528.2 2336.5h0M529.2 2335.2h0M530.3 2336.1h0M531.3 2335.5h0M532.3 2334.7h0M533.4 2335.4h0M534.4 2334.6h0M535.4 2334h0M536.5 2335.3h0M537.5 2334.3h0M538.5 2335.4h0M539.6 2334.4h0M540.6 2334.2h0M541.6 2335.3h0M542.7 2333.8h0M543.7 2334.1h0M544.7 2334.6h0M545.8 2334.3h0M546.8 2334.5h0M547.8 2333.7h0M548.9 2333.7h0M549.9 2334.2h0M550.9 2334.5h0M551.9 2334.7h0M553 2334.1h0M554 2334.1h0M555 2333.8h0M556.1 2332.8h0M557.1 2332.8h0M558.1 2331.1h0M559.2 2332.4h0M560.2 2331.6h0M561.2 2331h0M562.3 2331.3h0M563.3 2330.7h0M564.3 2332.3h0M565.4 2332.1h0M566.4 2332.1h0M567.4 2332.5h0M568.5 2333.8h0M569.5 2333.5h0M570.5 2333.4h0M571.6 2334.5h0M572.6 2332.5h0M573.6 2334.3h0M574.7 2334.7h0M575.7 2334h0M576.7 2333.5h0M577.8 2333.4h0M578.8 2333.4h0M579.8 2333.9h0M580.9 2334h0M581.9 2334.9h0M582.9 2334.9h0M584 2333.8h0M585 2333.9h0M586 2333.5h0M587 2333.7h0M588.1 2334.8h0M589.1 2334.4h0M590.1 2333.2h0M591.2 2331.9h0M592.2 2331.8h0M593.2 2331h0M594.3 2331.1h0M595.3 2331.3h0M596.3 2329.9h0M597.4 2328.3h0M598.4 2327.7h0M599.4 2322.4h0M600.5 2321.5h0M601.5 2309.2h0M602.5 2311h0M603.6 2303.8h0M604.6 2298.3h0M605.6 2304.4h0M606.7 2293.7h0M607.7 2287.7h0M608.7 2288.2h0M609.8 2271.8h0M610.8 2266.2h0M611.8 2263.1h0M612.9 2254.6h0M613.9 2241.7h0M614.9 2243.2h0M616 2221.2h0M617 2216.5h0M618 2209.8h0M619 2202h0M620.1 2189.4h0M621.1 2163.3h0M622.1 2180h0M623.2 2194.9h0M624.2 2169.8h0M625.2 2164.5h0M626.3 2181.7h0M627.3 2194.5h0M628.3 2190.1h0M629.4 2166.4h0M630.4 2179h0M631.4 2175.3h0M632.5 2180h0M633.5 2179.2h0M634.5 2179.1h0M635.6 2186.8h0M636.6 2187.5h0M637.6 2195h0M638.7 2175.5h0M639.7 2178.4h0M640.7 2148.2h0M641.8 2108.1h0M642.8 2118.9h0M643.8 2096h0M644.9 2119.1h0M645.9 2080.4h0M646.9 2084.4h0M648 2075.8h0M649 2094.9h0M650 2090.6h0M651 2089.3h0M652.1 2054.1h0M653.1 2029h0M654.1 2007.7h0M655.2 1992.9h0M656.2 1986.8h0M657.2 1965.7h0M658.3 1962.6h0M659.3 1964.7h0M660.3 1938.7h0M661.4 1940h0M662.4 1927.9h0M663.4 1915.9h0M664.5 1903.8h0M665.5 1907.4h0M666.5 1898.5h0M667.6 1891h0M668.6 1885.3h0M669.6 1885.4h0M670.7 1882h0M671.7 1878.7h0M672.7 1882.3h0M673.8 1879.2h0M674.8 1877.9h0M675.8 1893.9h0M676.9 1884.5h0M677.9 1882.8h0M678.9 1888.2h0M680 1887.7h0M681 1901.7h0M682 1904.8h0M683.1 1892.8h0M684.1 1905.2h0M685.1 1898.9h0M686.1 1895.3h0M687.2 1901.4h0M688.2 1913.7h0M689.2 1907.4h0M690.3 1954.9h0M691.3 1907.9h0M692.3 1920.9h0M693.4 1922.1h0M694.4 1907.9h0M695.4 1924.7h0M696.5 1920.8h0M697.5 1914.4h0M698.5 1924.5h0M699.6 1917.5h0M700.6 1923.9h0M701.6 1935.4h0M702.7 1920.9h0M703.7 1937.5h0M704.7 1935.4h0M705.8 1936.2h0M706.8 1933.9h0M707.8 1945.9h0M708.9 1933.3h0M709.9 1946.4h0M710.9 1946.2h0M712 1962h0M713 1992.5h0M714 1965.7h0M715.1 1948.8h0M716.1 1989.3h0M717.1 2048h0M718.1 2063.7h0M719.2 2141.7h0M720.2 2151.3h0M721.2 2180.4h0M722.3 2227.7h0M723.3 2231.9h0M724.3 2265.8h0M725.4 2293h0M726.4 2237.7h0M727.4 2158.9h0M728.5 2104.1h0M729.5 2077.7h0M730.5 2035.9h0M731.6 2007h0M732.6 1990.8h0M733.6 1977.4h0M734.7 1959.8h0M735.7 1950.9h0M736.7 1931.5h0M737.8 1961.5h0M738.8 1990.4h0M739.8 2011.1h0M740.9 2076.2h0M741.9 2024.9h0M742.9 1980.2h0M744 1955.8h0M745 1948.6h0M746 1944.9h0M747.1 1933.7h0M748.1 1959h0M749.1 1937h0M750.2 1955.4h0M751.2 1935.4h0M752.2 1958.5h0M753.2 1930.6h0M754.3 1967.2h0M755.3 1947.9h0M756.3 1950.3h0M757.4 1985.5h0M758.4 2022.2h0M759.4 1984.8h0M760.5 1954.2h0M761.5 1948.9h0M762.5 1937h0M763.6 1941.2h0M764.6 1949.6h0M765.6 1953.5h0M766.7 1955.3h0M767.7 1954.3h0M768.7 1964.1h0M769.8 1969.2h0M770.8 1973.8h0M771.8 1980.4h0M772.9 1994.4h0M773.9 2010.3h0M774.9 2047.6h0M776 2103.6h0M777 2150.5h0M778 2185.6h0M779.1 2278.2h0M780.1 2330.9h0M781.1 2331.3h0M782.2 2330.4h0M783.2 2328.7h0M784.2 2327.5h0M785.2 2326.8h0M786.3 2325.9h0M787.3 2326.5h0M788.3 2328.9h0M789.4 2328.3h0M790.4 2327.7h0M791.4 2332.4h0M792.5 2333.3h0M793.5 2335h0M794.5 2332.6h0M795.6 2336.3h0M796.6 2335.7h0M797.6 2336.9h0M798.7 2335.4h0M799.7 2337.5h0M800.7 2336.5h0M801.8 2336.3h0M802.8 2337h0M803.8 2337.4h0M804.9 2337.3h0M805.9 2336.5h0M806.9 2336.4h0M808 2336.6h0M809 2336.5h0M810 2336.9h0M811.1 2338.3h0M812.1 2337.2h0M813.1 2336.3h0M814.2 2336.2h0M815.2 2336.9h0M816.2 2337.1h0M817.3 2337.5h0M818.3 2336.3h0M819.3 2337.4h0M820.3 2334.8h0M821.4 2337.5h0M822.4 2336.5h0M823.4 2337h0M824.5 2336.8h0M825.5 2337.4h0M826.5 2336.6h0M827.6 2336.5h0M828.6 2336.5h0M829.6 2335.2h0M830.7 2337.5h0M831.7 2337.5h0M832.7 2336.4h0M833.8 2336.6h0M834.8 2337.1h0M835.8 2337.1h0M836.9 2336.6h0M837.9 2336.2h0M838.9 2339.1h0M840 2336.1h0M841 2337h0M842 2337.4h0M843.1 2336.3h0M844.1 2337.5h0M845.1 2336.2h0M846.2 2336.5h0M847.2 2336.4h0M848.2 2336.7h0M849.3 2336.5h0M850.3 2337.4h0M851.3 2336.7h0M852.3 2337.1h0M853.4 2336.7h0M854.4 2337.3h0M855.4 2337.1h0M856.5 2336.9h0M857.5 2337.1h0M858.5 2336.1h0M859.6 2336.4h0M860.6 2336.9h0M861.6 2336.9h0M862.7 2337h0M863.7 2336.5h0M864.7 2336.9h0M865.8 2336.9h0M866.8 2336.6h0M867.8 2336.7h0M868.9 2337.3h0M869.9 2336.4h0M870.9 2337.5h0M872 2336.4h0M873 2336.1h0M874 2337.3h0M875.1 2337.5h0M876.1 2336.9h0M877.1 2336.8h0M878.2 2337h0M879.2 2336.3h0M880.2 2336.7h0M881.3 2336.7h0M882.3 2337.3h0M883.3 2336.3h0M884.3 2337h0M885.4 2336.6h0M886.4 2336.4h0M887.4 2336.5h0M888.5 2337.3h0M889.5 2336.9h0M890.5 2336.9h0M891.6 2336.4h0M892.6 2336.5h0M893.6 2337.2h0M894.7 2337.3h0M895.7 2335.9h0M896.7 2336.6h0M897.8 2335h0M898.8 2335.9h0M899.8 2335.6h0M900.9 2334.4h0M901.9 2333.3h0M902.9 2333.2h0M904 2333.9h0M905 2333.3h0M906 2332.7h0M907.1 2330.9h0M908.1 2329.5h0M909.1 2327.9h0M910.2 2328.7h0M911.2 2327.9h0M912.2 2328.3h0M913.3 2326.7h0M914.3 2326.6h0M915.3 2326.2h0M916.4 2325.4h0M917.4 2326.2h0M918.4 2324.6h0M919.4 2325.1h0M920.5 2324.1h0M921.5 2322.4h0M922.5 2323.4h0M923.6 2323.2h0M924.6 2322.5h0M925.6 2322.1h0M926.7 2322.4h0M927.7 2318.9h0M928.7 2319.7h0M929.8 2318.9h0M930.8 2320.2h0M931.8 2318.9h0M932.9 2319.2h0M933.9 2317.7h0M934.9 2320.1h0M936 2318.9h0M937 2321.4h0M938 2323.1h0M939.1 2323.5h0M940.1 2323.1h0M941.1 2325h0M942.2 2325.6h0M943.2 2325.3h0M944.2 2325.1h0M945.3 2324.8h0M946.3 2324.4h0M947.3 2324.6h0M948.4 2324h0M949.4 2323.1h0M950.4 2322h0M951.4 2322.2h0M952.5 2321.3h0M953.5 2322.7h0M954.5 2320.1h0M955.6 2322.2h0M956.6 2321.3h0M957.6 2319.3h0M958.7 2319.2h0M959.7 2318.6h0M960.7 2319.4h0M961.8 2317.8h0M962.8 2318.1h0M963.8 2316.5h0M964.9 2315.5h0M965.9 2317.6h0M966.9 2316.1h0M968 2315.5h0M969 2311.9h0M970 2313.1h0M971.1 2306.4h0M972.1 2310.1h0M973.1 2307h0M974.2 2304.6h0M975.2 2299.1h0M976.2 2297.1h0M977.3 2300.5h0M978.3 2306.5h0M979.3 2303.8h0M980.4 2306.2h0M981.4 2308.8h0M982.4 2307.1h0M983.5 2307.6h0M984.5 2308.4h0M985.5 2308h0M986.5 2308.7h0M987.6 2308.3h0M988.6 2308.2h0M989.6 2306.1h0M990.7 2306.8h0M991.7 2304.9h0M992.7 2294.3h0M993.8 2295h0M994.8 2285.9h0M995.8 2275h0M996.9 2244.7h0M997.9 2237.9h0M998.9 2223.9h0M1000 2207.6h0M1001 2185.5h0M1002 2147.2h0M1003.1 2131.5h0M1004.1 2152.3h0M1005.1 2128h0M1006.2 2125.4h0M1007.2 2147.1h0M1008.2 2144.7h0M1009.3 2138.6h0M1010.3 2158.5h0M1011.3 2156.8h0M1012.4 2126.8h0M1013.4 2160.7h0M1014.4 2128.1h0M1015.5 2148.6h0M1016.5 2112.7h0M1017.5 2099.1h0M1018.5 2092.7h0M1019.6 2087h0M1020.6 2073.1h0M1021.6 2048.3h0M1022.7 2024.6h0M1023.7 1958.5h0M1024.7 1974.8h0M1025.8 1965.4h0M1026.8 1984.6h0M1027.8 1954.3h0M1028.9 1969.5h0M1029.9 1961.3h0M1030.9 1977h0M1032 1982.3h0M1033 1976h0M1034 1954.7h0M1035.1 1970.5h0M1036.1 1963.3h0M1037.1 1982.7h0M1038.2 1954.2h0M1039.2 1962.1h0M1040.2 1962.6h0M1041.3 1985.9h0M1042.3 1961h0M1043.3 1972.7h0M1044.4 1953.5h0M1045.4 1946.6h0M1046.4 1929.8h0M1047.5 1897.4h0M1048.5 1891.9h0M1049.5 1887.6h0M1050.6 1889.8h0M1051.6 1887.1h0M1052.6 1880.6h0M1053.6 1881.9h0M1054.7 1874.5h0M1055.7 1889.4h0M1056.7 1922.3h0M1057.8 1912.9h0M1058.8 1906.6h0M1059.8 1891.7h0M1060.9 1895.6h0M1061.9 1900.3h0M1062.9 1905h0M1064 1907.6h0M1065 1910.7h0M1066 1921.2h0M1067.1 1976.1h0M1068.1 1941.1h0M1069.1 1938.4h0M1070.2 1934.4h0M1071.2 1942.5h0M1072.2 1947.8h0M1073.3 2017.1h0M1074.3 1907.5h0M1075.3 1928.6h0M1076.4 1948.8h0M1077.4 1950.4h0M1078.4 1968.8h0M1079.5 2062.1h0M1080.5 2012h0M1081.5 1990.5h0M1082.6 1992.6h0M1083.6 2013.7h0M1084.6 2081.5h0M1085.6 2003.1h0M1086.7 2025.3h0M1087.7 2049.5h0M1088.7 2152.1h0M1089.8 2280.4h0M1090.8 2292.5h0M1091.8 2325.8h0M1092.9 2334.7h0M1093.9 2326.7h0M1094.9 2304.9h0M1096 2330.7h0M1097 2343h0M1098 2323.1h0M1099.1 2293.5h0M1100.1 2325.4h0M1101.1 2340.1h0M1102.2 2322.1h0M1103.2 2276.3h0M1104.2 2347.1h0M1105.3 2322h0M1106.3 2338.9h0M1107.3 2334.9h0M1108.4 2317.1h0M1109.4 2316.7h0M1110.4 2308.8h0M1111.5 2297.1h0M1112.5 2290.8h0M1113.5 2264.6h0M1114.6 2246.9h0M1115.6 2229.4h0M1116.6 2220.4h0M1117.6 2227.3h0M1118.7 2171.6h0M1119.7 2083.5h0M1120.7 2054.7h0M1121.8 2026.3h0M1122.8 2106.1h0M1123.8 2196.4h0M1124.9 2275h0M1125.9 2313.5h0M1126.9 2329h0M1128 2318h0M1129 2346.3h0M1130 2336.3h0M1131.1 2348.5h0M1132.1 2332.4h0M1133.1 2320.1h0M1134.2 2335.6h0M1135.2 2323.4h0M1136.2 2336.5h0M1137.3 2313.2h0M1138.3 2326h0M1139.3 2289.8h0M1140.4 2308.1h0M1141.4 2261.9h0M1142.4 2211.2h0M1143.5 2258.5h0M1144.5 2206.6h0M1145.5 2192.5h0M1146.6 2146.4h0M1147.6 2104.3h0M1148.6 2051.7h0M1149.7 2040.9h0M1150.7 2018.4h0M1151.7 2037.6h0M1152.7 2065.1h0M1153.8 2095.4h0M1154.8 2124.1h0M1155.8 2130.4h0M1156.9 2143.7h0M1157.9 2162.9h0M1158.9 2221.9h0M1160 2281.9h0M1161 2308h0M1162 2322.2h0M1163.1 2305.7h0M1164.1 2316.3h0M1165.1 2285.3h0M1166.2 2257.6h0M1167.2 2273.9h0M1168.2 2286.8h0M1169.3 2310.8h0M1170.3 2313.1h0M1171.3 2327.5h0M1172.4 2334.9h0M1173.4 2332.7h0M1174.4 2338.8h0M1175.5 2336.8h0M1176.5 2337.5h0M1177.5 2337.2h0M1178.6 2336.5h0M1179.6 2336.4h0M1180.6 2337.6h0M1181.7 2337h0M1182.7 2336.8h0M1183.7 2336.8h0M1184.7 2337.5h0M1185.8 2336.8h0M1186.8 2337h0M1187.8 2335.4h0M1188.9 2337h0M1189.9 2337.7h0M1190.9 2336.6h0M1192 2336.6h0M1193 2336.8h0M1194 2337.5h0M1195.1 2337.1h0M1196.1 2336.4h0M1197.1 2337.5h0M1198.2 2337.1h0M1199.2 2337.5h0M1200.2 2336.8h0M1201.3 2337.1h0M1202.3 2336.9h0M1203.3 2337.4h0M1204.4 2337.3h0M1205.4 2336.8h0M1206.4 2336.5h0M1207.5 2337.4h0M1208.5 2337.8h0M1209.5 2337.6h0M1210.6 2336.6h0M1211.6 2336.6h0M1212.6 2337.1h0M1213.7 2337.8h0M1214.7 2337.4h0M1215.7 2336.5h0M1216.8 2337.7h0M1217.8 2337.4h0M1218.8 2336.4h0M1219.8 2336.9h0M1220.9 2337.1h0M1221.9 2337.2h0M1222.9 2338.1h0M1224 2336.9h0M1225 2337h0M1226 2337.5h0M1227.1 2337.7h0M1228.1 2336.6h0M1229.1 2336.9h0M1230.2 2337.7h0M1231.2 2337.6h0M1232.2 2337h0M1233.3 2337.3h0M1234.3 2337h0M1235.3 2337.3h0M1236.4 2336.9h0M1237.4 2337h0M1238.4 2337.7h0M1239.5 2336.7h0M1240.5 2337.4h0M1241.5 2337.5h0M1242.6 2337.4h0M1243.6 2337.2h0M1244.6 2336.7h0M1245.7 2337.8h0M1246.7 2337.7h0M1247.7 2337.2h0M1248.8 2337.3h0M1249.8 2337.4h0M1250.8 2337h0M1251.8 2337.5h0M1252.9 2336.8h0M1253.9 2336.6h0M1254.9 2337.1h0M1256 2336.7h0M1257 2337.2h0M1258 2336.7h0M1259.1 2335.9h0M1260.1 2336.5h0M1261.1 2336.4h0M1262.2 2336.5h0M1263.2 2337.4h0M1264.2 2337.3h0M1265.3 2337.4h0M1266.3 2336.4h0M1267.3 2337.1h0M1268.4 2335.3h0M1269.4 2337.4h0" fill="none" stroke="#CB8BBA" stroke-width="8.0" stroke-linecap="round"/>
</g>
<rect x="135.1" y="1770.9" width="1128.4" height="623.1" fill="none" stroke="#000" stroke-width="3"/>
<path d="M321.7 2394v-17M511.2 2394v-17M698.3 2394v-17M888.3 2394v-17M1076.3 2394v-17M226.3 2394v-8.5M415.7 2394v-8.5M604.2 2394v-8.5M792.4 2394v-8.5M980.4 2394v-8.5M1170.3 2394v-8.5M135.1 2337.2h17M135.1 2280.6h8.5M135.1 2223.9h17M135.1 2167.3h8.5M135.1 2110.7h17M135.1 2054h8.5M135.1 1997.4h17M135.1 1940.8h8.5M135.1 1884.2h17M135.1 1827.5h8.5" fill="none" stroke="#000" stroke-width="2.8"/>
<text x="113.8" y="2346.7" text-anchor="end" class="tl">0</text>
<text x="113.8" y="2233.4" text-anchor="end" class="tl">20</text>
<text x="113.8" y="2120.2" text-anchor="end" class="tl">40</text>
<text x="113.8" y="2006.9" text-anchor="end" class="tl">60</text>
<text x="113.8" y="1893.7" text-anchor="end" class="tl">80</text>
<text x="113.8" y="1780.4" text-anchor="end" class="tl">100</text>
<text x="133.6" y="2437.4" text-anchor="middle" class="tl">2018/01</text>
<text x="320.2" y="2437.4" text-anchor="middle" class="tl">2018/07</text>
<text x="509.7" y="2437.4" text-anchor="middle" class="tl">2019/01</text>
<text x="696.8" y="2437.4" text-anchor="middle" class="tl">2019/07</text>
<text x="886.8" y="2437.4" text-anchor="middle" class="tl">2020/01</text>
<text x="1074.8" y="2437.4" text-anchor="middle" class="tl">2020/07</text>
<text x="659.5" y="2488.5" text-anchor="middle" class="at">Time (Year/month/date)</text>
<text transform="translate(30.2 2105.6) rotate(-90)" text-anchor="middle" class="at">Failure probability (%)</text>
<path d="M175.3 73.3L180.70000000000002 82.4H169.9Z" fill="none" stroke="#4a4a4a" stroke-width="1.0"/>
<text x="250.5" y="86.9" class="lg" style="font-size:25.5px" textLength="231.5" lengthAdjust="spacing">MCS Caculated value</text>
<path d="M547.3 79.6H621.3" stroke="#F4A470" stroke-width="1.8"/><circle cx="584.2" cy="79.6" r="3.4" fill="#F4A470"/>
<text x="680.8" y="89.4" class="lg" style="font-size:28.2px" textLength="240" lengthAdjust="spacing">MLP Predicted value</text>
<path d="M681 92.2H738" stroke="#f3b6b6" stroke-width="1"/>
<path d="M183.5 955.8L189.5 966H177.5Z" fill="none" stroke="#000" stroke-width="1.3"/>
<text x="221" y="970.3" class="lg" style="font-size:25.5px" textLength="230.5" lengthAdjust="spacing">MCS Caculated value</text>
<path d="M474.3 963.3H535.4" stroke="#7A9AC1" stroke-width="1.8"/><circle cx="504.5" cy="963.3" r="3.2" fill="#7A9AC1"/>
<text x="555.3" y="970.3" class="lg" style="font-size:25.5px" textLength="223.5" lengthAdjust="spacing">CNN Predicted value</text>
<path d="M172 1790L177.5 1799H166.5Z" fill="none" stroke="#000" stroke-width="1.3"/>
<text x="231.7" y="1809.4" class="lg" style="font-size:25.5px" textLength="231.5" lengthAdjust="spacing">MCS Caculated value</text>
<path d="M495 1795H552.4" stroke="#CB8BBA" stroke-width="1.8"/><circle cx="523.2" cy="1795" r="3.2" fill="#CB8BBA"/>
<text x="564" y="1809.4" class="lg" style="font-size:25.5px" textLength="240" lengthAdjust="spacing">LSTM Predicted value</text>
<text x="1207.8" y="28.7" class="pl">(a)</text>
<text x="1206" y="908.6" class="pl">(b)</text>
<text x="1201.5" y="1739.4" class="pl">(c)</text>
</svg>
</body></html>
